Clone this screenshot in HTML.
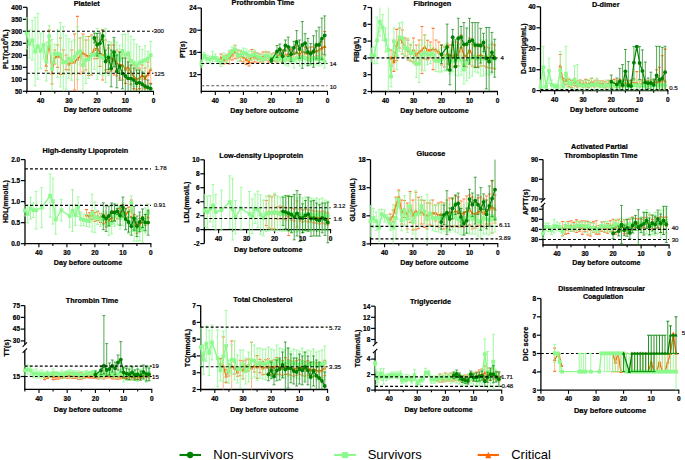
<!DOCTYPE html>
<html><head><meta charset="utf-8"><style>
html,body{margin:0;padding:0;background:#fff;width:685px;height:460px;overflow:hidden}
svg{display:block;font-family:"Liberation Sans", sans-serif}
text[font-weight="bold"]{stroke:#000;stroke-width:0.22px}
</style></head><body>
<svg width="685" height="460" viewBox="0 0 685 460">
<rect width="685" height="460" fill="#fff"/>
<g>
<line x1="27.0" y1="7.3" x2="27.0" y2="91.3" stroke="#000" stroke-width="1.3" />
<line x1="26.4" y1="91.3" x2="154.0" y2="91.3" stroke="#000" stroke-width="1.3" />
<line x1="23.0" y1="7.3" x2="27.0" y2="7.3" stroke="#000" stroke-width="1.2" />
<line x1="23.0" y1="19.3" x2="27.0" y2="19.3" stroke="#000" stroke-width="1.2" />
<line x1="23.0" y1="31.3" x2="27.0" y2="31.3" stroke="#000" stroke-width="1.2" />
<line x1="23.0" y1="43.3" x2="27.0" y2="43.3" stroke="#000" stroke-width="1.2" />
<line x1="23.0" y1="55.3" x2="27.0" y2="55.3" stroke="#000" stroke-width="1.2" />
<line x1="23.0" y1="67.3" x2="27.0" y2="67.3" stroke="#000" stroke-width="1.2" />
<line x1="23.0" y1="79.3" x2="27.0" y2="79.3" stroke="#000" stroke-width="1.2" />
<line x1="23.0" y1="91.3" x2="27.0" y2="91.3" stroke="#000" stroke-width="1.2" />
<line x1="153.5" y1="91.3" x2="153.5" y2="94.9" stroke="#000" stroke-width="1.1" />
<line x1="139.4" y1="91.3" x2="139.4" y2="93.5" stroke="#000" stroke-width="1.1" />
<line x1="125.3" y1="91.3" x2="125.3" y2="94.9" stroke="#000" stroke-width="1.1" />
<line x1="111.2" y1="91.3" x2="111.2" y2="93.5" stroke="#000" stroke-width="1.1" />
<line x1="97.1" y1="91.3" x2="97.1" y2="94.9" stroke="#000" stroke-width="1.1" />
<line x1="83.0" y1="91.3" x2="83.0" y2="93.5" stroke="#000" stroke-width="1.1" />
<line x1="68.9" y1="91.3" x2="68.9" y2="94.9" stroke="#000" stroke-width="1.1" />
<line x1="54.8" y1="91.3" x2="54.8" y2="93.5" stroke="#000" stroke-width="1.1" />
<line x1="40.7" y1="91.3" x2="40.7" y2="94.9" stroke="#000" stroke-width="1.1" />
<line x1="26.6" y1="91.3" x2="26.6" y2="93.5" stroke="#000" stroke-width="1.1" />
<path d="M46.3 60.0V70.6M49.2 30.0V50.0M52.0 62.0V84.0M54.8 50.0V64.0M57.6 45.0V67.4M60.4 38.0V74.4M63.3 50.0V74.0M66.1 55.0V69.6M68.9 58.0V70.0M71.7 50.0V74.0M74.5 34.0V90.0M77.4 16.4V91.3M80.2 38.0V74.0M83.0 34.0V72.0M85.8 40.0V70.0M88.6 36.5V75.5M91.5 35.0V75.0M94.3 40.0V58.8M97.1 37.0V58.6M99.9 40.0V66.4M102.7 30.0V80.0M105.6 40.0V70.0M108.4 48.0V72.0M111.2 45.0V71.0M114.0 45.0V75.0M116.8 50.0V76.0M119.7 52.0V78.0M122.5 50.0V80.0M125.3 55.0V83.4M128.1 55.0V78.8M130.9 60.0V84.4M133.8 65.0V88.6M136.6 68.0V90.0M139.4 68.0V88.6M142.2 65.0V85.6M145.0 68.0V88.6M147.9 62.0V87.0M150.7 55.0V83.4" stroke="#FFA36B" stroke-width="0.8" fill="none" opacity="1"/>
<path d="M44.8 60.0h3M44.8 70.6h3M47.7 30.0h3M47.7 50.0h3M50.5 62.0h3M50.5 84.0h3M53.3 50.0h3M53.3 64.0h3M56.1 45.0h3M56.1 67.4h3M58.9 38.0h3M58.9 74.4h3M61.8 50.0h3M61.8 74.0h3M64.6 55.0h3M64.6 69.6h3M67.4 58.0h3M67.4 70.0h3M70.2 50.0h3M70.2 74.0h3M73.0 34.0h3M73.0 90.0h3M75.9 16.4h3M78.7 38.0h3M78.7 74.0h3M81.5 34.0h3M81.5 72.0h3M84.3 40.0h3M84.3 70.0h3M87.1 36.5h3M87.1 75.5h3M90.0 35.0h3M90.0 75.0h3M92.8 40.0h3M92.8 58.8h3M95.6 37.0h3M95.6 58.6h3M98.4 40.0h3M98.4 66.4h3M101.2 30.0h3M101.2 80.0h3M104.1 40.0h3M104.1 70.0h3M106.9 48.0h3M106.9 72.0h3M109.7 45.0h3M109.7 71.0h3M112.5 45.0h3M112.5 75.0h3M115.3 50.0h3M115.3 76.0h3M118.2 52.0h3M118.2 78.0h3M121.0 50.0h3M121.0 80.0h3M123.8 55.0h3M123.8 83.4h3M126.6 55.0h3M126.6 78.8h3M129.4 60.0h3M129.4 84.4h3M132.3 65.0h3M132.3 88.6h3M135.1 68.0h3M135.1 90.0h3M137.9 68.0h3M137.9 88.6h3M140.7 65.0h3M140.7 85.6h3M143.5 68.0h3M143.5 88.6h3M146.4 62.0h3M146.4 87.0h3M149.2 55.0h3M149.2 83.4h3" stroke="#FF7A2A" stroke-width="1.1" fill="none" opacity="1"/>
<polyline points="46.3,65.3 49.2,40.0 52.0,73.0 54.8,57.0 57.6,56.2 60.4,56.2 63.3,62.0 66.1,62.3 68.9,64.0 71.7,62.0 74.5,62.0 77.4,59.0 80.2,56.0 83.0,53.0 85.8,55.0 88.6,56.0 91.5,55.0 94.3,49.4 97.1,47.8 99.9,53.2 102.7,55.0 105.6,55.0 108.4,60.0 111.2,58.0 114.0,60.0 116.8,63.0 119.7,65.0 122.5,65.0 125.3,69.2 128.1,66.9 130.9,72.2 133.8,76.8 136.6,79.0 139.4,78.3 142.2,75.3 145.0,78.3 147.9,74.5 150.7,69.2" stroke="#FF6600" stroke-width="1.3" fill="none" stroke-linejoin="round"/>
<path d="M46.3 63.2L48.1 66.8L44.5 66.8Z" fill="#FF6600"/>
<path d="M49.2 37.9L51.0 41.5L47.4 41.5Z" fill="#FF6600"/>
<path d="M52.0 70.9L53.8 74.5L50.2 74.5Z" fill="#FF6600"/>
<path d="M54.8 54.9L56.6 58.5L53.0 58.5Z" fill="#FF6600"/>
<path d="M57.6 54.1L59.4 57.7L55.8 57.7Z" fill="#FF6600"/>
<path d="M60.4 54.1L62.2 57.7L58.6 57.7Z" fill="#FF6600"/>
<path d="M63.3 59.9L65.1 63.5L61.5 63.5Z" fill="#FF6600"/>
<path d="M66.1 60.2L67.9 63.8L64.3 63.8Z" fill="#FF6600"/>
<path d="M68.9 61.9L70.7 65.5L67.1 65.5Z" fill="#FF6600"/>
<path d="M71.7 59.9L73.5 63.5L69.9 63.5Z" fill="#FF6600"/>
<path d="M74.5 59.9L76.3 63.5L72.7 63.5Z" fill="#FF6600"/>
<path d="M77.4 56.9L79.2 60.5L75.6 60.5Z" fill="#FF6600"/>
<path d="M80.2 53.9L82.0 57.5L78.4 57.5Z" fill="#FF6600"/>
<path d="M83.0 50.9L84.8 54.5L81.2 54.5Z" fill="#FF6600"/>
<path d="M85.8 52.9L87.6 56.5L84.0 56.5Z" fill="#FF6600"/>
<path d="M88.6 53.9L90.4 57.5L86.8 57.5Z" fill="#FF6600"/>
<path d="M91.5 52.9L93.3 56.5L89.7 56.5Z" fill="#FF6600"/>
<path d="M94.3 47.3L96.1 50.9L92.5 50.9Z" fill="#FF6600"/>
<path d="M97.1 45.7L98.9 49.3L95.3 49.3Z" fill="#FF6600"/>
<path d="M99.9 51.1L101.7 54.7L98.1 54.7Z" fill="#FF6600"/>
<path d="M102.7 52.9L104.5 56.5L100.9 56.5Z" fill="#FF6600"/>
<path d="M105.6 52.9L107.4 56.5L103.8 56.5Z" fill="#FF6600"/>
<path d="M108.4 57.9L110.2 61.5L106.6 61.5Z" fill="#FF6600"/>
<path d="M111.2 55.9L113.0 59.5L109.4 59.5Z" fill="#FF6600"/>
<path d="M114.0 57.9L115.8 61.5L112.2 61.5Z" fill="#FF6600"/>
<path d="M116.8 60.9L118.6 64.5L115.0 64.5Z" fill="#FF6600"/>
<path d="M119.7 62.9L121.5 66.5L117.9 66.5Z" fill="#FF6600"/>
<path d="M122.5 62.9L124.3 66.5L120.7 66.5Z" fill="#FF6600"/>
<path d="M125.3 67.1L127.1 70.7L123.5 70.7Z" fill="#FF6600"/>
<path d="M128.1 64.8L129.9 68.4L126.3 68.4Z" fill="#FF6600"/>
<path d="M130.9 70.1L132.7 73.7L129.1 73.7Z" fill="#FF6600"/>
<path d="M133.8 74.7L135.6 78.3L132.0 78.3Z" fill="#FF6600"/>
<path d="M136.6 76.9L138.4 80.5L134.8 80.5Z" fill="#FF6600"/>
<path d="M139.4 76.2L141.2 79.8L137.6 79.8Z" fill="#FF6600"/>
<path d="M142.2 73.2L144.0 76.8L140.4 76.8Z" fill="#FF6600"/>
<path d="M145.0 76.2L146.8 79.8L143.2 79.8Z" fill="#FF6600"/>
<path d="M147.9 72.4L149.7 76.0L146.1 76.0Z" fill="#FF6600"/>
<path d="M150.7 67.1L152.5 70.7L148.9 70.7Z" fill="#FF6600"/>
<path d="M26.6 17.8V49.0M29.4 30.0V58.0M32.2 20.3V60.1M35.1 17.3V85.9M37.9 13.4V79.2M40.7 33.1V68.7M43.5 31.4V58.8M46.3 42.0V81.0M49.2 25.6V47.2M52.0 39.5V91.3M54.8 44.3V63.5M57.6 29.8V77.4M60.4 22.6V86.8M63.3 26.5V91.3M66.1 35.4V89.2M68.9 38.7V78.3M71.7 41.3V80.3M74.5 40.0V74.0M77.4 26.7V79.7M80.2 38.2V64.2M83.0 36.0V91.3M85.8 36.5V83.5M88.6 40.0V78.4M91.5 36.0V74.0M94.3 40.0V69.4M97.1 28.4V79.4M99.9 38.0V74.4M102.7 40.0V75.4M105.6 28.4V82.6M108.4 41.5V75.5M111.2 42.0V67.4M114.0 40.0V66.4M116.8 42.0V69.0M119.7 45.2V74.8M122.5 34.5V67.3M125.3 34.0V75.4M128.1 30.7V75.7M130.9 36.4V85.2M133.8 39.4V86.6M136.6 44.4V86.2M139.4 46.4V79.6M142.2 49.6V73.4M145.0 45.7V74.9M147.9 51.3V66.3M150.7 41.3V69.1" stroke="#8CF98C" stroke-width="0.8" fill="none" opacity="1"/>
<path d="M25.1 17.8h3M25.1 49.0h3M27.9 30.0h3M27.9 58.0h3M30.7 20.3h3M30.7 60.1h3M33.6 17.3h3M33.6 85.9h3M36.4 13.4h3M36.4 79.2h3M39.2 33.1h3M39.2 68.7h3M42.0 31.4h3M42.0 58.8h3M44.8 42.0h3M44.8 81.0h3M47.7 25.6h3M47.7 47.2h3M50.5 39.5h3M53.3 44.3h3M53.3 63.5h3M56.1 29.8h3M56.1 77.4h3M58.9 22.6h3M58.9 86.8h3M61.8 26.5h3M64.6 35.4h3M64.6 89.2h3M67.4 38.7h3M67.4 78.3h3M70.2 41.3h3M70.2 80.3h3M73.0 40.0h3M73.0 74.0h3M75.9 26.7h3M75.9 79.7h3M78.7 38.2h3M78.7 64.2h3M81.5 36.0h3M84.3 36.5h3M84.3 83.5h3M87.1 40.0h3M87.1 78.4h3M90.0 36.0h3M90.0 74.0h3M92.8 40.0h3M92.8 69.4h3M95.6 28.4h3M95.6 79.4h3M98.4 38.0h3M98.4 74.4h3M101.2 40.0h3M101.2 75.4h3M104.1 28.4h3M104.1 82.6h3M106.9 41.5h3M106.9 75.5h3M109.7 42.0h3M109.7 67.4h3M112.5 40.0h3M112.5 66.4h3M115.3 42.0h3M115.3 69.0h3M118.2 45.2h3M118.2 74.8h3M121.0 34.5h3M121.0 67.3h3M123.8 34.0h3M123.8 75.4h3M126.6 30.7h3M126.6 75.7h3M129.4 36.4h3M129.4 85.2h3M132.3 39.4h3M132.3 86.6h3M135.1 44.4h3M135.1 86.2h3M137.9 46.4h3M137.9 79.6h3M140.7 49.6h3M140.7 73.4h3M143.5 45.7h3M143.5 74.9h3M146.4 51.3h3M146.4 66.3h3M149.2 41.3h3M149.2 69.1h3" stroke="#8CF98C" stroke-width="0.8" fill="none" opacity="1"/>
<polyline points="26.6,33.4 29.4,44.0 32.2,40.2 35.1,51.6 37.9,46.3 40.7,50.9 43.5,45.1 46.3,61.5 49.2,36.4 52.0,69.1 54.8,53.9 57.6,53.6 60.4,54.7 63.3,62.3 66.1,62.3 68.9,58.5 71.7,60.8 74.5,57.0 77.4,53.2 80.2,51.2 83.0,65.3 85.8,60.0 88.6,59.2 91.5,55.0 94.3,54.7 97.1,53.9 99.9,56.2 102.7,57.7 105.6,55.5 108.4,58.5 111.2,54.7 114.0,53.2 116.8,55.5 119.7,60.0 122.5,50.9 125.3,54.7 128.1,53.2 130.9,60.8 133.8,63.0 136.6,65.3 139.4,63.0 142.2,61.5 145.0,60.3 147.9,58.8 150.7,55.2" stroke="#8CF98C" stroke-width="1.4" fill="none" stroke-linejoin="round"/>
<rect x="24.8" y="31.5" width="3.7" height="3.7" fill="#8CF98C"/>
<rect x="27.6" y="42.1" width="3.7" height="3.7" fill="#8CF98C"/>
<rect x="30.4" y="38.4" width="3.7" height="3.7" fill="#8CF98C"/>
<rect x="33.2" y="49.8" width="3.7" height="3.7" fill="#8CF98C"/>
<rect x="36.0" y="44.4" width="3.7" height="3.7" fill="#8CF98C"/>
<rect x="38.9" y="49.0" width="3.7" height="3.7" fill="#8CF98C"/>
<rect x="41.7" y="43.2" width="3.7" height="3.7" fill="#8CF98C"/>
<rect x="44.5" y="59.6" width="3.7" height="3.7" fill="#8CF98C"/>
<rect x="47.3" y="34.5" width="3.7" height="3.7" fill="#8CF98C"/>
<rect x="50.1" y="67.2" width="3.7" height="3.7" fill="#8CF98C"/>
<rect x="53.0" y="52.0" width="3.7" height="3.7" fill="#8CF98C"/>
<rect x="55.8" y="51.8" width="3.7" height="3.7" fill="#8CF98C"/>
<rect x="58.6" y="52.9" width="3.7" height="3.7" fill="#8CF98C"/>
<rect x="61.4" y="60.4" width="3.7" height="3.7" fill="#8CF98C"/>
<rect x="64.2" y="60.4" width="3.7" height="3.7" fill="#8CF98C"/>
<rect x="67.1" y="56.6" width="3.7" height="3.7" fill="#8CF98C"/>
<rect x="69.9" y="58.9" width="3.7" height="3.7" fill="#8CF98C"/>
<rect x="72.7" y="55.1" width="3.7" height="3.7" fill="#8CF98C"/>
<rect x="75.5" y="51.4" width="3.7" height="3.7" fill="#8CF98C"/>
<rect x="78.3" y="49.4" width="3.7" height="3.7" fill="#8CF98C"/>
<rect x="81.2" y="63.4" width="3.7" height="3.7" fill="#8CF98C"/>
<rect x="84.0" y="58.1" width="3.7" height="3.7" fill="#8CF98C"/>
<rect x="86.8" y="57.4" width="3.7" height="3.7" fill="#8CF98C"/>
<rect x="89.6" y="53.1" width="3.7" height="3.7" fill="#8CF98C"/>
<rect x="92.4" y="52.9" width="3.7" height="3.7" fill="#8CF98C"/>
<rect x="95.2" y="52.0" width="3.7" height="3.7" fill="#8CF98C"/>
<rect x="98.1" y="54.4" width="3.7" height="3.7" fill="#8CF98C"/>
<rect x="100.9" y="55.9" width="3.7" height="3.7" fill="#8CF98C"/>
<rect x="103.7" y="53.6" width="3.7" height="3.7" fill="#8CF98C"/>
<rect x="106.5" y="56.6" width="3.7" height="3.7" fill="#8CF98C"/>
<rect x="109.4" y="52.9" width="3.7" height="3.7" fill="#8CF98C"/>
<rect x="112.2" y="51.4" width="3.7" height="3.7" fill="#8CF98C"/>
<rect x="115.0" y="53.6" width="3.7" height="3.7" fill="#8CF98C"/>
<rect x="117.8" y="58.1" width="3.7" height="3.7" fill="#8CF98C"/>
<rect x="120.6" y="49.0" width="3.7" height="3.7" fill="#8CF98C"/>
<rect x="123.5" y="52.9" width="3.7" height="3.7" fill="#8CF98C"/>
<rect x="126.3" y="51.4" width="3.7" height="3.7" fill="#8CF98C"/>
<rect x="129.1" y="58.9" width="3.7" height="3.7" fill="#8CF98C"/>
<rect x="131.9" y="61.1" width="3.7" height="3.7" fill="#8CF98C"/>
<rect x="134.7" y="63.4" width="3.7" height="3.7" fill="#8CF98C"/>
<rect x="137.6" y="61.1" width="3.7" height="3.7" fill="#8CF98C"/>
<rect x="140.4" y="59.6" width="3.7" height="3.7" fill="#8CF98C"/>
<rect x="143.2" y="58.4" width="3.7" height="3.7" fill="#8CF98C"/>
<rect x="146.0" y="56.9" width="3.7" height="3.7" fill="#8CF98C"/>
<rect x="148.8" y="53.4" width="3.7" height="3.7" fill="#8CF98C"/>
<path d="M94.3 33.0V42.8M97.1 33.5V56.1M99.9 33.0V53.6M102.7 30.0V42.0M105.6 50.0V73.0M108.4 45.0V69.6M111.2 50.0V86.8M114.0 37.4V66.8M116.8 55.0V87.8M119.7 52.0V80.2M122.5 58.0V88.8M125.3 58.0V91.3M128.1 62.0V91.3M130.9 65.0V91.3M133.8 68.0V91.3M136.6 70.0V91.3M139.4 70.0V91.3M142.2 72.0V91.3M145.0 76.0V91.3M147.9 80.0V91.3M150.7 84.0V91.3" stroke="#008000" stroke-width="0.9" fill="none" opacity="0.75"/>
<path d="M92.8 33.0h3M92.8 42.8h3M95.6 33.5h3M95.6 56.1h3M98.4 33.0h3M98.4 53.6h3M101.2 30.0h3M101.2 42.0h3M104.1 50.0h3M104.1 73.0h3M106.9 45.0h3M106.9 69.6h3M109.7 50.0h3M109.7 86.8h3M112.5 37.4h3M112.5 66.8h3M115.3 55.0h3M115.3 87.8h3M118.2 52.0h3M118.2 80.2h3M121.0 58.0h3M121.0 88.8h3M123.8 58.0h3M126.6 62.0h3M129.4 65.0h3M132.3 68.0h3M135.1 70.0h3M137.9 70.0h3M140.7 72.0h3M143.5 76.0h3M146.4 80.0h3M149.2 84.0h3" stroke="#008000" stroke-width="0.9" fill="none" opacity="0.75"/>
<polyline points="94.3,37.9 97.1,44.8 99.9,43.3 102.7,36.0 105.6,61.5 108.4,57.3 111.2,68.4 114.0,52.1 116.8,71.4 119.7,66.1 122.5,73.4 125.3,76.0 128.1,78.3 130.9,78.6 133.8,80.1 136.6,83.2 139.4,82.6 142.2,84.1 145.0,86.2 147.9,87.4 150.7,88.7" stroke="#008000" stroke-width="1.2" fill="none" stroke-linejoin="round"/>
<circle cx="94.3" cy="37.9" r="1.9" fill="#008000"/>
<circle cx="97.1" cy="44.8" r="1.9" fill="#008000"/>
<circle cx="99.9" cy="43.3" r="1.9" fill="#008000"/>
<circle cx="102.7" cy="36.0" r="1.9" fill="#008000"/>
<circle cx="105.6" cy="61.5" r="1.9" fill="#008000"/>
<circle cx="108.4" cy="57.3" r="1.9" fill="#008000"/>
<circle cx="111.2" cy="68.4" r="1.9" fill="#008000"/>
<circle cx="114.0" cy="52.1" r="1.9" fill="#008000"/>
<circle cx="116.8" cy="71.4" r="1.9" fill="#008000"/>
<circle cx="119.7" cy="66.1" r="1.9" fill="#008000"/>
<circle cx="122.5" cy="73.4" r="1.9" fill="#008000"/>
<circle cx="125.3" cy="76.0" r="1.9" fill="#008000"/>
<circle cx="128.1" cy="78.3" r="1.9" fill="#008000"/>
<circle cx="130.9" cy="78.6" r="1.9" fill="#008000"/>
<circle cx="133.8" cy="80.1" r="1.9" fill="#008000"/>
<circle cx="136.6" cy="83.2" r="1.9" fill="#008000"/>
<circle cx="139.4" cy="82.6" r="1.9" fill="#008000"/>
<circle cx="142.2" cy="84.1" r="1.9" fill="#008000"/>
<circle cx="145.0" cy="86.2" r="1.9" fill="#008000"/>
<circle cx="147.9" cy="87.4" r="1.9" fill="#008000"/>
<circle cx="150.7" cy="88.7" r="1.9" fill="#008000"/>
<line x1="27.0" y1="31.3" x2="153.5" y2="31.3" stroke="#000" stroke-width="1.1" stroke-dasharray="2.9 2.1"/>
<line x1="27.0" y1="73.3" x2="153.5" y2="73.3" stroke="#000" stroke-width="1.1" stroke-dasharray="2.9 2.1"/>
<text x="153.8" y="33.0" font-size="6.1" font-weight="normal" text-anchor="start" fill="#111" stroke="#111" stroke-width="0.2">300</text>
<text x="154.2" y="75.8" font-size="6.1" font-weight="normal" text-anchor="start" fill="#111" stroke="#111" stroke-width="0.2">125</text>
<text x="22.2" y="9.6" font-size="6.5" font-weight="bold" text-anchor="end" fill="#000" >400</text>
<text x="22.2" y="21.6" font-size="6.5" font-weight="bold" text-anchor="end" fill="#000" >350</text>
<text x="22.2" y="33.6" font-size="6.5" font-weight="bold" text-anchor="end" fill="#000" >300</text>
<text x="22.2" y="45.6" font-size="6.5" font-weight="bold" text-anchor="end" fill="#000" >250</text>
<text x="22.2" y="57.6" font-size="6.5" font-weight="bold" text-anchor="end" fill="#000" >200</text>
<text x="22.2" y="69.6" font-size="6.5" font-weight="bold" text-anchor="end" fill="#000" >150</text>
<text x="22.2" y="81.6" font-size="6.5" font-weight="bold" text-anchor="end" fill="#000" >100</text>
<text x="22.2" y="93.6" font-size="6.5" font-weight="bold" text-anchor="end" fill="#000" >50</text>
<text x="153.5" y="102.5" font-size="6.5" font-weight="bold" text-anchor="middle" fill="#000" >0</text>
<text x="125.3" y="102.5" font-size="6.5" font-weight="bold" text-anchor="middle" fill="#000" >10</text>
<text x="97.1" y="102.5" font-size="6.5" font-weight="bold" text-anchor="middle" fill="#000" >20</text>
<text x="68.9" y="102.5" font-size="6.5" font-weight="bold" text-anchor="middle" fill="#000" >30</text>
<text x="40.7" y="102.5" font-size="6.5" font-weight="bold" text-anchor="middle" fill="#000" >40</text>
<text x="97.9" y="111.8" font-size="7.5" font-weight="bold" text-anchor="middle" fill="#000" textLength="68.3" lengthAdjust="spacingAndGlyphs" >Day before outcome</text>
<text transform="translate(7.6,49.1) rotate(-90)" font-size="7.3" font-weight="bold" text-anchor="middle">PLT(x10<tspan font-size="5" dy="-3">9</tspan><tspan dy="3">/L)</tspan></text>
<text x="86.7" y="5.8" font-size="7.3" font-weight="bold" text-anchor="middle" fill="#000" >Platelet</text>
</g>
<g>
<line x1="201.3" y1="8.0" x2="201.3" y2="91.4" stroke="#000" stroke-width="1.3" />
<line x1="200.7" y1="91.4" x2="328.0" y2="91.4" stroke="#000" stroke-width="1.3" />
<line x1="197.3" y1="8.0" x2="201.3" y2="8.0" stroke="#000" stroke-width="1.2" />
<line x1="197.3" y1="30.2" x2="201.3" y2="30.2" stroke="#000" stroke-width="1.2" />
<line x1="197.3" y1="52.4" x2="201.3" y2="52.4" stroke="#000" stroke-width="1.2" />
<line x1="197.3" y1="74.6" x2="201.3" y2="74.6" stroke="#000" stroke-width="1.2" />
<line x1="327.5" y1="91.4" x2="327.5" y2="95.0" stroke="#000" stroke-width="1.1" />
<line x1="313.5" y1="91.4" x2="313.5" y2="93.6" stroke="#000" stroke-width="1.1" />
<line x1="299.5" y1="91.4" x2="299.5" y2="95.0" stroke="#000" stroke-width="1.1" />
<line x1="285.4" y1="91.4" x2="285.4" y2="93.6" stroke="#000" stroke-width="1.1" />
<line x1="271.4" y1="91.4" x2="271.4" y2="95.0" stroke="#000" stroke-width="1.1" />
<line x1="257.4" y1="91.4" x2="257.4" y2="93.6" stroke="#000" stroke-width="1.1" />
<line x1="243.4" y1="91.4" x2="243.4" y2="95.0" stroke="#000" stroke-width="1.1" />
<line x1="229.4" y1="91.4" x2="229.4" y2="93.6" stroke="#000" stroke-width="1.1" />
<line x1="215.3" y1="91.4" x2="215.3" y2="95.0" stroke="#000" stroke-width="1.1" />
<line x1="201.3" y1="91.4" x2="201.3" y2="93.6" stroke="#000" stroke-width="1.1" />
<path d="M220.9 54.0V62.0M223.8 56.0V64.0M226.6 55.0V63.0M229.4 52.0V64.0M232.2 50.0V60.0M235.0 45.2V58.8M237.8 50.0V58.0M240.6 51.0V61.0M243.4 52.0V62.0M246.2 54.0V64.4M249.0 58.0V66.0M251.8 49.5V62.5M254.6 52.0V62.0M257.4 53.0V63.0M260.2 54.0V62.0M263.0 52.0V62.0M265.8 52.0V60.0M268.6 52.0V62.0M271.4 54.0V62.0M274.2 53.0V61.0M277.0 52.0V62.0M279.8 50.0V60.0M282.6 50.0V62.0M285.4 50.0V60.0M288.2 48.0V60.0M291.0 49.0V61.0M293.9 47.0V59.0M296.7 46.0V58.0M299.5 50.0V60.0M302.3 45.0V57.0M305.1 47.0V59.0M307.9 48.0V58.0M310.7 47.0V57.0M313.5 47.0V57.0M316.3 46.0V56.0M319.1 44.0V56.0M321.9 42.0V54.0M324.7 31.5V61.5" stroke="#FFA36B" stroke-width="0.8" fill="none" opacity="1"/>
<path d="M219.4 54.0h3M219.4 62.0h3M222.3 56.0h3M222.3 64.0h3M225.1 55.0h3M225.1 63.0h3M227.9 52.0h3M227.9 64.0h3M230.7 50.0h3M230.7 60.0h3M233.5 45.2h3M233.5 58.8h3M236.3 50.0h3M236.3 58.0h3M239.1 51.0h3M239.1 61.0h3M241.9 52.0h3M241.9 62.0h3M244.7 54.0h3M244.7 64.4h3M247.5 58.0h3M247.5 66.0h3M250.3 49.5h3M250.3 62.5h3M253.1 52.0h3M253.1 62.0h3M255.9 53.0h3M255.9 63.0h3M258.7 54.0h3M258.7 62.0h3M261.5 52.0h3M261.5 62.0h3M264.3 52.0h3M264.3 60.0h3M267.1 52.0h3M267.1 62.0h3M269.9 54.0h3M269.9 62.0h3M272.7 53.0h3M272.7 61.0h3M275.5 52.0h3M275.5 62.0h3M278.3 50.0h3M278.3 60.0h3M281.1 50.0h3M281.1 62.0h3M283.9 50.0h3M283.9 60.0h3M286.7 48.0h3M286.7 60.0h3M289.5 49.0h3M289.5 61.0h3M292.4 47.0h3M292.4 59.0h3M295.2 46.0h3M295.2 58.0h3M298.0 50.0h3M298.0 60.0h3M300.8 45.0h3M300.8 57.0h3M303.6 47.0h3M303.6 59.0h3M306.4 48.0h3M306.4 58.0h3M309.2 47.0h3M309.2 57.0h3M312.0 47.0h3M312.0 57.0h3M314.8 46.0h3M314.8 56.0h3M317.6 44.0h3M317.6 56.0h3M320.4 42.0h3M320.4 54.0h3M323.2 31.5h3M323.2 61.5h3" stroke="#FF7A2A" stroke-width="1.1" fill="none" opacity="1"/>
<polyline points="220.9,58.0 223.8,60.0 226.6,59.0 229.4,58.0 232.2,55.0 235.0,52.0 237.8,54.0 240.6,56.0 243.4,57.0 246.2,59.2 249.0,62.0 251.8,56.0 254.6,57.0 257.4,58.0 260.2,58.0 263.0,57.0 265.8,56.0 268.6,57.0 271.4,58.0 274.2,57.0 277.0,57.0 279.8,55.0 282.6,56.0 285.4,55.0 288.2,54.0 291.0,55.0 293.9,53.0 296.7,52.0 299.5,55.0 302.3,51.0 305.1,53.0 307.9,53.0 310.7,52.0 313.5,52.0 316.3,51.0 319.1,50.0 321.9,48.0 324.7,46.5" stroke="#FF6600" stroke-width="1.3" fill="none" stroke-linejoin="round"/>
<path d="M220.9 55.9L222.7 59.5L219.1 59.5Z" fill="#FF6600"/>
<path d="M223.8 57.9L225.6 61.5L222.0 61.5Z" fill="#FF6600"/>
<path d="M226.6 56.9L228.4 60.5L224.8 60.5Z" fill="#FF6600"/>
<path d="M229.4 55.9L231.2 59.5L227.6 59.5Z" fill="#FF6600"/>
<path d="M232.2 52.9L234.0 56.5L230.4 56.5Z" fill="#FF6600"/>
<path d="M235.0 49.9L236.8 53.5L233.2 53.5Z" fill="#FF6600"/>
<path d="M237.8 51.9L239.6 55.5L236.0 55.5Z" fill="#FF6600"/>
<path d="M240.6 53.9L242.4 57.5L238.8 57.5Z" fill="#FF6600"/>
<path d="M243.4 54.9L245.2 58.5L241.6 58.5Z" fill="#FF6600"/>
<path d="M246.2 57.1L248.0 60.7L244.4 60.7Z" fill="#FF6600"/>
<path d="M249.0 59.9L250.8 63.5L247.2 63.5Z" fill="#FF6600"/>
<path d="M251.8 53.9L253.6 57.5L250.0 57.5Z" fill="#FF6600"/>
<path d="M254.6 54.9L256.4 58.5L252.8 58.5Z" fill="#FF6600"/>
<path d="M257.4 55.9L259.2 59.5L255.6 59.5Z" fill="#FF6600"/>
<path d="M260.2 55.9L262.0 59.5L258.4 59.5Z" fill="#FF6600"/>
<path d="M263.0 54.9L264.8 58.5L261.2 58.5Z" fill="#FF6600"/>
<path d="M265.8 53.9L267.6 57.5L264.0 57.5Z" fill="#FF6600"/>
<path d="M268.6 54.9L270.4 58.5L266.8 58.5Z" fill="#FF6600"/>
<path d="M271.4 55.9L273.2 59.5L269.6 59.5Z" fill="#FF6600"/>
<path d="M274.2 54.9L276.0 58.5L272.4 58.5Z" fill="#FF6600"/>
<path d="M277.0 54.9L278.8 58.5L275.2 58.5Z" fill="#FF6600"/>
<path d="M279.8 52.9L281.6 56.5L278.0 56.5Z" fill="#FF6600"/>
<path d="M282.6 53.9L284.4 57.5L280.8 57.5Z" fill="#FF6600"/>
<path d="M285.4 52.9L287.2 56.5L283.6 56.5Z" fill="#FF6600"/>
<path d="M288.2 51.9L290.0 55.5L286.4 55.5Z" fill="#FF6600"/>
<path d="M291.0 52.9L292.8 56.5L289.2 56.5Z" fill="#FF6600"/>
<path d="M293.9 50.9L295.7 54.5L292.1 54.5Z" fill="#FF6600"/>
<path d="M296.7 49.9L298.5 53.5L294.9 53.5Z" fill="#FF6600"/>
<path d="M299.5 52.9L301.3 56.5L297.7 56.5Z" fill="#FF6600"/>
<path d="M302.3 48.9L304.1 52.5L300.5 52.5Z" fill="#FF6600"/>
<path d="M305.1 50.9L306.9 54.5L303.3 54.5Z" fill="#FF6600"/>
<path d="M307.9 50.9L309.7 54.5L306.1 54.5Z" fill="#FF6600"/>
<path d="M310.7 49.9L312.5 53.5L308.9 53.5Z" fill="#FF6600"/>
<path d="M313.5 49.9L315.3 53.5L311.7 53.5Z" fill="#FF6600"/>
<path d="M316.3 48.9L318.1 52.5L314.5 52.5Z" fill="#FF6600"/>
<path d="M319.1 47.9L320.9 51.5L317.3 51.5Z" fill="#FF6600"/>
<path d="M321.9 45.9L323.7 49.5L320.1 49.5Z" fill="#FF6600"/>
<path d="M324.7 44.4L326.5 48.0L322.9 48.0Z" fill="#FF6600"/>
<path d="M201.3 60.0V67.6M204.1 52.6V58.6M206.9 55.0V62.4M209.7 56.0V62.4M212.5 51.4V64.0M215.3 54.0V61.4M218.1 57.0V63.4M220.9 59.0V66.6M223.8 53.0V61.4M226.6 54.0V62.4M229.4 50.0V59.2M232.2 47.0V56.2M235.0 45.4V53.6M237.8 50.0V61.2M240.6 50.0V60.2M243.4 48.0V57.2M246.2 49.0V58.2M249.0 51.0V60.2M251.8 51.0V60.2M254.6 50.0V59.2M257.4 53.0V60.4M260.2 54.0V61.4M263.0 55.0V63.4M265.8 51.0V60.2M268.6 53.0V60.4M271.4 54.0V62.0M274.2 53.0V61.0M277.0 55.0V63.0M279.8 54.0V62.0M282.6 55.0V63.0M285.4 55.0V65.0M288.2 50.0V66.0M291.0 55.0V63.0M293.9 52.0V68.0M296.7 53.0V63.0M299.5 52.0V66.0M302.3 50.0V64.0M305.1 52.0V64.0M307.9 52.0V66.0M310.7 55.0V65.0M313.5 52.0V64.0M316.3 53.0V65.0M319.1 50.0V66.0M321.9 53.0V65.0M324.7 56.0V68.0" stroke="#8CF98C" stroke-width="0.8" fill="none" opacity="1"/>
<path d="M199.8 60.0h3M199.8 67.6h3M202.6 52.6h3M202.6 58.6h3M205.4 55.0h3M205.4 62.4h3M208.2 56.0h3M208.2 62.4h3M211.0 51.4h3M211.0 64.0h3M213.8 54.0h3M213.8 61.4h3M216.6 57.0h3M216.6 63.4h3M219.4 59.0h3M219.4 66.6h3M222.3 53.0h3M222.3 61.4h3M225.1 54.0h3M225.1 62.4h3M227.9 50.0h3M227.9 59.2h3M230.7 47.0h3M230.7 56.2h3M233.5 45.4h3M233.5 53.6h3M236.3 50.0h3M236.3 61.2h3M239.1 50.0h3M239.1 60.2h3M241.9 48.0h3M241.9 57.2h3M244.7 49.0h3M244.7 58.2h3M247.5 51.0h3M247.5 60.2h3M250.3 51.0h3M250.3 60.2h3M253.1 50.0h3M253.1 59.2h3M255.9 53.0h3M255.9 60.4h3M258.7 54.0h3M258.7 61.4h3M261.5 55.0h3M261.5 63.4h3M264.3 51.0h3M264.3 60.2h3M267.1 53.0h3M267.1 60.4h3M269.9 54.0h3M269.9 62.0h3M272.7 53.0h3M272.7 61.0h3M275.5 55.0h3M275.5 63.0h3M278.3 54.0h3M278.3 62.0h3M281.1 55.0h3M281.1 63.0h3M283.9 55.0h3M283.9 65.0h3M286.7 50.0h3M286.7 66.0h3M289.5 55.0h3M289.5 63.0h3M292.4 52.0h3M292.4 68.0h3M295.2 53.0h3M295.2 63.0h3M298.0 52.0h3M298.0 66.0h3M300.8 50.0h3M300.8 64.0h3M303.6 52.0h3M303.6 64.0h3M306.4 52.0h3M306.4 66.0h3M309.2 55.0h3M309.2 65.0h3M312.0 52.0h3M312.0 64.0h3M314.8 53.0h3M314.8 65.0h3M317.6 50.0h3M317.6 66.0h3M320.4 53.0h3M320.4 65.0h3M323.2 56.0h3M323.2 68.0h3" stroke="#8CF98C" stroke-width="0.8" fill="none" opacity="1"/>
<polyline points="201.3,63.8 204.1,55.6 206.9,58.7 209.7,59.2 212.5,57.7 215.3,57.7 218.1,60.2 220.9,62.8 223.8,57.2 226.6,58.2 229.4,54.6 232.2,51.6 235.0,49.5 237.8,55.6 240.6,55.1 243.4,52.6 246.2,53.6 249.0,55.6 251.8,55.6 254.6,54.6 257.4,56.7 260.2,57.7 263.0,59.2 265.8,55.6 268.6,56.7 271.4,58.0 274.2,57.0 277.0,59.0 279.8,58.0 282.6,59.0 285.4,60.0 288.2,58.0 291.0,59.0 293.9,60.0 296.7,58.0 299.5,59.0 302.3,57.0 305.1,58.0 307.9,59.0 310.7,60.0 313.5,58.0 316.3,59.0 319.1,58.0 321.9,59.0 324.7,62.0" stroke="#8CF98C" stroke-width="1.4" fill="none" stroke-linejoin="round"/>
<rect x="199.5" y="61.9" width="3.7" height="3.7" fill="#8CF98C"/>
<rect x="202.3" y="53.8" width="3.7" height="3.7" fill="#8CF98C"/>
<rect x="205.1" y="56.9" width="3.7" height="3.7" fill="#8CF98C"/>
<rect x="207.9" y="57.4" width="3.7" height="3.7" fill="#8CF98C"/>
<rect x="210.7" y="55.9" width="3.7" height="3.7" fill="#8CF98C"/>
<rect x="213.5" y="55.9" width="3.7" height="3.7" fill="#8CF98C"/>
<rect x="216.3" y="58.4" width="3.7" height="3.7" fill="#8CF98C"/>
<rect x="219.1" y="60.9" width="3.7" height="3.7" fill="#8CF98C"/>
<rect x="221.9" y="55.4" width="3.7" height="3.7" fill="#8CF98C"/>
<rect x="224.7" y="56.4" width="3.7" height="3.7" fill="#8CF98C"/>
<rect x="227.5" y="52.8" width="3.7" height="3.7" fill="#8CF98C"/>
<rect x="230.3" y="49.8" width="3.7" height="3.7" fill="#8CF98C"/>
<rect x="233.1" y="47.6" width="3.7" height="3.7" fill="#8CF98C"/>
<rect x="235.9" y="53.8" width="3.7" height="3.7" fill="#8CF98C"/>
<rect x="238.7" y="53.2" width="3.7" height="3.7" fill="#8CF98C"/>
<rect x="241.5" y="50.8" width="3.7" height="3.7" fill="#8CF98C"/>
<rect x="244.3" y="51.8" width="3.7" height="3.7" fill="#8CF98C"/>
<rect x="247.1" y="53.8" width="3.7" height="3.7" fill="#8CF98C"/>
<rect x="249.9" y="53.8" width="3.7" height="3.7" fill="#8CF98C"/>
<rect x="252.7" y="52.8" width="3.7" height="3.7" fill="#8CF98C"/>
<rect x="255.5" y="54.9" width="3.7" height="3.7" fill="#8CF98C"/>
<rect x="258.4" y="55.9" width="3.7" height="3.7" fill="#8CF98C"/>
<rect x="261.2" y="57.4" width="3.7" height="3.7" fill="#8CF98C"/>
<rect x="264.0" y="53.8" width="3.7" height="3.7" fill="#8CF98C"/>
<rect x="266.8" y="54.9" width="3.7" height="3.7" fill="#8CF98C"/>
<rect x="269.6" y="56.1" width="3.7" height="3.7" fill="#8CF98C"/>
<rect x="272.4" y="55.1" width="3.7" height="3.7" fill="#8CF98C"/>
<rect x="275.2" y="57.1" width="3.7" height="3.7" fill="#8CF98C"/>
<rect x="278.0" y="56.1" width="3.7" height="3.7" fill="#8CF98C"/>
<rect x="280.8" y="57.1" width="3.7" height="3.7" fill="#8CF98C"/>
<rect x="283.6" y="58.1" width="3.7" height="3.7" fill="#8CF98C"/>
<rect x="286.4" y="56.1" width="3.7" height="3.7" fill="#8CF98C"/>
<rect x="289.2" y="57.1" width="3.7" height="3.7" fill="#8CF98C"/>
<rect x="292.0" y="58.1" width="3.7" height="3.7" fill="#8CF98C"/>
<rect x="294.8" y="56.1" width="3.7" height="3.7" fill="#8CF98C"/>
<rect x="297.6" y="57.1" width="3.7" height="3.7" fill="#8CF98C"/>
<rect x="300.4" y="55.1" width="3.7" height="3.7" fill="#8CF98C"/>
<rect x="303.2" y="56.1" width="3.7" height="3.7" fill="#8CF98C"/>
<rect x="306.0" y="57.1" width="3.7" height="3.7" fill="#8CF98C"/>
<rect x="308.8" y="58.1" width="3.7" height="3.7" fill="#8CF98C"/>
<rect x="311.6" y="56.1" width="3.7" height="3.7" fill="#8CF98C"/>
<rect x="314.4" y="57.1" width="3.7" height="3.7" fill="#8CF98C"/>
<rect x="317.2" y="56.1" width="3.7" height="3.7" fill="#8CF98C"/>
<rect x="320.0" y="57.1" width="3.7" height="3.7" fill="#8CF98C"/>
<rect x="322.8" y="60.1" width="3.7" height="3.7" fill="#8CF98C"/>
<path d="M271.4 58.0V62.4M277.0 45.5V57.5M279.8 44.0V54.2M282.6 50.0V62.6M285.4 40.0V51.0M288.2 37.1V56.5M291.0 47.0V61.6M293.9 41.3V54.3M296.7 30.6V53.2M299.5 40.0V58.2M302.3 21.5V68.3M305.1 33.7V52.7M307.9 38.4V65.6M310.7 43.6V63.8M313.5 35.8V67.2M316.3 30.9V58.9M319.1 27.2V62.6M321.9 18.1V59.3M324.7 15.9V54.9" stroke="#008000" stroke-width="0.9" fill="none" opacity="0.75"/>
<path d="M269.9 58.0h3M269.9 62.4h3M275.5 45.5h3M275.5 57.5h3M278.3 44.0h3M278.3 54.2h3M281.1 50.0h3M281.1 62.6h3M283.9 40.0h3M283.9 51.0h3M286.7 37.1h3M286.7 56.5h3M289.5 47.0h3M289.5 61.6h3M292.4 41.3h3M292.4 54.3h3M295.2 30.6h3M295.2 53.2h3M298.0 40.0h3M298.0 58.2h3M300.8 21.5h3M300.8 68.3h3M303.6 33.7h3M303.6 52.7h3M306.4 38.4h3M306.4 65.6h3M309.2 43.6h3M309.2 63.8h3M312.0 35.8h3M312.0 67.2h3M314.8 30.9h3M314.8 58.9h3M317.6 27.2h3M317.6 62.6h3M320.4 18.1h3M320.4 59.3h3M323.2 15.9h3M323.2 54.9h3" stroke="#008000" stroke-width="0.9" fill="none" opacity="0.75"/>
<polyline points="271.4,60.2 277.0,51.5 279.8,49.1 282.6,56.3 285.4,45.5 288.2,46.8 291.0,54.3 293.9,47.8 296.7,41.9 299.5,49.1 302.3,44.9 305.1,43.2 307.9,52.0 310.7,53.7 313.5,51.5 316.3,44.9 319.1,44.9 321.9,38.7 324.7,35.4" stroke="#008000" stroke-width="1.2" fill="none" stroke-linejoin="round"/>
<circle cx="271.4" cy="60.2" r="1.9" fill="#008000"/>
<circle cx="277.0" cy="51.5" r="1.9" fill="#008000"/>
<circle cx="279.8" cy="49.1" r="1.9" fill="#008000"/>
<circle cx="282.6" cy="56.3" r="1.9" fill="#008000"/>
<circle cx="285.4" cy="45.5" r="1.9" fill="#008000"/>
<circle cx="288.2" cy="46.8" r="1.9" fill="#008000"/>
<circle cx="291.0" cy="54.3" r="1.9" fill="#008000"/>
<circle cx="293.9" cy="47.8" r="1.9" fill="#008000"/>
<circle cx="296.7" cy="41.9" r="1.9" fill="#008000"/>
<circle cx="299.5" cy="49.1" r="1.9" fill="#008000"/>
<circle cx="302.3" cy="44.9" r="1.9" fill="#008000"/>
<circle cx="305.1" cy="43.2" r="1.9" fill="#008000"/>
<circle cx="307.9" cy="52.0" r="1.9" fill="#008000"/>
<circle cx="310.7" cy="53.7" r="1.9" fill="#008000"/>
<circle cx="313.5" cy="51.5" r="1.9" fill="#008000"/>
<circle cx="316.3" cy="44.9" r="1.9" fill="#008000"/>
<circle cx="319.1" cy="44.9" r="1.9" fill="#008000"/>
<circle cx="321.9" cy="38.7" r="1.9" fill="#008000"/>
<circle cx="324.7" cy="35.4" r="1.9" fill="#008000"/>
<line x1="201.3" y1="63.5" x2="327.5" y2="63.5" stroke="#000" stroke-width="1.1" stroke-dasharray="2.9 2.1"/>
<line x1="201.3" y1="85.7" x2="327.5" y2="85.7" stroke="#555" stroke-width="1.1" stroke-dasharray="2.9 2.1"/>
<text x="329.7" y="65.6" font-size="6.1" font-weight="normal" text-anchor="start" fill="#111" stroke="#111" stroke-width="0.2">14</text>
<text x="329.7" y="89.3" font-size="6.1" font-weight="normal" text-anchor="start" fill="#111" stroke="#111" stroke-width="0.2">10</text>
<text x="196.5" y="10.3" font-size="6.5" font-weight="bold" text-anchor="end" fill="#000" >24</text>
<text x="196.5" y="32.5" font-size="6.5" font-weight="bold" text-anchor="end" fill="#000" >20</text>
<text x="196.5" y="54.7" font-size="6.5" font-weight="bold" text-anchor="end" fill="#000" >16</text>
<text x="196.5" y="76.9" font-size="6.5" font-weight="bold" text-anchor="end" fill="#000" >12</text>
<text x="327.5" y="102.6" font-size="6.5" font-weight="bold" text-anchor="middle" fill="#000" >0</text>
<text x="299.5" y="102.6" font-size="6.5" font-weight="bold" text-anchor="middle" fill="#000" >10</text>
<text x="271.4" y="102.6" font-size="6.5" font-weight="bold" text-anchor="middle" fill="#000" >20</text>
<text x="243.4" y="102.6" font-size="6.5" font-weight="bold" text-anchor="middle" fill="#000" >30</text>
<text x="215.3" y="102.6" font-size="6.5" font-weight="bold" text-anchor="middle" fill="#000" >40</text>
<text x="264.5" y="112.8" font-size="7.5" font-weight="bold" text-anchor="middle" fill="#000" textLength="68.3" lengthAdjust="spacingAndGlyphs" >Day before outcome</text>
<text transform="translate(185.4,49.6) rotate(-90)" font-size="7.3" font-weight="bold" text-anchor="middle" textLength="16.9" lengthAdjust="spacingAndGlyphs">PT(s)</text>
<text x="262.9" y="5.3" font-size="7.3" font-weight="bold" text-anchor="middle" fill="#000" >Prothrombin Time</text>
</g>
<g>
<line x1="371.5" y1="7.5" x2="371.5" y2="91.5" stroke="#000" stroke-width="1.3" />
<line x1="370.9" y1="91.5" x2="498.0" y2="91.5" stroke="#000" stroke-width="1.3" />
<line x1="367.5" y1="7.5" x2="371.5" y2="7.5" stroke="#000" stroke-width="1.2" />
<line x1="367.5" y1="24.3" x2="371.5" y2="24.3" stroke="#000" stroke-width="1.2" />
<line x1="367.5" y1="41.1" x2="371.5" y2="41.1" stroke="#000" stroke-width="1.2" />
<line x1="367.5" y1="57.9" x2="371.5" y2="57.9" stroke="#000" stroke-width="1.2" />
<line x1="367.5" y1="74.7" x2="371.5" y2="74.7" stroke="#000" stroke-width="1.2" />
<line x1="367.5" y1="91.5" x2="371.5" y2="91.5" stroke="#000" stroke-width="1.2" />
<line x1="497.5" y1="91.5" x2="497.5" y2="95.1" stroke="#000" stroke-width="1.1" />
<line x1="483.5" y1="91.5" x2="483.5" y2="93.7" stroke="#000" stroke-width="1.1" />
<line x1="469.5" y1="91.5" x2="469.5" y2="95.1" stroke="#000" stroke-width="1.1" />
<line x1="455.5" y1="91.5" x2="455.5" y2="93.7" stroke="#000" stroke-width="1.1" />
<line x1="441.5" y1="91.5" x2="441.5" y2="95.1" stroke="#000" stroke-width="1.1" />
<line x1="427.5" y1="91.5" x2="427.5" y2="93.7" stroke="#000" stroke-width="1.1" />
<line x1="413.5" y1="91.5" x2="413.5" y2="95.1" stroke="#000" stroke-width="1.1" />
<line x1="399.5" y1="91.5" x2="399.5" y2="93.7" stroke="#000" stroke-width="1.1" />
<line x1="385.5" y1="91.5" x2="385.5" y2="95.1" stroke="#000" stroke-width="1.1" />
<line x1="371.5" y1="91.5" x2="371.5" y2="93.7" stroke="#000" stroke-width="1.1" />
<path d="M391.1 50.0V66.0M393.9 52.0V71.4M396.7 29.4V60.6M399.5 28.0V48.0M402.3 30.0V54.0M405.1 38.0V56.0M407.9 40.0V60.0M410.7 45.0V61.0M413.5 38.0V62.0M416.3 45.0V65.0M419.1 40.0V64.0M421.9 26.5V73.5M424.7 35.0V59.0M427.5 40.2V59.8M430.3 42.0V58.0M433.1 28.4V69.6M435.9 40.0V60.0M438.7 42.0V62.0M441.5 45.0V65.0M444.3 47.0V67.0M447.1 44.0V64.0M449.9 45.0V65.0M452.7 45.0V67.0M455.5 42.0V66.0M458.3 44.0V66.0M461.1 35.0V59.0M463.9 45.0V65.0M466.7 45.0V67.0M469.5 38.0V62.0M472.3 44.0V66.0M475.1 47.0V67.0M477.9 45.0V67.0M480.7 44.0V66.0M483.5 46.0V66.0M486.3 47.0V67.0M489.1 48.0V68.0M491.9 44.0V68.0M494.7 45.0V69.0" stroke="#FFA36B" stroke-width="0.8" fill="none" opacity="1"/>
<path d="M389.6 50.0h3M389.6 66.0h3M392.4 52.0h3M392.4 71.4h3M395.2 29.4h3M395.2 60.6h3M398.0 28.0h3M398.0 48.0h3M400.8 30.0h3M400.8 54.0h3M403.6 38.0h3M403.6 56.0h3M406.4 40.0h3M406.4 60.0h3M409.2 45.0h3M409.2 61.0h3M412.0 38.0h3M412.0 62.0h3M414.8 45.0h3M414.8 65.0h3M417.6 40.0h3M417.6 64.0h3M420.4 26.5h3M420.4 73.5h3M423.2 35.0h3M423.2 59.0h3M426.0 40.2h3M426.0 59.8h3M428.8 42.0h3M428.8 58.0h3M431.6 28.4h3M431.6 69.6h3M434.4 40.0h3M434.4 60.0h3M437.2 42.0h3M437.2 62.0h3M440.0 45.0h3M440.0 65.0h3M442.8 47.0h3M442.8 67.0h3M445.6 44.0h3M445.6 64.0h3M448.4 45.0h3M448.4 65.0h3M451.2 45.0h3M451.2 67.0h3M454.0 42.0h3M454.0 66.0h3M456.8 44.0h3M456.8 66.0h3M459.6 35.0h3M459.6 59.0h3M462.4 45.0h3M462.4 65.0h3M465.2 45.0h3M465.2 67.0h3M468.0 38.0h3M468.0 62.0h3M470.8 44.0h3M470.8 66.0h3M473.6 47.0h3M473.6 67.0h3M476.4 45.0h3M476.4 67.0h3M479.2 44.0h3M479.2 66.0h3M482.0 46.0h3M482.0 66.0h3M484.8 47.0h3M484.8 67.0h3M487.6 48.0h3M487.6 68.0h3M490.4 44.0h3M490.4 68.0h3M493.2 45.0h3M493.2 69.0h3" stroke="#FF7A2A" stroke-width="1.1" fill="none" opacity="1"/>
<polyline points="391.1,58.0 393.9,61.7 396.7,45.0 399.5,38.0 402.3,42.0 405.1,47.0 407.9,50.0 410.7,53.0 413.5,50.0 416.3,55.0 419.1,52.0 421.9,50.0 424.7,47.0 427.5,50.0 430.3,50.0 433.1,49.0 435.9,50.0 438.7,52.0 441.5,55.0 444.3,57.0 447.1,54.0 449.9,55.0 452.7,56.0 455.5,54.0 458.3,55.0 461.1,47.0 463.9,55.0 466.7,56.0 469.5,50.0 472.3,55.0 475.1,57.0 477.9,56.0 480.7,55.0 483.5,56.0 486.3,57.0 489.1,58.0 491.9,56.0 494.7,57.0" stroke="#FF6600" stroke-width="1.3" fill="none" stroke-linejoin="round"/>
<path d="M391.1 55.9L392.9 59.5L389.3 59.5Z" fill="#FF6600"/>
<path d="M393.9 59.6L395.7 63.2L392.1 63.2Z" fill="#FF6600"/>
<path d="M396.7 42.9L398.5 46.5L394.9 46.5Z" fill="#FF6600"/>
<path d="M399.5 35.9L401.3 39.5L397.7 39.5Z" fill="#FF6600"/>
<path d="M402.3 39.9L404.1 43.5L400.5 43.5Z" fill="#FF6600"/>
<path d="M405.1 44.9L406.9 48.5L403.3 48.5Z" fill="#FF6600"/>
<path d="M407.9 47.9L409.7 51.5L406.1 51.5Z" fill="#FF6600"/>
<path d="M410.7 50.9L412.5 54.5L408.9 54.5Z" fill="#FF6600"/>
<path d="M413.5 47.9L415.3 51.5L411.7 51.5Z" fill="#FF6600"/>
<path d="M416.3 52.9L418.1 56.5L414.5 56.5Z" fill="#FF6600"/>
<path d="M419.1 49.9L420.9 53.5L417.3 53.5Z" fill="#FF6600"/>
<path d="M421.9 47.9L423.7 51.5L420.1 51.5Z" fill="#FF6600"/>
<path d="M424.7 44.9L426.5 48.5L422.9 48.5Z" fill="#FF6600"/>
<path d="M427.5 47.9L429.3 51.5L425.7 51.5Z" fill="#FF6600"/>
<path d="M430.3 47.9L432.1 51.5L428.5 51.5Z" fill="#FF6600"/>
<path d="M433.1 46.9L434.9 50.5L431.3 50.5Z" fill="#FF6600"/>
<path d="M435.9 47.9L437.7 51.5L434.1 51.5Z" fill="#FF6600"/>
<path d="M438.7 49.9L440.5 53.5L436.9 53.5Z" fill="#FF6600"/>
<path d="M441.5 52.9L443.3 56.5L439.7 56.5Z" fill="#FF6600"/>
<path d="M444.3 54.9L446.1 58.5L442.5 58.5Z" fill="#FF6600"/>
<path d="M447.1 51.9L448.9 55.5L445.3 55.5Z" fill="#FF6600"/>
<path d="M449.9 52.9L451.7 56.5L448.1 56.5Z" fill="#FF6600"/>
<path d="M452.7 53.9L454.5 57.5L450.9 57.5Z" fill="#FF6600"/>
<path d="M455.5 51.9L457.3 55.5L453.7 55.5Z" fill="#FF6600"/>
<path d="M458.3 52.9L460.1 56.5L456.5 56.5Z" fill="#FF6600"/>
<path d="M461.1 44.9L462.9 48.5L459.3 48.5Z" fill="#FF6600"/>
<path d="M463.9 52.9L465.7 56.5L462.1 56.5Z" fill="#FF6600"/>
<path d="M466.7 53.9L468.5 57.5L464.9 57.5Z" fill="#FF6600"/>
<path d="M469.5 47.9L471.3 51.5L467.7 51.5Z" fill="#FF6600"/>
<path d="M472.3 52.9L474.1 56.5L470.5 56.5Z" fill="#FF6600"/>
<path d="M475.1 54.9L476.9 58.5L473.3 58.5Z" fill="#FF6600"/>
<path d="M477.9 53.9L479.7 57.5L476.1 57.5Z" fill="#FF6600"/>
<path d="M480.7 52.9L482.5 56.5L478.9 56.5Z" fill="#FF6600"/>
<path d="M483.5 53.9L485.3 57.5L481.7 57.5Z" fill="#FF6600"/>
<path d="M486.3 54.9L488.1 58.5L484.5 58.5Z" fill="#FF6600"/>
<path d="M489.1 55.9L490.9 59.5L487.3 59.5Z" fill="#FF6600"/>
<path d="M491.9 53.9L493.7 57.5L490.1 57.5Z" fill="#FF6600"/>
<path d="M494.7 54.9L496.5 58.5L492.9 58.5Z" fill="#FF6600"/>
<path d="M371.5 48.0V61.8M374.3 47.0V63.8M377.1 17.1V63.7M379.9 7.5V36.2M382.7 14.7V40.3M385.5 28.0V52.0M388.3 7.5V91.5M391.1 66.0V86.8M393.9 28.0V54.4M396.7 42.0V69.6M399.5 23.0V51.4M402.3 22.0V54.4M405.1 40.0V56.0M407.9 38.0V60.0M410.7 44.0V61.8M413.5 42.0V63.8M416.3 50.0V77.4M419.1 45.0V82.4M421.9 40.0V69.8M424.7 35.0V70.8M427.5 45.0V64.8M430.3 45.0V63.6M433.1 48.0V60.6M435.9 50.0V71.4M438.7 50.0V72.0M441.5 48.0V72.0M444.3 45.0V71.0M447.1 43.0V71.0M449.9 50.0V74.0M452.7 50.0V72.0M455.5 45.0V75.0M458.3 40.0V76.0M461.1 45.0V75.0M463.9 55.0V84.0M466.7 45.0V81.0M469.5 42.0V78.0M472.3 40.0V76.0M475.1 42.0V72.0M477.9 45.0V73.0M480.7 40.0V76.0M483.5 42.0V76.0M486.3 40.0V74.0M489.1 45.0V75.0M491.9 42.0V74.0M494.7 50.0V68.0" stroke="#8CF98C" stroke-width="0.8" fill="none" opacity="1"/>
<path d="M370.0 48.0h3M370.0 61.8h3M372.8 47.0h3M372.8 63.8h3M375.6 17.1h3M375.6 63.7h3M378.4 36.2h3M381.2 14.7h3M381.2 40.3h3M384.0 28.0h3M384.0 52.0h3M389.6 66.0h3M389.6 86.8h3M392.4 28.0h3M392.4 54.4h3M395.2 42.0h3M395.2 69.6h3M398.0 23.0h3M398.0 51.4h3M400.8 22.0h3M400.8 54.4h3M403.6 40.0h3M403.6 56.0h3M406.4 38.0h3M406.4 60.0h3M409.2 44.0h3M409.2 61.8h3M412.0 42.0h3M412.0 63.8h3M414.8 50.0h3M414.8 77.4h3M417.6 45.0h3M417.6 82.4h3M420.4 40.0h3M420.4 69.8h3M423.2 35.0h3M423.2 70.8h3M426.0 45.0h3M426.0 64.8h3M428.8 45.0h3M428.8 63.6h3M431.6 48.0h3M431.6 60.6h3M434.4 50.0h3M434.4 71.4h3M437.2 50.0h3M437.2 72.0h3M440.0 48.0h3M440.0 72.0h3M442.8 45.0h3M442.8 71.0h3M445.6 43.0h3M445.6 71.0h3M448.4 50.0h3M448.4 74.0h3M451.2 50.0h3M451.2 72.0h3M454.0 45.0h3M454.0 75.0h3M456.8 40.0h3M456.8 76.0h3M459.6 45.0h3M459.6 75.0h3M462.4 55.0h3M462.4 84.0h3M465.2 45.0h3M465.2 81.0h3M468.0 42.0h3M468.0 78.0h3M470.8 40.0h3M470.8 76.0h3M473.6 42.0h3M473.6 72.0h3M476.4 45.0h3M476.4 73.0h3M479.2 40.0h3M479.2 76.0h3M482.0 42.0h3M482.0 76.0h3M484.8 40.0h3M484.8 74.0h3M487.6 45.0h3M487.6 75.0h3M490.4 42.0h3M490.4 74.0h3M493.2 50.0h3M493.2 68.0h3" stroke="#8CF98C" stroke-width="0.8" fill="none" opacity="1"/>
<polyline points="371.5,54.9 374.3,55.4 377.1,40.4 379.9,21.6 382.7,27.5 385.5,40.0 388.3,50.0 391.1,76.4 393.9,41.2 396.7,55.8 399.5,37.2 402.3,38.2 405.1,48.0 407.9,49.0 410.7,52.9 413.5,52.9 416.3,63.7 419.1,63.7 421.9,54.9 424.7,52.9 427.5,54.9 430.3,54.3 433.1,54.3 435.9,60.7 438.7,61.0 441.5,60.0 444.3,58.0 447.1,57.0 449.9,62.0 452.7,61.0 455.5,60.0 458.3,58.0 461.1,60.0 463.9,69.5 466.7,63.0 469.5,60.0 472.3,58.0 475.1,57.0 477.9,59.0 480.7,58.0 483.5,59.0 486.3,57.0 489.1,60.0 491.9,58.0 494.7,59.0" stroke="#8CF98C" stroke-width="1.4" fill="none" stroke-linejoin="round"/>
<rect x="369.6" y="53.0" width="3.7" height="3.7" fill="#8CF98C"/>
<rect x="372.4" y="53.5" width="3.7" height="3.7" fill="#8CF98C"/>
<rect x="375.2" y="38.5" width="3.7" height="3.7" fill="#8CF98C"/>
<rect x="378.0" y="19.8" width="3.7" height="3.7" fill="#8CF98C"/>
<rect x="380.8" y="25.6" width="3.7" height="3.7" fill="#8CF98C"/>
<rect x="383.6" y="38.1" width="3.7" height="3.7" fill="#8CF98C"/>
<rect x="386.4" y="48.1" width="3.7" height="3.7" fill="#8CF98C"/>
<rect x="389.2" y="74.6" width="3.7" height="3.7" fill="#8CF98C"/>
<rect x="392.0" y="39.4" width="3.7" height="3.7" fill="#8CF98C"/>
<rect x="394.8" y="53.9" width="3.7" height="3.7" fill="#8CF98C"/>
<rect x="397.6" y="35.4" width="3.7" height="3.7" fill="#8CF98C"/>
<rect x="400.4" y="36.4" width="3.7" height="3.7" fill="#8CF98C"/>
<rect x="403.2" y="46.1" width="3.7" height="3.7" fill="#8CF98C"/>
<rect x="406.0" y="47.1" width="3.7" height="3.7" fill="#8CF98C"/>
<rect x="408.8" y="51.0" width="3.7" height="3.7" fill="#8CF98C"/>
<rect x="411.6" y="51.0" width="3.7" height="3.7" fill="#8CF98C"/>
<rect x="414.4" y="61.9" width="3.7" height="3.7" fill="#8CF98C"/>
<rect x="417.2" y="61.9" width="3.7" height="3.7" fill="#8CF98C"/>
<rect x="420.0" y="53.0" width="3.7" height="3.7" fill="#8CF98C"/>
<rect x="422.8" y="51.0" width="3.7" height="3.7" fill="#8CF98C"/>
<rect x="425.6" y="53.0" width="3.7" height="3.7" fill="#8CF98C"/>
<rect x="428.4" y="52.4" width="3.7" height="3.7" fill="#8CF98C"/>
<rect x="431.2" y="52.4" width="3.7" height="3.7" fill="#8CF98C"/>
<rect x="434.0" y="58.9" width="3.7" height="3.7" fill="#8CF98C"/>
<rect x="436.8" y="59.1" width="3.7" height="3.7" fill="#8CF98C"/>
<rect x="439.6" y="58.1" width="3.7" height="3.7" fill="#8CF98C"/>
<rect x="442.4" y="56.1" width="3.7" height="3.7" fill="#8CF98C"/>
<rect x="445.2" y="55.1" width="3.7" height="3.7" fill="#8CF98C"/>
<rect x="448.0" y="60.1" width="3.7" height="3.7" fill="#8CF98C"/>
<rect x="450.8" y="59.1" width="3.7" height="3.7" fill="#8CF98C"/>
<rect x="453.6" y="58.1" width="3.7" height="3.7" fill="#8CF98C"/>
<rect x="456.4" y="56.1" width="3.7" height="3.7" fill="#8CF98C"/>
<rect x="459.2" y="58.1" width="3.7" height="3.7" fill="#8CF98C"/>
<rect x="462.0" y="67.7" width="3.7" height="3.7" fill="#8CF98C"/>
<rect x="464.8" y="61.1" width="3.7" height="3.7" fill="#8CF98C"/>
<rect x="467.6" y="58.1" width="3.7" height="3.7" fill="#8CF98C"/>
<rect x="470.4" y="56.1" width="3.7" height="3.7" fill="#8CF98C"/>
<rect x="473.2" y="55.1" width="3.7" height="3.7" fill="#8CF98C"/>
<rect x="476.0" y="57.1" width="3.7" height="3.7" fill="#8CF98C"/>
<rect x="478.8" y="56.1" width="3.7" height="3.7" fill="#8CF98C"/>
<rect x="481.6" y="57.1" width="3.7" height="3.7" fill="#8CF98C"/>
<rect x="484.4" y="55.1" width="3.7" height="3.7" fill="#8CF98C"/>
<rect x="487.2" y="58.1" width="3.7" height="3.7" fill="#8CF98C"/>
<rect x="490.0" y="56.1" width="3.7" height="3.7" fill="#8CF98C"/>
<rect x="492.8" y="57.1" width="3.7" height="3.7" fill="#8CF98C"/>
<path d="M441.5 45.0V63.6M447.1 24.1V69.9M449.9 55.0V84.8M452.7 29.4V45.0M455.5 39.8V91.5M458.3 18.3V58.1M461.1 26.5V47.9M463.9 22.6V66.4M466.7 28.0V60.2M469.5 18.3V64.1M472.3 22.6V57.8M475.1 22.6V67.6M477.9 22.6V67.6M480.7 28.4V63.0M483.5 33.3V51.7M486.3 27.5V88.9M489.1 27.5V91.5M491.9 32.4V72.2M494.7 39.2V77.2" stroke="#008000" stroke-width="0.9" fill="none" opacity="0.75"/>
<path d="M440.0 45.0h3M440.0 63.6h3M445.6 24.1h3M445.6 69.9h3M448.4 55.0h3M448.4 84.8h3M451.2 29.4h3M451.2 45.0h3M454.0 39.8h3M456.8 18.3h3M456.8 58.1h3M459.6 26.5h3M459.6 47.9h3M462.4 22.6h3M462.4 66.4h3M465.2 28.0h3M465.2 60.2h3M468.0 18.3h3M468.0 64.1h3M470.8 22.6h3M470.8 57.8h3M473.6 22.6h3M473.6 67.6h3M476.4 22.6h3M476.4 67.6h3M479.2 28.4h3M479.2 63.0h3M482.0 33.3h3M482.0 51.7h3M484.8 27.5h3M484.8 88.9h3M487.6 27.5h3M490.4 32.4h3M490.4 72.2h3M493.2 39.2h3M493.2 77.2h3" stroke="#008000" stroke-width="0.9" fill="none" opacity="0.75"/>
<polyline points="441.5,54.3 447.1,47.0 449.9,69.9 452.7,37.2 455.5,66.6 458.3,38.2 461.1,37.2 463.9,44.5 466.7,44.1 469.5,41.2 472.3,40.2 475.1,45.1 477.9,45.1 480.7,45.7 483.5,42.5 486.3,58.2 489.1,61.7 491.9,52.3 494.7,58.2" stroke="#008000" stroke-width="1.2" fill="none" stroke-linejoin="round"/>
<circle cx="441.5" cy="54.3" r="1.9" fill="#008000"/>
<circle cx="447.1" cy="47.0" r="1.9" fill="#008000"/>
<circle cx="449.9" cy="69.9" r="1.9" fill="#008000"/>
<circle cx="452.7" cy="37.2" r="1.9" fill="#008000"/>
<circle cx="455.5" cy="66.6" r="1.9" fill="#008000"/>
<circle cx="458.3" cy="38.2" r="1.9" fill="#008000"/>
<circle cx="461.1" cy="37.2" r="1.9" fill="#008000"/>
<circle cx="463.9" cy="44.5" r="1.9" fill="#008000"/>
<circle cx="466.7" cy="44.1" r="1.9" fill="#008000"/>
<circle cx="469.5" cy="41.2" r="1.9" fill="#008000"/>
<circle cx="472.3" cy="40.2" r="1.9" fill="#008000"/>
<circle cx="475.1" cy="45.1" r="1.9" fill="#008000"/>
<circle cx="477.9" cy="45.1" r="1.9" fill="#008000"/>
<circle cx="480.7" cy="45.7" r="1.9" fill="#008000"/>
<circle cx="483.5" cy="42.5" r="1.9" fill="#008000"/>
<circle cx="486.3" cy="58.2" r="1.9" fill="#008000"/>
<circle cx="489.1" cy="61.7" r="1.9" fill="#008000"/>
<circle cx="491.9" cy="52.3" r="1.9" fill="#008000"/>
<circle cx="494.7" cy="58.2" r="1.9" fill="#008000"/>
<line x1="371.5" y1="57.9" x2="497.5" y2="57.9" stroke="#000" stroke-width="1.1" stroke-dasharray="2.9 2.1"/>
<text x="500.6" y="59.9" font-size="6.1" font-weight="normal" text-anchor="start" fill="#111" stroke="#111" stroke-width="0.2">4</text>
<text x="366.7" y="9.8" font-size="6.5" font-weight="bold" text-anchor="end" fill="#000" >7</text>
<text x="366.7" y="26.6" font-size="6.5" font-weight="bold" text-anchor="end" fill="#000" >6</text>
<text x="366.7" y="43.4" font-size="6.5" font-weight="bold" text-anchor="end" fill="#000" >5</text>
<text x="366.7" y="60.2" font-size="6.5" font-weight="bold" text-anchor="end" fill="#000" >4</text>
<text x="366.7" y="77.0" font-size="6.5" font-weight="bold" text-anchor="end" fill="#000" >3</text>
<text x="366.7" y="93.8" font-size="6.5" font-weight="bold" text-anchor="end" fill="#000" >2</text>
<text x="497.5" y="102.7" font-size="6.5" font-weight="bold" text-anchor="middle" fill="#000" >0</text>
<text x="469.5" y="102.7" font-size="6.5" font-weight="bold" text-anchor="middle" fill="#000" >10</text>
<text x="441.5" y="102.7" font-size="6.5" font-weight="bold" text-anchor="middle" fill="#000" >20</text>
<text x="413.5" y="102.7" font-size="6.5" font-weight="bold" text-anchor="middle" fill="#000" >30</text>
<text x="385.5" y="102.7" font-size="6.5" font-weight="bold" text-anchor="middle" fill="#000" >40</text>
<text x="434.5" y="112.8" font-size="7.5" font-weight="bold" text-anchor="middle" fill="#000" textLength="68.3" lengthAdjust="spacingAndGlyphs" >Day before outcome</text>
<text transform="translate(358.8,49.4) rotate(-90)" font-size="7.3" font-weight="bold" text-anchor="middle" textLength="25.4" lengthAdjust="spacingAndGlyphs">FIB(g/L)</text>
<text x="432.4" y="5.5" font-size="7.3" font-weight="bold" text-anchor="middle" fill="#000" >Fibrinogen</text>
</g>
<g>
<line x1="540.5" y1="6.8" x2="540.5" y2="90.6" stroke="#000" stroke-width="1.3" />
<line x1="539.9" y1="90.6" x2="668.4" y2="90.6" stroke="#000" stroke-width="1.3" />
<line x1="536.5" y1="6.8" x2="540.5" y2="6.8" stroke="#000" stroke-width="1.2" />
<line x1="536.5" y1="27.8" x2="540.5" y2="27.8" stroke="#000" stroke-width="1.2" />
<line x1="536.5" y1="48.7" x2="540.5" y2="48.7" stroke="#000" stroke-width="1.2" />
<line x1="536.5" y1="69.7" x2="540.5" y2="69.7" stroke="#000" stroke-width="1.2" />
<line x1="536.5" y1="90.6" x2="540.5" y2="90.6" stroke="#000" stroke-width="1.2" />
<line x1="667.9" y1="90.6" x2="667.9" y2="94.2" stroke="#000" stroke-width="1.1" />
<line x1="653.7" y1="90.6" x2="653.7" y2="92.8" stroke="#000" stroke-width="1.1" />
<line x1="639.6" y1="90.6" x2="639.6" y2="94.2" stroke="#000" stroke-width="1.1" />
<line x1="625.4" y1="90.6" x2="625.4" y2="92.8" stroke="#000" stroke-width="1.1" />
<line x1="611.3" y1="90.6" x2="611.3" y2="94.2" stroke="#000" stroke-width="1.1" />
<line x1="597.1" y1="90.6" x2="597.1" y2="92.8" stroke="#000" stroke-width="1.1" />
<line x1="583.0" y1="90.6" x2="583.0" y2="94.2" stroke="#000" stroke-width="1.1" />
<line x1="568.8" y1="90.6" x2="568.8" y2="92.8" stroke="#000" stroke-width="1.1" />
<line x1="554.7" y1="90.6" x2="554.7" y2="94.2" stroke="#000" stroke-width="1.1" />
<line x1="540.5" y1="90.6" x2="540.5" y2="92.8" stroke="#000" stroke-width="1.1" />
<path d="M560.3 54.5V77.3M563.2 78.4V85.6M566.0 75.2V84.8M568.8 79.4V86.6M571.6 80.4V87.6M574.5 78.4V85.6M577.3 81.0V87.0M580.1 80.0V86.0M583.0 81.0V87.0M585.8 79.4V86.6M588.6 80.4V87.6M591.5 78.4V85.6M594.3 81.0V87.0M597.1 80.0V86.0M600.0 81.0V87.0M602.8 81.0V87.0M605.6 82.0V88.0M608.4 80.2V86.8M611.3 81.0V87.0M614.1 79.4V86.6M616.9 81.0V87.0M619.8 79.4V86.6M622.6 81.0V87.0M625.4 80.0V86.0M628.3 81.0V87.0M631.1 80.3V85.7M633.9 80.0V86.0M636.8 71.6V90.6M639.6 81.0V87.0M642.4 80.0V86.0M645.3 80.0V86.0M648.1 80.8V86.2M650.9 80.0V86.0M653.7 80.0V86.0M656.6 69.7V90.6M659.4 67.2V90.6M662.2 55.8V90.6M665.1 49.1V90.6" stroke="#FFA36B" stroke-width="0.8" fill="none" opacity="1"/>
<path d="M558.8 54.5h3M558.8 77.3h3M561.7 78.4h3M561.7 85.6h3M564.5 75.2h3M564.5 84.8h3M567.3 79.4h3M567.3 86.6h3M570.1 80.4h3M570.1 87.6h3M573.0 78.4h3M573.0 85.6h3M575.8 81.0h3M575.8 87.0h3M578.6 80.0h3M578.6 86.0h3M581.5 81.0h3M581.5 87.0h3M584.3 79.4h3M584.3 86.6h3M587.1 80.4h3M587.1 87.6h3M590.0 78.4h3M590.0 85.6h3M592.8 81.0h3M592.8 87.0h3M595.6 80.0h3M595.6 86.0h3M598.5 81.0h3M598.5 87.0h3M601.3 81.0h3M601.3 87.0h3M604.1 82.0h3M604.1 88.0h3M606.9 80.2h3M606.9 86.8h3M609.8 81.0h3M609.8 87.0h3M612.6 79.4h3M612.6 86.6h3M615.4 81.0h3M615.4 87.0h3M618.3 79.4h3M618.3 86.6h3M621.1 81.0h3M621.1 87.0h3M623.9 80.0h3M623.9 86.0h3M626.8 81.0h3M626.8 87.0h3M629.6 80.3h3M629.6 85.7h3M632.4 80.0h3M632.4 86.0h3M635.3 71.6h3M638.1 81.0h3M638.1 87.0h3M640.9 80.0h3M640.9 86.0h3M643.8 80.0h3M643.8 86.0h3M646.6 80.8h3M646.6 86.2h3M649.4 80.0h3M649.4 86.0h3M652.2 80.0h3M652.2 86.0h3M655.1 69.7h3M657.9 67.2h3M660.7 55.8h3M663.6 49.1h3" stroke="#FF7A2A" stroke-width="1.1" fill="none" opacity="1"/>
<polyline points="560.3,65.9 563.2,82.0 566.0,80.0 568.8,83.0 571.6,84.0 574.5,82.0 577.3,84.0 580.1,83.0 583.0,84.0 585.8,83.0 588.6,84.0 591.5,82.0 594.3,84.0 597.1,83.0 600.0,84.0 602.8,84.0 605.6,85.0 608.4,83.5 611.3,84.0 614.1,83.0 616.9,84.0 619.8,83.0 622.6,84.0 625.4,83.0 628.3,84.0 631.1,83.0 633.9,83.0 636.8,83.0 639.6,84.0 642.4,83.0 645.3,83.0 648.1,83.5 650.9,83.0 653.7,83.0 656.6,82.0 659.4,82.0 662.2,80.0 665.1,81.0" stroke="#FF6600" stroke-width="1.3" fill="none" stroke-linejoin="round"/>
<path d="M560.3 63.8L562.1 67.4L558.5 67.4Z" fill="#FF6600"/>
<path d="M563.2 79.9L565.0 83.5L561.4 83.5Z" fill="#FF6600"/>
<path d="M566.0 77.9L567.8 81.5L564.2 81.5Z" fill="#FF6600"/>
<path d="M568.8 80.9L570.6 84.5L567.0 84.5Z" fill="#FF6600"/>
<path d="M571.6 81.9L573.4 85.5L569.8 85.5Z" fill="#FF6600"/>
<path d="M574.5 79.9L576.3 83.5L572.7 83.5Z" fill="#FF6600"/>
<path d="M577.3 81.9L579.1 85.5L575.5 85.5Z" fill="#FF6600"/>
<path d="M580.1 80.9L581.9 84.5L578.3 84.5Z" fill="#FF6600"/>
<path d="M583.0 81.9L584.8 85.5L581.2 85.5Z" fill="#FF6600"/>
<path d="M585.8 80.9L587.6 84.5L584.0 84.5Z" fill="#FF6600"/>
<path d="M588.6 81.9L590.4 85.5L586.8 85.5Z" fill="#FF6600"/>
<path d="M591.5 79.9L593.3 83.5L589.7 83.5Z" fill="#FF6600"/>
<path d="M594.3 81.9L596.1 85.5L592.5 85.5Z" fill="#FF6600"/>
<path d="M597.1 80.9L598.9 84.5L595.3 84.5Z" fill="#FF6600"/>
<path d="M600.0 81.9L601.8 85.5L598.2 85.5Z" fill="#FF6600"/>
<path d="M602.8 81.9L604.6 85.5L601.0 85.5Z" fill="#FF6600"/>
<path d="M605.6 82.9L607.4 86.5L603.8 86.5Z" fill="#FF6600"/>
<path d="M608.4 81.4L610.2 85.0L606.6 85.0Z" fill="#FF6600"/>
<path d="M611.3 81.9L613.1 85.5L609.5 85.5Z" fill="#FF6600"/>
<path d="M614.1 80.9L615.9 84.5L612.3 84.5Z" fill="#FF6600"/>
<path d="M616.9 81.9L618.7 85.5L615.1 85.5Z" fill="#FF6600"/>
<path d="M619.8 80.9L621.6 84.5L618.0 84.5Z" fill="#FF6600"/>
<path d="M622.6 81.9L624.4 85.5L620.8 85.5Z" fill="#FF6600"/>
<path d="M625.4 80.9L627.2 84.5L623.6 84.5Z" fill="#FF6600"/>
<path d="M628.3 81.9L630.1 85.5L626.5 85.5Z" fill="#FF6600"/>
<path d="M631.1 80.9L632.9 84.5L629.3 84.5Z" fill="#FF6600"/>
<path d="M633.9 80.9L635.7 84.5L632.1 84.5Z" fill="#FF6600"/>
<path d="M636.8 80.9L638.6 84.5L635.0 84.5Z" fill="#FF6600"/>
<path d="M639.6 81.9L641.4 85.5L637.8 85.5Z" fill="#FF6600"/>
<path d="M642.4 80.9L644.2 84.5L640.6 84.5Z" fill="#FF6600"/>
<path d="M645.3 80.9L647.1 84.5L643.5 84.5Z" fill="#FF6600"/>
<path d="M648.1 81.4L649.9 85.0L646.3 85.0Z" fill="#FF6600"/>
<path d="M650.9 80.9L652.7 84.5L649.1 84.5Z" fill="#FF6600"/>
<path d="M653.7 80.9L655.5 84.5L651.9 84.5Z" fill="#FF6600"/>
<path d="M656.6 79.9L658.4 83.5L654.8 83.5Z" fill="#FF6600"/>
<path d="M659.4 79.9L661.2 83.5L657.6 83.5Z" fill="#FF6600"/>
<path d="M662.2 77.9L664.0 81.5L660.4 81.5Z" fill="#FF6600"/>
<path d="M665.1 78.9L666.9 82.5L663.3 82.5Z" fill="#FF6600"/>
<path d="M540.5 80.0V90.6M543.3 46.5V87.9M546.2 84.0V89.4M549.0 58.3V83.5M551.8 80.0V89.6M554.7 84.0V88.2M557.5 84.0V89.0M560.3 51.4V89.2M563.2 84.0V88.2M566.0 46.3V90.6M568.8 78.0V87.8M571.6 80.0V88.4M574.5 65.9V90.6M577.3 64.6V90.6M580.1 80.0V90.0M583.0 81.0V90.0M585.8 80.0V90.0M588.6 80.0V90.6M591.5 78.0V90.6M594.3 80.0V90.0M597.1 78.0V90.0M600.0 81.0V90.0M602.8 82.0V90.0M605.6 80.0V90.0M608.4 81.0V90.0M611.3 80.0V90.0M614.1 81.0V90.0M616.9 82.0V90.0M619.8 81.0V90.0M622.6 80.0V90.0M625.4 81.0V90.0M628.3 82.0V90.0M631.1 81.0V90.0M633.9 80.0V90.0M636.8 80.0V90.6M639.6 80.0V90.0M642.4 81.0V90.0M645.3 82.0V90.0M648.1 81.0V90.0M650.9 80.0V90.0M653.7 81.0V90.0M656.6 80.0V90.0M659.4 81.0V90.0M662.2 80.0V90.0M665.1 81.0V90.0" stroke="#8CF98C" stroke-width="0.8" fill="none" opacity="1"/>
<path d="M539.0 80.0h3M541.8 46.5h3M541.8 87.9h3M544.7 84.0h3M544.7 89.4h3M547.5 58.3h3M547.5 83.5h3M550.3 80.0h3M550.3 89.6h3M553.2 84.0h3M553.2 88.2h3M556.0 84.0h3M556.0 89.0h3M558.8 51.4h3M558.8 89.2h3M561.7 84.0h3M561.7 88.2h3M564.5 46.3h3M567.3 78.0h3M567.3 87.8h3M570.1 80.0h3M570.1 88.4h3M573.0 65.9h3M575.8 64.6h3M578.6 80.0h3M578.6 90.0h3M581.5 81.0h3M581.5 90.0h3M584.3 80.0h3M584.3 90.0h3M587.1 80.0h3M590.0 78.0h3M592.8 80.0h3M592.8 90.0h3M595.6 78.0h3M595.6 90.0h3M598.5 81.0h3M598.5 90.0h3M601.3 82.0h3M601.3 90.0h3M604.1 80.0h3M604.1 90.0h3M606.9 81.0h3M606.9 90.0h3M609.8 80.0h3M609.8 90.0h3M612.6 81.0h3M612.6 90.0h3M615.4 82.0h3M615.4 90.0h3M618.3 81.0h3M618.3 90.0h3M621.1 80.0h3M621.1 90.0h3M623.9 81.0h3M623.9 90.0h3M626.8 82.0h3M626.8 90.0h3M629.6 81.0h3M629.6 90.0h3M632.4 80.0h3M632.4 90.0h3M635.3 80.0h3M638.1 80.0h3M638.1 90.0h3M640.9 81.0h3M640.9 90.0h3M643.8 82.0h3M643.8 90.0h3M646.6 81.0h3M646.6 90.0h3M649.4 80.0h3M649.4 90.0h3M652.2 81.0h3M652.2 90.0h3M655.1 80.0h3M655.1 90.0h3M657.9 81.0h3M657.9 90.0h3M660.7 80.0h3M660.7 90.0h3M663.6 81.0h3M663.6 90.0h3" stroke="#8CF98C" stroke-width="0.8" fill="none" opacity="1"/>
<polyline points="540.5,86.7 543.3,67.2 546.2,86.7 549.0,70.9 551.8,84.8 554.7,86.1 557.5,86.5 560.3,70.3 563.2,86.1 566.0,73.5 568.8,82.9 571.6,84.2 574.5,79.8 577.3,83.5 580.1,85.0 583.0,85.5 585.8,85.0 588.6,85.5 591.5,84.5 594.3,85.0 597.1,84.0 600.0,85.5 602.8,86.0 605.6,85.0 608.4,85.5 611.3,85.0 614.1,85.5 616.9,86.0 619.8,85.5 622.6,85.0 625.4,85.5 628.3,86.0 631.1,85.5 633.9,85.0 636.8,85.5 639.6,85.0 642.4,85.5 645.3,86.0 648.1,85.5 650.9,85.0 653.7,85.5 656.6,85.0 659.4,85.5 662.2,85.0 665.1,85.5" stroke="#8CF98C" stroke-width="1.4" fill="none" stroke-linejoin="round"/>
<rect x="538.7" y="84.9" width="3.7" height="3.7" fill="#8CF98C"/>
<rect x="541.5" y="65.4" width="3.7" height="3.7" fill="#8CF98C"/>
<rect x="544.3" y="84.9" width="3.7" height="3.7" fill="#8CF98C"/>
<rect x="547.1" y="69.1" width="3.7" height="3.7" fill="#8CF98C"/>
<rect x="550.0" y="83.0" width="3.7" height="3.7" fill="#8CF98C"/>
<rect x="552.8" y="84.2" width="3.7" height="3.7" fill="#8CF98C"/>
<rect x="555.6" y="84.7" width="3.7" height="3.7" fill="#8CF98C"/>
<rect x="558.5" y="68.5" width="3.7" height="3.7" fill="#8CF98C"/>
<rect x="561.3" y="84.2" width="3.7" height="3.7" fill="#8CF98C"/>
<rect x="564.1" y="71.7" width="3.7" height="3.7" fill="#8CF98C"/>
<rect x="567.0" y="81.1" width="3.7" height="3.7" fill="#8CF98C"/>
<rect x="569.8" y="82.4" width="3.7" height="3.7" fill="#8CF98C"/>
<rect x="572.6" y="78.0" width="3.7" height="3.7" fill="#8CF98C"/>
<rect x="575.5" y="81.7" width="3.7" height="3.7" fill="#8CF98C"/>
<rect x="578.3" y="83.2" width="3.7" height="3.7" fill="#8CF98C"/>
<rect x="581.1" y="83.7" width="3.7" height="3.7" fill="#8CF98C"/>
<rect x="584.0" y="83.2" width="3.7" height="3.7" fill="#8CF98C"/>
<rect x="586.8" y="83.7" width="3.7" height="3.7" fill="#8CF98C"/>
<rect x="589.6" y="82.7" width="3.7" height="3.7" fill="#8CF98C"/>
<rect x="592.4" y="83.2" width="3.7" height="3.7" fill="#8CF98C"/>
<rect x="595.3" y="82.2" width="3.7" height="3.7" fill="#8CF98C"/>
<rect x="598.1" y="83.7" width="3.7" height="3.7" fill="#8CF98C"/>
<rect x="600.9" y="84.2" width="3.7" height="3.7" fill="#8CF98C"/>
<rect x="603.8" y="83.2" width="3.7" height="3.7" fill="#8CF98C"/>
<rect x="606.6" y="83.7" width="3.7" height="3.7" fill="#8CF98C"/>
<rect x="609.4" y="83.2" width="3.7" height="3.7" fill="#8CF98C"/>
<rect x="612.3" y="83.7" width="3.7" height="3.7" fill="#8CF98C"/>
<rect x="615.1" y="84.2" width="3.7" height="3.7" fill="#8CF98C"/>
<rect x="617.9" y="83.7" width="3.7" height="3.7" fill="#8CF98C"/>
<rect x="620.8" y="83.2" width="3.7" height="3.7" fill="#8CF98C"/>
<rect x="623.6" y="83.7" width="3.7" height="3.7" fill="#8CF98C"/>
<rect x="626.4" y="84.2" width="3.7" height="3.7" fill="#8CF98C"/>
<rect x="629.2" y="83.7" width="3.7" height="3.7" fill="#8CF98C"/>
<rect x="632.1" y="83.2" width="3.7" height="3.7" fill="#8CF98C"/>
<rect x="634.9" y="83.7" width="3.7" height="3.7" fill="#8CF98C"/>
<rect x="637.7" y="83.2" width="3.7" height="3.7" fill="#8CF98C"/>
<rect x="640.6" y="83.7" width="3.7" height="3.7" fill="#8CF98C"/>
<rect x="643.4" y="84.2" width="3.7" height="3.7" fill="#8CF98C"/>
<rect x="646.2" y="83.7" width="3.7" height="3.7" fill="#8CF98C"/>
<rect x="649.1" y="83.2" width="3.7" height="3.7" fill="#8CF98C"/>
<rect x="651.9" y="83.7" width="3.7" height="3.7" fill="#8CF98C"/>
<rect x="654.7" y="83.2" width="3.7" height="3.7" fill="#8CF98C"/>
<rect x="657.6" y="83.7" width="3.7" height="3.7" fill="#8CF98C"/>
<rect x="660.4" y="83.2" width="3.7" height="3.7" fill="#8CF98C"/>
<rect x="663.2" y="83.7" width="3.7" height="3.7" fill="#8CF98C"/>
<path d="M611.3 75.0V88.4M616.9 78.0V90.6M619.8 68.4V90.6M622.6 64.6V90.6M625.4 49.5V90.6M628.3 61.5V90.6M631.1 80.0V90.6M633.9 46.6V78.8M636.8 46.1V47.1M639.6 46.6V79.4M642.4 49.9V90.6M645.3 62.1V90.6M648.1 78.0V88.4M650.9 72.2V90.6M653.7 79.0V90.6M656.6 46.3V90.6M659.4 46.3V90.6M662.2 47.4V90.6M665.1 46.3V90.6" stroke="#008000" stroke-width="0.9" fill="none" opacity="0.75"/>
<path d="M609.8 75.0h3M609.8 88.4h3M615.4 78.0h3M618.3 68.4h3M621.1 64.6h3M623.9 49.5h3M626.8 61.5h3M629.6 80.0h3M632.4 46.6h3M632.4 78.8h3M635.3 46.1h3M635.3 47.1h3M638.1 46.6h3M638.1 79.4h3M640.9 49.9h3M643.8 62.1h3M646.6 78.0h3M646.6 88.4h3M649.4 72.2h3M652.2 79.0h3M652.2 90.6h3M655.1 46.3h3M657.9 46.3h3M660.7 47.4h3M663.6 46.3h3" stroke="#008000" stroke-width="0.9" fill="none" opacity="0.75"/>
<polyline points="611.3,81.7 616.9,84.4 619.8,81.4 622.6,85.2 625.4,71.3 628.3,85.4 631.1,86.1 633.9,62.7 636.8,46.6 639.6,63.0 642.4,70.9 645.3,82.3 648.1,83.2 650.9,82.9 653.7,84.8 656.6,75.4 659.4,79.8 662.2,78.5 665.1,72.2" stroke="#008000" stroke-width="1.2" fill="none" stroke-linejoin="round"/>
<circle cx="611.3" cy="81.7" r="1.9" fill="#008000"/>
<circle cx="616.9" cy="84.4" r="1.9" fill="#008000"/>
<circle cx="619.8" cy="81.4" r="1.9" fill="#008000"/>
<circle cx="622.6" cy="85.2" r="1.9" fill="#008000"/>
<circle cx="625.4" cy="71.3" r="1.9" fill="#008000"/>
<circle cx="628.3" cy="85.4" r="1.9" fill="#008000"/>
<circle cx="631.1" cy="86.1" r="1.9" fill="#008000"/>
<circle cx="633.9" cy="62.7" r="1.9" fill="#008000"/>
<circle cx="636.8" cy="46.6" r="1.9" fill="#008000"/>
<circle cx="639.6" cy="63.0" r="1.9" fill="#008000"/>
<circle cx="642.4" cy="70.9" r="1.9" fill="#008000"/>
<circle cx="645.3" cy="82.3" r="1.9" fill="#008000"/>
<circle cx="648.1" cy="83.2" r="1.9" fill="#008000"/>
<circle cx="650.9" cy="82.9" r="1.9" fill="#008000"/>
<circle cx="653.7" cy="84.8" r="1.9" fill="#008000"/>
<circle cx="656.6" cy="75.4" r="1.9" fill="#008000"/>
<circle cx="659.4" cy="79.8" r="1.9" fill="#008000"/>
<circle cx="662.2" cy="78.5" r="1.9" fill="#008000"/>
<circle cx="665.1" cy="72.2" r="1.9" fill="#008000"/>
<line x1="540.5" y1="89.6" x2="667.9" y2="89.6" stroke="#000" stroke-width="1.1" stroke-dasharray="2.9 2.1"/>
<text x="669.2" y="89.6" font-size="6.1" font-weight="normal" text-anchor="start" fill="#111" stroke="#111" stroke-width="0.2">0.5</text>
<text x="535.7" y="9.1" font-size="6.5" font-weight="bold" text-anchor="end" fill="#000" >40</text>
<text x="535.7" y="30.1" font-size="6.5" font-weight="bold" text-anchor="end" fill="#000" >30</text>
<text x="535.7" y="51.0" font-size="6.5" font-weight="bold" text-anchor="end" fill="#000" >20</text>
<text x="535.7" y="72.0" font-size="6.5" font-weight="bold" text-anchor="end" fill="#000" >10</text>
<text x="535.7" y="92.9" font-size="6.5" font-weight="bold" text-anchor="end" fill="#000" >0</text>
<text x="667.9" y="101.8" font-size="6.5" font-weight="bold" text-anchor="middle" fill="#000" >0</text>
<text x="639.6" y="101.8" font-size="6.5" font-weight="bold" text-anchor="middle" fill="#000" >10</text>
<text x="611.3" y="101.8" font-size="6.5" font-weight="bold" text-anchor="middle" fill="#000" >20</text>
<text x="583.0" y="101.8" font-size="6.5" font-weight="bold" text-anchor="middle" fill="#000" >30</text>
<text x="554.7" y="101.8" font-size="6.5" font-weight="bold" text-anchor="middle" fill="#000" >40</text>
<text x="604.2" y="112.3" font-size="7.5" font-weight="bold" text-anchor="middle" fill="#000" textLength="68.3" lengthAdjust="spacingAndGlyphs" >Day before outcome</text>
<text transform="translate(525.7,48.8) rotate(-90)" font-size="7.3" font-weight="bold" text-anchor="middle" textLength="50.5" lengthAdjust="spacingAndGlyphs">D-dimer(μg/mL)</text>
<text x="605.7" y="6.6" font-size="7.3" font-weight="bold" text-anchor="middle" fill="#000" >D-dimer</text>
</g>
<g>
<line x1="25.0" y1="159.6" x2="25.0" y2="243.7" stroke="#000" stroke-width="1.3" />
<line x1="24.4" y1="243.7" x2="151.4" y2="243.7" stroke="#000" stroke-width="1.3" />
<line x1="21.0" y1="159.6" x2="25.0" y2="159.6" stroke="#000" stroke-width="1.2" />
<line x1="21.0" y1="180.6" x2="25.0" y2="180.6" stroke="#000" stroke-width="1.2" />
<line x1="21.0" y1="201.6" x2="25.0" y2="201.6" stroke="#000" stroke-width="1.2" />
<line x1="21.0" y1="222.7" x2="25.0" y2="222.7" stroke="#000" stroke-width="1.2" />
<line x1="21.0" y1="243.7" x2="25.0" y2="243.7" stroke="#000" stroke-width="1.2" />
<line x1="150.9" y1="243.7" x2="150.9" y2="247.3" stroke="#000" stroke-width="1.1" />
<line x1="136.9" y1="243.7" x2="136.9" y2="245.9" stroke="#000" stroke-width="1.1" />
<line x1="122.9" y1="243.7" x2="122.9" y2="247.3" stroke="#000" stroke-width="1.1" />
<line x1="108.9" y1="243.7" x2="108.9" y2="245.9" stroke="#000" stroke-width="1.1" />
<line x1="94.9" y1="243.7" x2="94.9" y2="247.3" stroke="#000" stroke-width="1.1" />
<line x1="80.9" y1="243.7" x2="80.9" y2="245.9" stroke="#000" stroke-width="1.1" />
<line x1="66.9" y1="243.7" x2="66.9" y2="247.3" stroke="#000" stroke-width="1.1" />
<line x1="52.9" y1="243.7" x2="52.9" y2="245.9" stroke="#000" stroke-width="1.1" />
<line x1="38.9" y1="243.7" x2="38.9" y2="247.3" stroke="#000" stroke-width="1.1" />
<line x1="24.9" y1="243.7" x2="24.9" y2="245.9" stroke="#000" stroke-width="1.1" />
<path d="M86.5 209.6V220.4M89.3 212.7V219.3M92.1 210.6V219.4M94.9 212.6V221.4M97.7 211.6V220.4M100.5 213.6V222.4M103.3 214.1V223.9M106.1 216.4V227.0M108.9 215.1V224.9M111.7 213.1V222.9M114.5 211.1V220.9M117.3 209.1V218.9M120.1 208.1V217.9M122.9 204.5V215.5M125.7 209.1V218.9M128.5 207.1V216.9M131.3 200.0V216.6M134.1 214.5V225.5M136.9 222.4V233.2M139.7 218.5V229.5M142.5 216.5V227.5M145.3 214.5V225.5M148.1 211.4V222.2" stroke="#FFA36B" stroke-width="0.8" fill="none" opacity="1"/>
<path d="M85.0 209.6h3M85.0 220.4h3M87.8 212.7h3M87.8 219.3h3M90.6 210.6h3M90.6 219.4h3M93.4 212.6h3M93.4 221.4h3M96.2 211.6h3M96.2 220.4h3M99.0 213.6h3M99.0 222.4h3M101.8 214.1h3M101.8 223.9h3M104.6 216.4h3M104.6 227.0h3M107.4 215.1h3M107.4 224.9h3M110.2 213.1h3M110.2 222.9h3M113.0 211.1h3M113.0 220.9h3M115.8 209.1h3M115.8 218.9h3M118.6 208.1h3M118.6 217.9h3M121.4 204.5h3M121.4 215.5h3M124.2 209.1h3M124.2 218.9h3M127.0 207.1h3M127.0 216.9h3M129.8 200.0h3M129.8 216.6h3M132.6 214.5h3M132.6 225.5h3M135.4 222.4h3M135.4 233.2h3M138.2 218.5h3M138.2 229.5h3M141.0 216.5h3M141.0 227.5h3M143.8 214.5h3M143.8 225.5h3M146.6 211.4h3M146.6 222.2h3" stroke="#FF7A2A" stroke-width="1.1" fill="none" opacity="1"/>
<polyline points="86.5,215.0 89.3,216.0 92.1,215.0 94.9,217.0 97.7,216.0 100.5,218.0 103.3,219.0 106.1,221.7 108.9,220.0 111.7,218.0 114.5,216.0 117.3,214.0 120.1,213.0 122.9,210.0 125.7,214.0 128.5,212.0 131.3,208.3 134.1,220.0 136.9,227.8 139.7,224.0 142.5,222.0 145.3,220.0 148.1,216.8" stroke="#FF6600" stroke-width="1.3" fill="none" stroke-linejoin="round"/>
<path d="M86.5 212.9L88.3 216.5L84.7 216.5Z" fill="#FF6600"/>
<path d="M89.3 213.9L91.1 217.5L87.5 217.5Z" fill="#FF6600"/>
<path d="M92.1 212.9L93.9 216.5L90.3 216.5Z" fill="#FF6600"/>
<path d="M94.9 214.9L96.7 218.5L93.1 218.5Z" fill="#FF6600"/>
<path d="M97.7 213.9L99.5 217.5L95.9 217.5Z" fill="#FF6600"/>
<path d="M100.5 215.9L102.3 219.5L98.7 219.5Z" fill="#FF6600"/>
<path d="M103.3 216.9L105.1 220.5L101.5 220.5Z" fill="#FF6600"/>
<path d="M106.1 219.6L107.9 223.2L104.3 223.2Z" fill="#FF6600"/>
<path d="M108.9 217.9L110.7 221.5L107.1 221.5Z" fill="#FF6600"/>
<path d="M111.7 215.9L113.5 219.5L109.9 219.5Z" fill="#FF6600"/>
<path d="M114.5 213.9L116.3 217.5L112.7 217.5Z" fill="#FF6600"/>
<path d="M117.3 211.9L119.1 215.5L115.5 215.5Z" fill="#FF6600"/>
<path d="M120.1 210.9L121.9 214.5L118.3 214.5Z" fill="#FF6600"/>
<path d="M122.9 207.9L124.7 211.5L121.1 211.5Z" fill="#FF6600"/>
<path d="M125.7 211.9L127.5 215.5L123.9 215.5Z" fill="#FF6600"/>
<path d="M128.5 209.9L130.3 213.5L126.7 213.5Z" fill="#FF6600"/>
<path d="M131.3 206.2L133.1 209.8L129.5 209.8Z" fill="#FF6600"/>
<path d="M134.1 217.9L135.9 221.5L132.3 221.5Z" fill="#FF6600"/>
<path d="M136.9 225.7L138.7 229.3L135.1 229.3Z" fill="#FF6600"/>
<path d="M139.7 221.9L141.5 225.5L137.9 225.5Z" fill="#FF6600"/>
<path d="M142.5 219.9L144.3 223.5L140.7 223.5Z" fill="#FF6600"/>
<path d="M145.3 217.9L147.1 221.5L143.5 221.5Z" fill="#FF6600"/>
<path d="M148.1 214.7L149.9 218.3L146.3 218.3Z" fill="#FF6600"/>
<path d="M24.9 205.0V216.0M27.7 205.0V222.8M30.5 197.4V219.2M33.3 203.0V217.4M36.1 191.4V229.0M41.7 187.7V227.7M50.1 174.0V217.2M52.9 178.3V224.1M55.7 205.0V234.0M61.3 199.3V221.1M69.7 205.0V227.2M72.5 189.6V231.4M75.3 205.0V225.4M78.1 197.0V216.6M80.9 212.0V226.0M83.7 214.0V225.6M86.5 214.5V226.5M89.3 215.0V227.0M92.1 194.3V231.9M94.9 202.2V232.6M97.7 210.3V224.5M100.5 213.0V226.6M103.3 211.0V225.0M106.1 212.0V226.4M108.9 214.0V235.4M111.7 212.0V233.8M114.5 206.0V226.4M117.3 204.0V224.8M120.1 207.0V229.0M122.9 203.0V225.8M125.7 209.0V229.4M128.5 211.0V233.6M131.3 196.0V209.6M134.1 219.4V241.0M136.9 219.0V241.4M139.7 215.0V240.6M142.5 217.0V242.2M145.3 208.0V233.0M148.1 204.0V222.2" stroke="#8CF98C" stroke-width="0.8" fill="none" opacity="1"/>
<path d="M23.4 205.0h3M23.4 216.0h3M26.2 205.0h3M26.2 222.8h3M29.0 197.4h3M29.0 219.2h3M31.8 203.0h3M31.8 217.4h3M34.6 191.4h3M34.6 229.0h3M40.2 187.7h3M40.2 227.7h3M48.6 174.0h3M48.6 217.2h3M51.4 178.3h3M51.4 224.1h3M54.2 205.0h3M54.2 234.0h3M59.8 199.3h3M59.8 221.1h3M68.2 205.0h3M68.2 227.2h3M71.0 189.6h3M71.0 231.4h3M73.8 205.0h3M73.8 225.4h3M76.6 197.0h3M76.6 216.6h3M79.4 212.0h3M79.4 226.0h3M82.2 214.0h3M82.2 225.6h3M85.0 214.5h3M85.0 226.5h3M87.8 215.0h3M87.8 227.0h3M90.6 194.3h3M90.6 231.9h3M93.4 202.2h3M93.4 232.6h3M96.2 210.3h3M96.2 224.5h3M99.0 213.0h3M99.0 226.6h3M101.8 211.0h3M101.8 225.0h3M104.6 212.0h3M104.6 226.4h3M107.4 214.0h3M107.4 235.4h3M110.2 212.0h3M110.2 233.8h3M113.0 206.0h3M113.0 226.4h3M115.8 204.0h3M115.8 224.8h3M118.6 207.0h3M118.6 229.0h3M121.4 203.0h3M121.4 225.8h3M124.2 209.0h3M124.2 229.4h3M127.0 211.0h3M127.0 233.6h3M129.8 196.0h3M129.8 209.6h3M132.6 219.4h3M132.6 241.0h3M135.4 219.0h3M135.4 241.4h3M138.2 215.0h3M138.2 240.6h3M141.0 217.0h3M141.0 242.2h3M143.8 208.0h3M143.8 233.0h3M146.6 204.0h3M146.6 222.2h3" stroke="#8CF98C" stroke-width="0.8" fill="none" opacity="1"/>
<polyline points="24.9,210.5 27.7,213.9 30.5,208.3 33.3,210.2 36.1,210.2 41.7,207.7 50.1,195.6 52.9,201.2 55.7,219.5 61.3,210.2 69.7,216.1 72.5,210.5 75.3,215.2 78.1,206.8 80.9,219.0 83.7,219.8 86.5,220.5 89.3,221.0 92.1,213.1 94.9,217.4 97.7,217.4 100.5,219.8 103.3,218.0 106.1,219.2 108.9,224.7 111.7,222.9 114.5,216.2 117.3,214.4 120.1,218.0 122.9,214.4 125.7,219.2 128.5,222.3 131.3,202.8 134.1,230.2 136.9,230.2 139.7,227.8 142.5,229.6 145.3,220.5 148.1,213.1" stroke="#8CF98C" stroke-width="1.4" fill="none" stroke-linejoin="round"/>
<rect x="23.1" y="208.7" width="3.7" height="3.7" fill="#8CF98C"/>
<rect x="25.9" y="212.1" width="3.7" height="3.7" fill="#8CF98C"/>
<rect x="28.7" y="206.5" width="3.7" height="3.7" fill="#8CF98C"/>
<rect x="31.5" y="208.3" width="3.7" height="3.7" fill="#8CF98C"/>
<rect x="34.3" y="208.3" width="3.7" height="3.7" fill="#8CF98C"/>
<rect x="39.9" y="205.8" width="3.7" height="3.7" fill="#8CF98C"/>
<rect x="48.3" y="193.8" width="3.7" height="3.7" fill="#8CF98C"/>
<rect x="51.1" y="199.3" width="3.7" height="3.7" fill="#8CF98C"/>
<rect x="53.9" y="217.7" width="3.7" height="3.7" fill="#8CF98C"/>
<rect x="59.5" y="208.3" width="3.7" height="3.7" fill="#8CF98C"/>
<rect x="67.9" y="214.2" width="3.7" height="3.7" fill="#8CF98C"/>
<rect x="70.7" y="208.7" width="3.7" height="3.7" fill="#8CF98C"/>
<rect x="73.5" y="213.3" width="3.7" height="3.7" fill="#8CF98C"/>
<rect x="76.3" y="205.0" width="3.7" height="3.7" fill="#8CF98C"/>
<rect x="79.1" y="217.2" width="3.7" height="3.7" fill="#8CF98C"/>
<rect x="81.9" y="218.0" width="3.7" height="3.7" fill="#8CF98C"/>
<rect x="84.7" y="218.7" width="3.7" height="3.7" fill="#8CF98C"/>
<rect x="87.5" y="219.2" width="3.7" height="3.7" fill="#8CF98C"/>
<rect x="90.3" y="211.2" width="3.7" height="3.7" fill="#8CF98C"/>
<rect x="93.1" y="215.6" width="3.7" height="3.7" fill="#8CF98C"/>
<rect x="95.9" y="215.6" width="3.7" height="3.7" fill="#8CF98C"/>
<rect x="98.7" y="218.0" width="3.7" height="3.7" fill="#8CF98C"/>
<rect x="101.5" y="216.2" width="3.7" height="3.7" fill="#8CF98C"/>
<rect x="104.3" y="217.3" width="3.7" height="3.7" fill="#8CF98C"/>
<rect x="107.1" y="222.8" width="3.7" height="3.7" fill="#8CF98C"/>
<rect x="109.9" y="221.1" width="3.7" height="3.7" fill="#8CF98C"/>
<rect x="112.7" y="214.3" width="3.7" height="3.7" fill="#8CF98C"/>
<rect x="115.5" y="212.6" width="3.7" height="3.7" fill="#8CF98C"/>
<rect x="118.3" y="216.2" width="3.7" height="3.7" fill="#8CF98C"/>
<rect x="121.1" y="212.6" width="3.7" height="3.7" fill="#8CF98C"/>
<rect x="123.9" y="217.3" width="3.7" height="3.7" fill="#8CF98C"/>
<rect x="126.7" y="220.5" width="3.7" height="3.7" fill="#8CF98C"/>
<rect x="129.5" y="201.0" width="3.7" height="3.7" fill="#8CF98C"/>
<rect x="132.3" y="228.3" width="3.7" height="3.7" fill="#8CF98C"/>
<rect x="135.1" y="228.3" width="3.7" height="3.7" fill="#8CF98C"/>
<rect x="137.9" y="226.0" width="3.7" height="3.7" fill="#8CF98C"/>
<rect x="140.7" y="227.8" width="3.7" height="3.7" fill="#8CF98C"/>
<rect x="143.5" y="218.7" width="3.7" height="3.7" fill="#8CF98C"/>
<rect x="146.2" y="211.2" width="3.7" height="3.7" fill="#8CF98C"/>
<path d="M103.3 202.8V229.6M106.1 205.8V231.4M108.9 206.0V226.0M111.7 203.0V221.4M114.5 204.0V221.0M117.3 208.3V214.3M120.1 206.0V225.2M122.9 197.1V217.1M125.7 208.3V229.7M128.5 211.7V232.1M131.3 217.4V235.2M134.1 206.4V230.2M136.9 216.0V236.6M139.7 212.0V231.8M142.5 209.0V227.6M145.3 214.4V230.8M148.1 210.0V235.2" stroke="#008000" stroke-width="0.9" fill="none" opacity="0.75"/>
<path d="M101.8 202.8h3M101.8 229.6h3M104.6 205.8h3M104.6 231.4h3M107.4 206.0h3M107.4 226.0h3M110.2 203.0h3M110.2 221.4h3M113.0 204.0h3M113.0 221.0h3M115.8 208.3h3M115.8 214.3h3M118.6 206.0h3M118.6 225.2h3M121.4 197.1h3M121.4 217.1h3M124.2 208.3h3M124.2 229.7h3M127.0 211.7h3M127.0 232.1h3M129.8 217.4h3M129.8 235.2h3M132.6 206.4h3M132.6 230.2h3M135.4 216.0h3M135.4 236.6h3M138.2 212.0h3M138.2 231.8h3M141.0 209.0h3M141.0 227.6h3M143.8 214.4h3M143.8 230.8h3M146.6 210.0h3M146.6 235.2h3" stroke="#008000" stroke-width="0.9" fill="none" opacity="0.75"/>
<polyline points="103.3,216.2 106.1,218.6 108.9,216.0 111.7,212.2 114.5,212.5 117.3,211.3 120.1,215.6 122.9,207.1 125.7,219.0 128.5,221.9 131.3,226.3 134.1,218.3 136.9,226.3 139.7,221.9 142.5,218.3 145.3,222.6 148.1,222.6" stroke="#008000" stroke-width="1.2" fill="none" stroke-linejoin="round"/>
<circle cx="103.3" cy="216.2" r="1.9" fill="#008000"/>
<circle cx="106.1" cy="218.6" r="1.9" fill="#008000"/>
<circle cx="108.9" cy="216.0" r="1.9" fill="#008000"/>
<circle cx="111.7" cy="212.2" r="1.9" fill="#008000"/>
<circle cx="114.5" cy="212.5" r="1.9" fill="#008000"/>
<circle cx="117.3" cy="211.3" r="1.9" fill="#008000"/>
<circle cx="120.1" cy="215.6" r="1.9" fill="#008000"/>
<circle cx="122.9" cy="207.1" r="1.9" fill="#008000"/>
<circle cx="125.7" cy="219.0" r="1.9" fill="#008000"/>
<circle cx="128.5" cy="221.9" r="1.9" fill="#008000"/>
<circle cx="131.3" cy="226.3" r="1.9" fill="#008000"/>
<circle cx="134.1" cy="218.3" r="1.9" fill="#008000"/>
<circle cx="136.9" cy="226.3" r="1.9" fill="#008000"/>
<circle cx="139.7" cy="221.9" r="1.9" fill="#008000"/>
<circle cx="142.5" cy="218.3" r="1.9" fill="#008000"/>
<circle cx="145.3" cy="222.6" r="1.9" fill="#008000"/>
<circle cx="148.1" cy="222.6" r="1.9" fill="#008000"/>
<line x1="25.0" y1="168.9" x2="150.9" y2="168.9" stroke="#000" stroke-width="1.1" stroke-dasharray="2.9 2.1"/>
<line x1="25.0" y1="205.4" x2="150.9" y2="205.4" stroke="#000" stroke-width="1.1" stroke-dasharray="2.9 2.1"/>
<text x="154.7" y="170.0" font-size="6.1" font-weight="normal" text-anchor="start" fill="#111" stroke="#111" stroke-width="0.2">1.78</text>
<text x="153.7" y="206.9" font-size="6.1" font-weight="normal" text-anchor="start" fill="#111" stroke="#111" stroke-width="0.2">0.91</text>
<text x="20.2" y="161.9" font-size="6.5" font-weight="bold" text-anchor="end" fill="#000" >2.0</text>
<text x="20.2" y="182.9" font-size="6.5" font-weight="bold" text-anchor="end" fill="#000" >1.5</text>
<text x="20.2" y="203.9" font-size="6.5" font-weight="bold" text-anchor="end" fill="#000" >1.0</text>
<text x="20.2" y="225.0" font-size="6.5" font-weight="bold" text-anchor="end" fill="#000" >0.5</text>
<text x="20.2" y="246.0" font-size="6.5" font-weight="bold" text-anchor="end" fill="#000" >0.0</text>
<text x="150.9" y="254.9" font-size="6.5" font-weight="bold" text-anchor="middle" fill="#000" >0</text>
<text x="122.9" y="254.9" font-size="6.5" font-weight="bold" text-anchor="middle" fill="#000" >10</text>
<text x="94.9" y="254.9" font-size="6.5" font-weight="bold" text-anchor="middle" fill="#000" >20</text>
<text x="66.9" y="254.9" font-size="6.5" font-weight="bold" text-anchor="middle" fill="#000" >30</text>
<text x="38.9" y="254.9" font-size="6.5" font-weight="bold" text-anchor="middle" fill="#000" >40</text>
<text x="88.0" y="265.2" font-size="7.5" font-weight="bold" text-anchor="middle" fill="#000" textLength="68.3" lengthAdjust="spacingAndGlyphs" >Day before outcome</text>
<text transform="translate(7.8,201.6) rotate(-90)" font-size="7.3" font-weight="bold" text-anchor="middle" textLength="42.6" lengthAdjust="spacingAndGlyphs">HDL(mmol/L)</text>
<text x="85.3" y="152.7" font-size="7.3" font-weight="bold" text-anchor="middle" fill="#000" textLength="85.6" lengthAdjust="spacingAndGlyphs" >High-density Lipoprotein</text>
</g>
<g>
<line x1="204.3" y1="159.8" x2="204.3" y2="243.6" stroke="#000" stroke-width="1.3" />
<line x1="203.7" y1="229.6" x2="331.1" y2="229.6" stroke="#000" stroke-width="1.3" />
<line x1="200.3" y1="159.8" x2="204.3" y2="159.8" stroke="#000" stroke-width="1.2" />
<line x1="200.3" y1="173.8" x2="204.3" y2="173.8" stroke="#000" stroke-width="1.2" />
<line x1="200.3" y1="187.7" x2="204.3" y2="187.7" stroke="#000" stroke-width="1.2" />
<line x1="200.3" y1="201.7" x2="204.3" y2="201.7" stroke="#000" stroke-width="1.2" />
<line x1="200.3" y1="215.7" x2="204.3" y2="215.7" stroke="#000" stroke-width="1.2" />
<line x1="200.3" y1="229.6" x2="204.3" y2="229.6" stroke="#000" stroke-width="1.2" />
<line x1="200.3" y1="243.6" x2="204.3" y2="243.6" stroke="#000" stroke-width="1.2" />
<line x1="330.6" y1="229.6" x2="330.6" y2="233.2" stroke="#000" stroke-width="1.1" />
<line x1="316.6" y1="229.6" x2="316.6" y2="231.8" stroke="#000" stroke-width="1.1" />
<line x1="302.6" y1="229.6" x2="302.6" y2="233.2" stroke="#000" stroke-width="1.1" />
<line x1="288.6" y1="229.6" x2="288.6" y2="231.8" stroke="#000" stroke-width="1.1" />
<line x1="274.6" y1="229.6" x2="274.6" y2="233.2" stroke="#000" stroke-width="1.1" />
<line x1="260.6" y1="229.6" x2="260.6" y2="231.8" stroke="#000" stroke-width="1.1" />
<line x1="246.6" y1="229.6" x2="246.6" y2="233.2" stroke="#000" stroke-width="1.1" />
<line x1="232.6" y1="229.6" x2="232.6" y2="231.8" stroke="#000" stroke-width="1.1" />
<line x1="218.6" y1="229.6" x2="218.6" y2="233.2" stroke="#000" stroke-width="1.1" />
<line x1="204.6" y1="229.6" x2="204.6" y2="231.8" stroke="#000" stroke-width="1.1" />
<path d="M266.2 200.5V225.5M269.0 196.0V228.0M271.8 197.0V229.0M274.6 195.0V229.0M277.4 207.0V219.0M280.2 206.0V219.0M283.0 207.0V219.0M285.8 208.0V220.0M288.6 196.5V235.5M291.4 208.0V220.0M294.2 209.0V221.0M297.0 201.0V227.0M299.8 209.0V221.0M302.6 210.0V222.0M305.4 209.0V221.0M308.2 210.0V222.0M311.0 210.0V222.0M313.8 211.0V223.0M316.6 211.0V223.0M319.4 212.0V224.0M322.2 211.0V223.0M325.0 212.0V224.0M327.8 213.0V225.0" stroke="#FFA36B" stroke-width="0.8" fill="none" opacity="1"/>
<path d="M264.7 200.5h3M264.7 225.5h3M267.5 196.0h3M267.5 228.0h3M270.3 197.0h3M270.3 229.0h3M273.1 195.0h3M273.1 229.0h3M275.9 207.0h3M275.9 219.0h3M278.7 206.0h3M278.7 219.0h3M281.5 207.0h3M281.5 219.0h3M284.3 208.0h3M284.3 220.0h3M287.1 196.5h3M287.1 235.5h3M289.9 208.0h3M289.9 220.0h3M292.7 209.0h3M292.7 221.0h3M295.5 201.0h3M295.5 227.0h3M298.3 209.0h3M298.3 221.0h3M301.1 210.0h3M301.1 222.0h3M303.9 209.0h3M303.9 221.0h3M306.7 210.0h3M306.7 222.0h3M309.5 210.0h3M309.5 222.0h3M312.3 211.0h3M312.3 223.0h3M315.1 211.0h3M315.1 223.0h3M317.9 212.0h3M317.9 224.0h3M320.7 211.0h3M320.7 223.0h3M323.5 212.0h3M323.5 224.0h3M326.3 213.0h3M326.3 225.0h3" stroke="#FF7A2A" stroke-width="1.1" fill="none" opacity="1"/>
<polyline points="266.2,213.0 269.0,212.0 271.8,213.0 274.6,212.0 277.4,213.0 280.2,212.5 283.0,213.0 285.8,214.0 288.6,216.0 291.4,214.0 294.2,215.0 297.0,214.0 299.8,215.0 302.6,216.0 305.4,215.0 308.2,216.0 311.0,216.0 313.8,217.0 316.6,217.0 319.4,218.0 322.2,217.0 325.0,218.0 327.8,219.0" stroke="#FF6600" stroke-width="1.3" fill="none" stroke-linejoin="round"/>
<path d="M266.2 210.9L268.0 214.5L264.4 214.5Z" fill="#FF6600"/>
<path d="M269.0 209.9L270.8 213.5L267.2 213.5Z" fill="#FF6600"/>
<path d="M271.8 210.9L273.6 214.5L270.0 214.5Z" fill="#FF6600"/>
<path d="M274.6 209.9L276.4 213.5L272.8 213.5Z" fill="#FF6600"/>
<path d="M277.4 210.9L279.2 214.5L275.6 214.5Z" fill="#FF6600"/>
<path d="M280.2 210.4L282.0 214.0L278.4 214.0Z" fill="#FF6600"/>
<path d="M283.0 210.9L284.8 214.5L281.2 214.5Z" fill="#FF6600"/>
<path d="M285.8 211.9L287.6 215.5L284.0 215.5Z" fill="#FF6600"/>
<path d="M288.6 213.9L290.4 217.5L286.8 217.5Z" fill="#FF6600"/>
<path d="M291.4 211.9L293.2 215.5L289.6 215.5Z" fill="#FF6600"/>
<path d="M294.2 212.9L296.0 216.5L292.4 216.5Z" fill="#FF6600"/>
<path d="M297.0 211.9L298.8 215.5L295.2 215.5Z" fill="#FF6600"/>
<path d="M299.8 212.9L301.6 216.5L298.0 216.5Z" fill="#FF6600"/>
<path d="M302.6 213.9L304.4 217.5L300.8 217.5Z" fill="#FF6600"/>
<path d="M305.4 212.9L307.2 216.5L303.6 216.5Z" fill="#FF6600"/>
<path d="M308.2 213.9L310.0 217.5L306.4 217.5Z" fill="#FF6600"/>
<path d="M311.0 213.9L312.8 217.5L309.2 217.5Z" fill="#FF6600"/>
<path d="M313.8 214.9L315.6 218.5L312.0 218.5Z" fill="#FF6600"/>
<path d="M316.6 214.9L318.4 218.5L314.8 218.5Z" fill="#FF6600"/>
<path d="M319.4 215.9L321.2 219.5L317.6 219.5Z" fill="#FF6600"/>
<path d="M322.2 214.9L324.0 218.5L320.4 218.5Z" fill="#FF6600"/>
<path d="M325.0 215.9L326.8 219.5L323.2 219.5Z" fill="#FF6600"/>
<path d="M327.8 216.9L329.6 220.5L326.0 220.5Z" fill="#FF6600"/>
<path d="M204.6 194.4V226.4M207.4 196.1V228.1M210.2 195.6V222.0M213.0 184.5V226.5M215.8 194.4V229.8M221.4 190.1V229.9M229.8 175.8V228.6M232.6 178.6V240.0M235.4 200.5V233.7M241.0 187.3V229.3M249.4 191.5V236.1M252.2 198.9V233.5M255.0 194.0V223.6M257.8 191.1V227.5M260.6 194.8V234.4M263.4 200.0V235.8M266.2 196.0V231.6M269.0 195.0V230.8M271.8 196.0V230.0M274.6 193.0V231.0M277.4 196.0V230.0M280.2 197.0V231.0M283.0 196.0V231.0M285.8 197.0V231.0M288.6 195.0V231.0M291.4 197.0V232.0M294.2 196.0V232.0M297.0 198.0V232.0M299.8 197.0V231.0M302.6 198.0V232.0M305.4 197.0V232.0M308.2 199.0V231.0M311.0 198.0V230.0M313.8 199.0V231.0M316.6 198.0V231.0M319.4 199.0V231.0M322.2 198.0V230.0M325.0 200.0V230.0M327.8 201.0V231.0" stroke="#8CF98C" stroke-width="0.8" fill="none" opacity="1"/>
<path d="M203.1 194.4h3M203.1 226.4h3M205.9 196.1h3M205.9 228.1h3M208.7 195.6h3M208.7 222.0h3M211.5 184.5h3M211.5 226.5h3M214.3 194.4h3M214.3 229.8h3M219.9 190.1h3M219.9 229.9h3M228.3 175.8h3M228.3 228.6h3M231.1 178.6h3M231.1 240.0h3M233.9 200.5h3M233.9 233.7h3M239.5 187.3h3M239.5 229.3h3M247.9 191.5h3M247.9 236.1h3M250.7 198.9h3M250.7 233.5h3M253.5 194.0h3M253.5 223.6h3M256.3 191.1h3M256.3 227.5h3M259.1 194.8h3M259.1 234.4h3M261.9 200.0h3M261.9 235.8h3M264.7 196.0h3M264.7 231.6h3M267.5 195.0h3M267.5 230.8h3M270.3 196.0h3M270.3 230.0h3M273.1 193.0h3M273.1 231.0h3M275.9 196.0h3M275.9 230.0h3M278.7 197.0h3M278.7 231.0h3M281.5 196.0h3M281.5 231.0h3M284.3 197.0h3M284.3 231.0h3M287.1 195.0h3M287.1 231.0h3M289.9 197.0h3M289.9 232.0h3M292.7 196.0h3M292.7 232.0h3M295.5 198.0h3M295.5 232.0h3M298.3 197.0h3M298.3 231.0h3M301.1 198.0h3M301.1 232.0h3M303.9 197.0h3M303.9 232.0h3M306.7 199.0h3M306.7 231.0h3M309.5 198.0h3M309.5 230.0h3M312.3 199.0h3M312.3 231.0h3M315.1 198.0h3M315.1 231.0h3M317.9 199.0h3M317.9 231.0h3M320.7 198.0h3M320.7 230.0h3M323.5 200.0h3M323.5 230.0h3M326.3 201.0h3M326.3 231.0h3" stroke="#8CF98C" stroke-width="0.8" fill="none" opacity="1"/>
<polyline points="204.6,210.4 207.4,212.1 210.2,208.8 213.0,205.5 215.8,212.1 221.4,210.0 229.8,202.2 232.6,209.3 235.4,217.1 241.0,208.3 249.4,213.8 252.2,216.2 255.0,208.8 257.8,209.3 260.6,214.6 263.4,217.9 266.2,213.8 269.0,212.9 271.8,213.0 274.6,212.0 277.4,213.0 280.2,214.0 283.0,213.5 285.8,214.0 288.6,213.0 291.4,214.5 294.2,214.0 297.0,215.0 299.8,214.0 302.6,215.0 305.4,214.5 308.2,215.0 311.0,214.0 313.8,215.0 316.6,214.5 319.4,215.0 322.2,214.0 325.0,215.0 327.8,216.0" stroke="#8CF98C" stroke-width="1.4" fill="none" stroke-linejoin="round"/>
<rect x="202.8" y="208.6" width="3.7" height="3.7" fill="#8CF98C"/>
<rect x="205.6" y="210.2" width="3.7" height="3.7" fill="#8CF98C"/>
<rect x="208.4" y="207.0" width="3.7" height="3.7" fill="#8CF98C"/>
<rect x="211.2" y="203.7" width="3.7" height="3.7" fill="#8CF98C"/>
<rect x="214.0" y="210.2" width="3.7" height="3.7" fill="#8CF98C"/>
<rect x="219.6" y="208.2" width="3.7" height="3.7" fill="#8CF98C"/>
<rect x="228.0" y="200.3" width="3.7" height="3.7" fill="#8CF98C"/>
<rect x="230.8" y="207.5" width="3.7" height="3.7" fill="#8CF98C"/>
<rect x="233.6" y="215.2" width="3.7" height="3.7" fill="#8CF98C"/>
<rect x="239.2" y="206.5" width="3.7" height="3.7" fill="#8CF98C"/>
<rect x="247.6" y="212.0" width="3.7" height="3.7" fill="#8CF98C"/>
<rect x="250.4" y="214.3" width="3.7" height="3.7" fill="#8CF98C"/>
<rect x="253.2" y="207.0" width="3.7" height="3.7" fill="#8CF98C"/>
<rect x="256.0" y="207.5" width="3.7" height="3.7" fill="#8CF98C"/>
<rect x="258.8" y="212.8" width="3.7" height="3.7" fill="#8CF98C"/>
<rect x="261.6" y="216.1" width="3.7" height="3.7" fill="#8CF98C"/>
<rect x="264.4" y="212.0" width="3.7" height="3.7" fill="#8CF98C"/>
<rect x="267.1" y="211.1" width="3.7" height="3.7" fill="#8CF98C"/>
<rect x="269.9" y="211.2" width="3.7" height="3.7" fill="#8CF98C"/>
<rect x="272.8" y="210.2" width="3.7" height="3.7" fill="#8CF98C"/>
<rect x="275.6" y="211.2" width="3.7" height="3.7" fill="#8CF98C"/>
<rect x="278.4" y="212.2" width="3.7" height="3.7" fill="#8CF98C"/>
<rect x="281.1" y="211.7" width="3.7" height="3.7" fill="#8CF98C"/>
<rect x="283.9" y="212.2" width="3.7" height="3.7" fill="#8CF98C"/>
<rect x="286.8" y="211.2" width="3.7" height="3.7" fill="#8CF98C"/>
<rect x="289.6" y="212.7" width="3.7" height="3.7" fill="#8CF98C"/>
<rect x="292.4" y="212.2" width="3.7" height="3.7" fill="#8CF98C"/>
<rect x="295.1" y="213.2" width="3.7" height="3.7" fill="#8CF98C"/>
<rect x="297.9" y="212.2" width="3.7" height="3.7" fill="#8CF98C"/>
<rect x="300.8" y="213.2" width="3.7" height="3.7" fill="#8CF98C"/>
<rect x="303.6" y="212.7" width="3.7" height="3.7" fill="#8CF98C"/>
<rect x="306.4" y="213.2" width="3.7" height="3.7" fill="#8CF98C"/>
<rect x="309.1" y="212.2" width="3.7" height="3.7" fill="#8CF98C"/>
<rect x="311.9" y="213.2" width="3.7" height="3.7" fill="#8CF98C"/>
<rect x="314.8" y="212.7" width="3.7" height="3.7" fill="#8CF98C"/>
<rect x="317.6" y="213.2" width="3.7" height="3.7" fill="#8CF98C"/>
<rect x="320.4" y="212.2" width="3.7" height="3.7" fill="#8CF98C"/>
<rect x="323.1" y="213.2" width="3.7" height="3.7" fill="#8CF98C"/>
<rect x="325.9" y="214.2" width="3.7" height="3.7" fill="#8CF98C"/>
<path d="M283.0 197.2V225.4M285.8 195.6V228.6M288.6 196.0V230.6M291.4 196.4V232.8M294.2 194.4V239.8M297.0 190.6V236.0M299.8 194.4V241.4M302.6 203.8V232.6M305.4 200.5V230.3M308.2 197.2V231.2M311.0 201.0V236.4M313.8 200.5V235.9M316.6 203.0V236.0M319.4 204.7V236.1M322.2 203.0V232.8M325.0 203.0V235.4M327.8 202.2V242.8" stroke="#008000" stroke-width="0.9" fill="none" opacity="0.75"/>
<path d="M281.5 197.2h3M281.5 225.4h3M284.3 195.6h3M284.3 228.6h3M287.1 196.0h3M287.1 230.6h3M289.9 196.4h3M289.9 232.8h3M292.7 194.4h3M292.7 239.8h3M295.5 190.6h3M295.5 236.0h3M298.3 194.4h3M298.3 241.4h3M301.1 203.8h3M301.1 232.6h3M303.9 200.5h3M303.9 230.3h3M306.7 197.2h3M306.7 231.2h3M309.5 201.0h3M309.5 236.4h3M312.3 200.5h3M312.3 235.9h3M315.1 203.0h3M315.1 236.0h3M317.9 204.7h3M317.9 236.1h3M320.7 203.0h3M320.7 232.8h3M323.5 203.0h3M323.5 235.4h3M326.3 202.2h3M326.3 242.8h3" stroke="#008000" stroke-width="0.9" fill="none" opacity="0.75"/>
<polyline points="283.0,211.3 285.8,212.1 288.6,213.3 291.4,214.6 294.2,217.1 297.0,213.3 299.8,217.9 302.6,218.2 305.4,215.4 308.2,214.2 311.0,218.7 313.8,218.2 316.6,219.5 319.4,220.4 322.2,217.9 325.0,219.2 327.8,222.5" stroke="#008000" stroke-width="1.2" fill="none" stroke-linejoin="round"/>
<circle cx="283.0" cy="211.3" r="1.9" fill="#008000"/>
<circle cx="285.8" cy="212.1" r="1.9" fill="#008000"/>
<circle cx="288.6" cy="213.3" r="1.9" fill="#008000"/>
<circle cx="291.4" cy="214.6" r="1.9" fill="#008000"/>
<circle cx="294.2" cy="217.1" r="1.9" fill="#008000"/>
<circle cx="297.0" cy="213.3" r="1.9" fill="#008000"/>
<circle cx="299.8" cy="217.9" r="1.9" fill="#008000"/>
<circle cx="302.6" cy="218.2" r="1.9" fill="#008000"/>
<circle cx="305.4" cy="215.4" r="1.9" fill="#008000"/>
<circle cx="308.2" cy="214.2" r="1.9" fill="#008000"/>
<circle cx="311.0" cy="218.7" r="1.9" fill="#008000"/>
<circle cx="313.8" cy="218.2" r="1.9" fill="#008000"/>
<circle cx="316.6" cy="219.5" r="1.9" fill="#008000"/>
<circle cx="319.4" cy="220.4" r="1.9" fill="#008000"/>
<circle cx="322.2" cy="217.9" r="1.9" fill="#008000"/>
<circle cx="325.0" cy="219.2" r="1.9" fill="#008000"/>
<circle cx="327.8" cy="222.5" r="1.9" fill="#008000"/>
<line x1="204.3" y1="207.8" x2="330.6" y2="207.8" stroke="#000" stroke-width="1.1" stroke-dasharray="2.9 2.1"/>
<line x1="204.3" y1="218.5" x2="330.6" y2="218.5" stroke="#000" stroke-width="1.1" stroke-dasharray="2.9 2.1"/>
<text x="333.5" y="207.5" font-size="6.1" font-weight="normal" text-anchor="start" fill="#111" stroke="#111" stroke-width="0.2">3.12</text>
<text x="333.5" y="221.3" font-size="6.1" font-weight="normal" text-anchor="start" fill="#111" stroke="#111" stroke-width="0.2">1.6</text>
<text x="199.5" y="162.1" font-size="6.5" font-weight="bold" text-anchor="end" fill="#000" >10</text>
<text x="199.5" y="176.1" font-size="6.5" font-weight="bold" text-anchor="end" fill="#000" >8</text>
<text x="199.5" y="190.0" font-size="6.5" font-weight="bold" text-anchor="end" fill="#000" >6</text>
<text x="199.5" y="204.0" font-size="6.5" font-weight="bold" text-anchor="end" fill="#000" >4</text>
<text x="199.5" y="218.0" font-size="6.5" font-weight="bold" text-anchor="end" fill="#000" >2</text>
<text x="199.5" y="231.9" font-size="6.5" font-weight="bold" text-anchor="end" fill="#000" >0</text>
<text x="199.5" y="245.9" font-size="6.5" font-weight="bold" text-anchor="end" fill="#000" >-2</text>
<text x="330.6" y="240.8" font-size="6.5" font-weight="bold" text-anchor="middle" fill="#000" >0</text>
<text x="302.6" y="240.8" font-size="6.5" font-weight="bold" text-anchor="middle" fill="#000" >10</text>
<text x="274.6" y="240.8" font-size="6.5" font-weight="bold" text-anchor="middle" fill="#000" >20</text>
<text x="246.6" y="240.8" font-size="6.5" font-weight="bold" text-anchor="middle" fill="#000" >30</text>
<text x="218.6" y="240.8" font-size="6.5" font-weight="bold" text-anchor="middle" fill="#000" >40</text>
<text x="268.2" y="251.8" font-size="7.5" font-weight="bold" text-anchor="middle" fill="#000" textLength="68.3" lengthAdjust="spacingAndGlyphs" >Day before outcome</text>
<text transform="translate(188.7,202.2) rotate(-90)" font-size="7.3" font-weight="bold" text-anchor="middle" textLength="40.9" lengthAdjust="spacingAndGlyphs">LDL(mmol/L)</text>
<text x="261.2" y="157.5" font-size="7.3" font-weight="bold" text-anchor="middle" fill="#000" textLength="83.9" lengthAdjust="spacingAndGlyphs" >Low-density Lipoprotein</text>
</g>
<g>
<line x1="370.5" y1="159.6" x2="370.5" y2="243.6" stroke="#000" stroke-width="1.3" />
<line x1="369.9" y1="243.6" x2="498.3" y2="243.6" stroke="#000" stroke-width="1.3" />
<line x1="366.5" y1="159.6" x2="370.5" y2="159.6" stroke="#000" stroke-width="1.2" />
<line x1="366.5" y1="187.7" x2="370.5" y2="187.7" stroke="#000" stroke-width="1.2" />
<line x1="366.5" y1="215.8" x2="370.5" y2="215.8" stroke="#000" stroke-width="1.2" />
<line x1="366.5" y1="243.9" x2="370.5" y2="243.9" stroke="#000" stroke-width="1.2" />
<line x1="497.8" y1="243.6" x2="497.8" y2="247.2" stroke="#000" stroke-width="1.1" />
<line x1="483.7" y1="243.6" x2="483.7" y2="245.8" stroke="#000" stroke-width="1.1" />
<line x1="469.5" y1="243.6" x2="469.5" y2="247.2" stroke="#000" stroke-width="1.1" />
<line x1="455.4" y1="243.6" x2="455.4" y2="245.8" stroke="#000" stroke-width="1.1" />
<line x1="441.2" y1="243.6" x2="441.2" y2="247.2" stroke="#000" stroke-width="1.1" />
<line x1="427.1" y1="243.6" x2="427.1" y2="245.8" stroke="#000" stroke-width="1.1" />
<line x1="412.9" y1="243.6" x2="412.9" y2="247.2" stroke="#000" stroke-width="1.1" />
<line x1="398.8" y1="243.6" x2="398.8" y2="245.8" stroke="#000" stroke-width="1.1" />
<line x1="384.6" y1="243.6" x2="384.6" y2="247.2" stroke="#000" stroke-width="1.1" />
<line x1="370.5" y1="243.6" x2="370.5" y2="245.8" stroke="#000" stroke-width="1.1" />
<path d="M390.3 214.0V224.0M393.1 210.0V222.0M396.0 197.0V213.0M398.8 190.0V204.0M401.6 200.0V224.0M404.4 200.5V217.5M407.3 203.0V229.0M410.1 191.5V222.5M412.9 200.0V230.0M415.8 192.3V229.7M418.6 197.2V228.8M421.4 200.0V224.0M424.2 200.5V227.5M427.1 203.0V229.0M429.9 203.0V225.0M432.7 200.0V226.0M435.6 205.0V221.0M438.4 203.0V227.0M441.2 202.0V226.0M444.0 203.0V229.0M446.9 200.0V228.0M449.7 198.0V226.0M452.5 199.0V227.0M455.4 196.0V226.0M458.2 197.0V227.0M461.0 201.0V227.0M463.9 199.0V227.0M466.7 196.0V226.0M469.5 195.0V225.0M472.3 197.0V229.0M475.2 200.0V228.0M478.0 198.0V226.0M480.8 197.0V225.0M483.7 199.0V227.0M486.5 196.0V224.0M489.3 194.0V224.0M492.1 181.0V233.0M495.0 195.0V223.0" stroke="#FFA36B" stroke-width="0.8" fill="none" opacity="1"/>
<path d="M388.8 214.0h3M388.8 224.0h3M391.6 210.0h3M391.6 222.0h3M394.5 197.0h3M394.5 213.0h3M397.3 190.0h3M397.3 204.0h3M400.1 200.0h3M400.1 224.0h3M402.9 200.5h3M402.9 217.5h3M405.8 203.0h3M405.8 229.0h3M408.6 191.5h3M408.6 222.5h3M411.4 200.0h3M411.4 230.0h3M414.3 192.3h3M414.3 229.7h3M417.1 197.2h3M417.1 228.8h3M419.9 200.0h3M419.9 224.0h3M422.7 200.5h3M422.7 227.5h3M425.6 203.0h3M425.6 229.0h3M428.4 203.0h3M428.4 225.0h3M431.2 200.0h3M431.2 226.0h3M434.1 205.0h3M434.1 221.0h3M436.9 203.0h3M436.9 227.0h3M439.7 202.0h3M439.7 226.0h3M442.5 203.0h3M442.5 229.0h3M445.4 200.0h3M445.4 228.0h3M448.2 198.0h3M448.2 226.0h3M451.0 199.0h3M451.0 227.0h3M453.9 196.0h3M453.9 226.0h3M456.7 197.0h3M456.7 227.0h3M459.5 201.0h3M459.5 227.0h3M462.4 199.0h3M462.4 227.0h3M465.2 196.0h3M465.2 226.0h3M468.0 195.0h3M468.0 225.0h3M470.8 197.0h3M470.8 229.0h3M473.7 200.0h3M473.7 228.0h3M476.5 198.0h3M476.5 226.0h3M479.3 197.0h3M479.3 225.0h3M482.2 199.0h3M482.2 227.0h3M485.0 196.0h3M485.0 224.0h3M487.8 194.0h3M487.8 224.0h3M490.6 181.0h3M490.6 233.0h3M493.5 195.0h3M493.5 223.0h3" stroke="#FF7A2A" stroke-width="1.1" fill="none" opacity="1"/>
<polyline points="390.3,219.0 393.1,216.0 396.0,205.0 398.8,197.0 401.6,212.0 404.4,209.0 407.3,216.0 410.1,207.0 412.9,215.0 415.8,211.0 418.6,213.0 421.4,212.0 424.2,214.0 427.1,216.0 429.9,214.0 432.7,213.0 435.6,213.0 438.4,215.0 441.2,214.0 444.0,216.0 446.9,214.0 449.7,212.0 452.5,213.0 455.4,211.0 458.2,212.0 461.0,214.0 463.9,213.0 466.7,211.0 469.5,210.0 472.3,213.0 475.2,214.0 478.0,212.0 480.8,211.0 483.7,213.0 486.5,210.0 489.3,209.0 492.1,207.0 495.0,209.0" stroke="#FF6600" stroke-width="1.3" fill="none" stroke-linejoin="round"/>
<path d="M390.3 216.9L392.1 220.5L388.5 220.5Z" fill="#FF6600"/>
<path d="M393.1 213.9L394.9 217.5L391.3 217.5Z" fill="#FF6600"/>
<path d="M396.0 202.9L397.8 206.5L394.2 206.5Z" fill="#FF6600"/>
<path d="M398.8 194.9L400.6 198.5L397.0 198.5Z" fill="#FF6600"/>
<path d="M401.6 209.9L403.4 213.5L399.8 213.5Z" fill="#FF6600"/>
<path d="M404.4 206.9L406.2 210.5L402.6 210.5Z" fill="#FF6600"/>
<path d="M407.3 213.9L409.1 217.5L405.5 217.5Z" fill="#FF6600"/>
<path d="M410.1 204.9L411.9 208.5L408.3 208.5Z" fill="#FF6600"/>
<path d="M412.9 212.9L414.7 216.5L411.1 216.5Z" fill="#FF6600"/>
<path d="M415.8 208.9L417.6 212.5L414.0 212.5Z" fill="#FF6600"/>
<path d="M418.6 210.9L420.4 214.5L416.8 214.5Z" fill="#FF6600"/>
<path d="M421.4 209.9L423.2 213.5L419.6 213.5Z" fill="#FF6600"/>
<path d="M424.2 211.9L426.0 215.5L422.4 215.5Z" fill="#FF6600"/>
<path d="M427.1 213.9L428.9 217.5L425.3 217.5Z" fill="#FF6600"/>
<path d="M429.9 211.9L431.7 215.5L428.1 215.5Z" fill="#FF6600"/>
<path d="M432.7 210.9L434.5 214.5L430.9 214.5Z" fill="#FF6600"/>
<path d="M435.6 210.9L437.4 214.5L433.8 214.5Z" fill="#FF6600"/>
<path d="M438.4 212.9L440.2 216.5L436.6 216.5Z" fill="#FF6600"/>
<path d="M441.2 211.9L443.0 215.5L439.4 215.5Z" fill="#FF6600"/>
<path d="M444.0 213.9L445.8 217.5L442.2 217.5Z" fill="#FF6600"/>
<path d="M446.9 211.9L448.7 215.5L445.1 215.5Z" fill="#FF6600"/>
<path d="M449.7 209.9L451.5 213.5L447.9 213.5Z" fill="#FF6600"/>
<path d="M452.5 210.9L454.3 214.5L450.7 214.5Z" fill="#FF6600"/>
<path d="M455.4 208.9L457.2 212.5L453.6 212.5Z" fill="#FF6600"/>
<path d="M458.2 209.9L460.0 213.5L456.4 213.5Z" fill="#FF6600"/>
<path d="M461.0 211.9L462.8 215.5L459.2 215.5Z" fill="#FF6600"/>
<path d="M463.9 210.9L465.7 214.5L462.1 214.5Z" fill="#FF6600"/>
<path d="M466.7 208.9L468.5 212.5L464.9 212.5Z" fill="#FF6600"/>
<path d="M469.5 207.9L471.3 211.5L467.7 211.5Z" fill="#FF6600"/>
<path d="M472.3 210.9L474.1 214.5L470.5 214.5Z" fill="#FF6600"/>
<path d="M475.2 211.9L477.0 215.5L473.4 215.5Z" fill="#FF6600"/>
<path d="M478.0 209.9L479.8 213.5L476.2 213.5Z" fill="#FF6600"/>
<path d="M480.8 208.9L482.6 212.5L479.0 212.5Z" fill="#FF6600"/>
<path d="M483.7 210.9L485.5 214.5L481.9 214.5Z" fill="#FF6600"/>
<path d="M486.5 207.9L488.3 211.5L484.7 211.5Z" fill="#FF6600"/>
<path d="M489.3 206.9L491.1 210.5L487.5 210.5Z" fill="#FF6600"/>
<path d="M492.1 204.9L493.9 208.5L490.3 208.5Z" fill="#FF6600"/>
<path d="M495.0 206.9L496.8 210.5L493.2 210.5Z" fill="#FF6600"/>
<path d="M370.5 205.5V236.9M373.3 208.3V227.5M376.2 212.0V230.4M379.0 209.6V243.6M381.8 209.3V219.1M384.6 210.0V222.0M387.5 214.6V222.8M390.3 217.0V230.4M393.1 204.7V243.6M396.0 198.1V238.3M398.8 191.5V207.9M401.6 210.0V230.8M404.4 195.6V225.2M407.3 205.0V232.4M410.1 193.1V219.5M412.9 210.0V234.0M415.8 190.6V238.6M418.6 200.0V226.6M421.4 196.4V215.6M424.2 200.0V223.2M427.1 194.4V243.6M429.9 200.0V226.6M432.7 205.0V230.8M435.6 205.0V231.4M438.4 204.0V232.0M441.2 205.0V233.0M444.0 203.0V231.0M446.9 200.0V232.0M449.7 204.0V232.0M452.5 198.0V230.0M455.4 202.0V232.0M458.2 205.0V233.0M461.0 207.0V235.0M463.9 205.0V235.0M466.7 203.0V233.0M469.5 198.0V234.0M472.3 204.0V234.0M475.2 200.0V234.0M478.0 206.0V236.0M480.8 206.0V238.0M483.7 202.0V234.0M486.5 204.0V234.0M489.3 205.0V235.0M492.1 199.0V233.0M495.0 206.0V232.0" stroke="#8CF98C" stroke-width="0.8" fill="none" opacity="1"/>
<path d="M369.0 205.5h3M369.0 236.9h3M371.8 208.3h3M371.8 227.5h3M374.7 212.0h3M374.7 230.4h3M377.5 209.6h3M380.3 209.3h3M380.3 219.1h3M383.1 210.0h3M383.1 222.0h3M386.0 214.6h3M386.0 222.8h3M388.8 217.0h3M388.8 230.4h3M391.6 204.7h3M394.5 198.1h3M394.5 238.3h3M397.3 191.5h3M397.3 207.9h3M400.1 210.0h3M400.1 230.8h3M402.9 195.6h3M402.9 225.2h3M405.8 205.0h3M405.8 232.4h3M408.6 193.1h3M408.6 219.5h3M411.4 210.0h3M411.4 234.0h3M414.3 190.6h3M414.3 238.6h3M417.1 200.0h3M417.1 226.6h3M419.9 196.4h3M419.9 215.6h3M422.7 200.0h3M422.7 223.2h3M425.6 194.4h3M428.4 200.0h3M428.4 226.6h3M431.2 205.0h3M431.2 230.8h3M434.1 205.0h3M434.1 231.4h3M436.9 204.0h3M436.9 232.0h3M439.7 205.0h3M439.7 233.0h3M442.5 203.0h3M442.5 231.0h3M445.4 200.0h3M445.4 232.0h3M448.2 204.0h3M448.2 232.0h3M451.0 198.0h3M451.0 230.0h3M453.9 202.0h3M453.9 232.0h3M456.7 205.0h3M456.7 233.0h3M459.5 207.0h3M459.5 235.0h3M462.4 205.0h3M462.4 235.0h3M465.2 203.0h3M465.2 233.0h3M468.0 198.0h3M468.0 234.0h3M470.8 204.0h3M470.8 234.0h3M473.7 200.0h3M473.7 234.0h3M476.5 206.0h3M476.5 236.0h3M479.3 206.0h3M479.3 238.0h3M482.2 202.0h3M482.2 234.0h3M485.0 204.0h3M485.0 234.0h3M487.8 205.0h3M487.8 235.0h3M490.6 199.0h3M490.6 233.0h3M493.5 206.0h3M493.5 232.0h3" stroke="#8CF98C" stroke-width="0.8" fill="none" opacity="1"/>
<polyline points="370.5,221.2 373.3,217.9 376.2,221.2 379.0,227.8 381.8,214.2 384.6,216.0 387.5,218.7 390.3,223.7 393.1,227.8 396.0,218.2 398.8,199.7 401.6,220.4 404.4,210.4 407.3,218.7 410.1,206.3 412.9,222.0 415.8,214.6 418.6,213.3 421.4,206.0 424.2,211.6 427.1,219.2 429.9,213.3 432.7,217.9 435.6,218.2 438.4,218.0 441.2,219.0 444.0,217.0 446.9,216.0 449.7,218.0 452.5,214.0 455.4,217.0 458.2,219.0 461.0,221.0 463.9,220.0 466.7,218.0 469.5,216.0 472.3,219.0 475.2,217.0 478.0,221.0 480.8,222.0 483.7,218.0 486.5,219.0 489.3,220.0 492.1,216.0 495.0,219.0" stroke="#8CF98C" stroke-width="1.4" fill="none" stroke-linejoin="round"/>
<rect x="368.6" y="219.3" width="3.7" height="3.7" fill="#8CF98C"/>
<rect x="371.5" y="216.1" width="3.7" height="3.7" fill="#8CF98C"/>
<rect x="374.3" y="219.3" width="3.7" height="3.7" fill="#8CF98C"/>
<rect x="377.1" y="226.0" width="3.7" height="3.7" fill="#8CF98C"/>
<rect x="380.0" y="212.3" width="3.7" height="3.7" fill="#8CF98C"/>
<rect x="382.8" y="214.2" width="3.7" height="3.7" fill="#8CF98C"/>
<rect x="385.6" y="216.8" width="3.7" height="3.7" fill="#8CF98C"/>
<rect x="388.4" y="221.8" width="3.7" height="3.7" fill="#8CF98C"/>
<rect x="391.3" y="226.0" width="3.7" height="3.7" fill="#8CF98C"/>
<rect x="394.1" y="216.3" width="3.7" height="3.7" fill="#8CF98C"/>
<rect x="396.9" y="197.8" width="3.7" height="3.7" fill="#8CF98C"/>
<rect x="399.8" y="218.6" width="3.7" height="3.7" fill="#8CF98C"/>
<rect x="402.6" y="208.6" width="3.7" height="3.7" fill="#8CF98C"/>
<rect x="405.4" y="216.8" width="3.7" height="3.7" fill="#8CF98C"/>
<rect x="408.3" y="204.5" width="3.7" height="3.7" fill="#8CF98C"/>
<rect x="411.1" y="220.2" width="3.7" height="3.7" fill="#8CF98C"/>
<rect x="413.9" y="212.8" width="3.7" height="3.7" fill="#8CF98C"/>
<rect x="416.7" y="211.5" width="3.7" height="3.7" fill="#8CF98C"/>
<rect x="419.6" y="204.2" width="3.7" height="3.7" fill="#8CF98C"/>
<rect x="422.4" y="209.8" width="3.7" height="3.7" fill="#8CF98C"/>
<rect x="425.2" y="217.3" width="3.7" height="3.7" fill="#8CF98C"/>
<rect x="428.1" y="211.5" width="3.7" height="3.7" fill="#8CF98C"/>
<rect x="430.9" y="216.1" width="3.7" height="3.7" fill="#8CF98C"/>
<rect x="433.7" y="216.3" width="3.7" height="3.7" fill="#8CF98C"/>
<rect x="436.5" y="216.2" width="3.7" height="3.7" fill="#8CF98C"/>
<rect x="439.4" y="217.2" width="3.7" height="3.7" fill="#8CF98C"/>
<rect x="442.2" y="215.2" width="3.7" height="3.7" fill="#8CF98C"/>
<rect x="445.0" y="214.2" width="3.7" height="3.7" fill="#8CF98C"/>
<rect x="447.9" y="216.2" width="3.7" height="3.7" fill="#8CF98C"/>
<rect x="450.7" y="212.2" width="3.7" height="3.7" fill="#8CF98C"/>
<rect x="453.5" y="215.2" width="3.7" height="3.7" fill="#8CF98C"/>
<rect x="456.3" y="217.2" width="3.7" height="3.7" fill="#8CF98C"/>
<rect x="459.2" y="219.2" width="3.7" height="3.7" fill="#8CF98C"/>
<rect x="462.0" y="218.2" width="3.7" height="3.7" fill="#8CF98C"/>
<rect x="464.8" y="216.2" width="3.7" height="3.7" fill="#8CF98C"/>
<rect x="467.7" y="214.2" width="3.7" height="3.7" fill="#8CF98C"/>
<rect x="470.5" y="217.2" width="3.7" height="3.7" fill="#8CF98C"/>
<rect x="473.3" y="215.2" width="3.7" height="3.7" fill="#8CF98C"/>
<rect x="476.1" y="219.2" width="3.7" height="3.7" fill="#8CF98C"/>
<rect x="479.0" y="220.2" width="3.7" height="3.7" fill="#8CF98C"/>
<rect x="481.8" y="216.2" width="3.7" height="3.7" fill="#8CF98C"/>
<rect x="484.6" y="217.2" width="3.7" height="3.7" fill="#8CF98C"/>
<rect x="487.5" y="218.2" width="3.7" height="3.7" fill="#8CF98C"/>
<rect x="490.3" y="214.2" width="3.7" height="3.7" fill="#8CF98C"/>
<rect x="493.1" y="217.2" width="3.7" height="3.7" fill="#8CF98C"/>
<path d="M441.2 215.0V229.2M444.0 205.0V224.6M446.9 190.7V234.7M449.7 208.0V230.0M452.5 198.0V219.0M455.4 194.9V214.5M458.2 193.0V213.6M461.0 208.5V225.3M463.9 212.0V235.0M466.7 208.0V233.2M469.5 189.3V208.9M472.3 193.0V216.4M475.2 177.2V224.0M478.0 194.9V214.5M480.8 187.6V230.2M483.7 193.9V209.7M486.5 200.0V228.8M489.3 185.9V226.1M492.1 180.3V216.7M495.0 159.6V220.0" stroke="#008000" stroke-width="0.9" fill="none" opacity="0.75"/>
<path d="M439.7 215.0h3M439.7 229.2h3M442.5 205.0h3M442.5 224.6h3M445.4 190.7h3M445.4 234.7h3M448.2 208.0h3M448.2 230.0h3M451.0 198.0h3M451.0 219.0h3M453.9 194.9h3M453.9 214.5h3M456.7 193.0h3M456.7 213.6h3M459.5 208.5h3M459.5 225.3h3M462.4 212.0h3M462.4 235.0h3M465.2 208.0h3M465.2 233.2h3M468.0 189.3h3M468.0 208.9h3M470.8 193.0h3M470.8 216.4h3M473.7 177.2h3M473.7 224.0h3M476.5 194.9h3M476.5 214.5h3M479.3 187.6h3M479.3 230.2h3M482.2 193.9h3M482.2 209.7h3M485.0 200.0h3M485.0 228.8h3M487.8 185.9h3M487.8 226.1h3M490.6 180.3h3M490.6 216.7h3M493.5 220.0h3" stroke="#008000" stroke-width="0.9" fill="none" opacity="0.75"/>
<polyline points="441.2,222.1 444.0,214.8 446.9,212.7 449.7,219.0 452.5,208.5 455.4,204.7 458.2,203.3 461.0,216.9 463.9,223.5 466.7,220.6 469.5,199.1 472.3,204.7 475.2,200.6 478.0,204.7 480.8,208.9 483.7,201.8 486.5,214.4 489.3,206.0 492.1,198.5 495.0,189.7" stroke="#008000" stroke-width="1.2" fill="none" stroke-linejoin="round"/>
<circle cx="441.2" cy="222.1" r="1.9" fill="#008000"/>
<circle cx="444.0" cy="214.8" r="1.9" fill="#008000"/>
<circle cx="446.9" cy="212.7" r="1.9" fill="#008000"/>
<circle cx="449.7" cy="219.0" r="1.9" fill="#008000"/>
<circle cx="452.5" cy="208.5" r="1.9" fill="#008000"/>
<circle cx="455.4" cy="204.7" r="1.9" fill="#008000"/>
<circle cx="458.2" cy="203.3" r="1.9" fill="#008000"/>
<circle cx="461.0" cy="216.9" r="1.9" fill="#008000"/>
<circle cx="463.9" cy="223.5" r="1.9" fill="#008000"/>
<circle cx="466.7" cy="220.6" r="1.9" fill="#008000"/>
<circle cx="469.5" cy="199.1" r="1.9" fill="#008000"/>
<circle cx="472.3" cy="204.7" r="1.9" fill="#008000"/>
<circle cx="475.2" cy="200.6" r="1.9" fill="#008000"/>
<circle cx="478.0" cy="204.7" r="1.9" fill="#008000"/>
<circle cx="480.8" cy="208.9" r="1.9" fill="#008000"/>
<circle cx="483.7" cy="201.8" r="1.9" fill="#008000"/>
<circle cx="486.5" cy="214.4" r="1.9" fill="#008000"/>
<circle cx="489.3" cy="206.0" r="1.9" fill="#008000"/>
<circle cx="492.1" cy="198.5" r="1.9" fill="#008000"/>
<circle cx="495.0" cy="189.7" r="1.9" fill="#008000"/>
<line x1="370.5" y1="226.4" x2="497.8" y2="226.4" stroke="#000" stroke-width="1.1" stroke-dasharray="2.9 2.1"/>
<line x1="370.5" y1="238.9" x2="497.8" y2="238.9" stroke="#000" stroke-width="1.1" stroke-dasharray="2.9 2.1"/>
<text x="498.9" y="226.8" font-size="6.1" font-weight="normal" text-anchor="start" fill="#111" stroke="#111" stroke-width="0.2">6.11</text>
<text x="498.7" y="240.2" font-size="6.1" font-weight="normal" text-anchor="start" fill="#111" stroke="#111" stroke-width="0.2">3.89</text>
<text x="365.7" y="161.9" font-size="6.5" font-weight="bold" text-anchor="end" fill="#000" >18</text>
<text x="365.7" y="190.0" font-size="6.5" font-weight="bold" text-anchor="end" fill="#000" >13</text>
<text x="365.7" y="218.1" font-size="6.5" font-weight="bold" text-anchor="end" fill="#000" >8</text>
<text x="365.7" y="246.2" font-size="6.5" font-weight="bold" text-anchor="end" fill="#000" >3</text>
<text x="497.8" y="254.8" font-size="6.5" font-weight="bold" text-anchor="middle" fill="#000" >0</text>
<text x="469.5" y="254.8" font-size="6.5" font-weight="bold" text-anchor="middle" fill="#000" >10</text>
<text x="441.2" y="254.8" font-size="6.5" font-weight="bold" text-anchor="middle" fill="#000" >20</text>
<text x="412.9" y="254.8" font-size="6.5" font-weight="bold" text-anchor="middle" fill="#000" >30</text>
<text x="384.6" y="254.8" font-size="6.5" font-weight="bold" text-anchor="middle" fill="#000" >40</text>
<text x="434.4" y="265.2" font-size="7.5" font-weight="bold" text-anchor="middle" fill="#000" textLength="68.3" lengthAdjust="spacingAndGlyphs" >Day before outcome</text>
<text transform="translate(354.7,199.9) rotate(-90)" font-size="7.3" font-weight="bold" text-anchor="middle" textLength="43.3" lengthAdjust="spacingAndGlyphs">GLU(mmol/L)</text>
<text x="430.9" y="155.9" font-size="7.3" font-weight="bold" text-anchor="middle" fill="#000" >Glucose</text>
</g>
<g>
<line x1="543.0" y1="159.6" x2="543.0" y2="200.3" stroke="#000" stroke-width="1.3" />
<line x1="543.0" y1="205.0" x2="543.0" y2="245.0" stroke="#000" stroke-width="1.3" />
<line x1="540.8" y1="202.5" x2="545.2" y2="198.1" stroke="#000" stroke-width="1.1" />
<line x1="540.8" y1="207.2" x2="545.2" y2="202.8" stroke="#000" stroke-width="1.1" />
<line x1="542.4" y1="245.0" x2="669.6" y2="245.0" stroke="#000" stroke-width="1.3" />
<line x1="539.0" y1="159.6" x2="543.0" y2="159.6" stroke="#000" stroke-width="1.2" />
<line x1="539.0" y1="179.3" x2="543.0" y2="179.3" stroke="#000" stroke-width="1.2" />
<line x1="539.0" y1="199.0" x2="543.0" y2="199.0" stroke="#000" stroke-width="1.2" />
<line x1="539.0" y1="209.2" x2="543.0" y2="209.2" stroke="#000" stroke-width="1.2" />
<line x1="539.0" y1="219.3" x2="543.0" y2="219.3" stroke="#000" stroke-width="1.2" />
<line x1="539.0" y1="229.4" x2="543.0" y2="229.4" stroke="#000" stroke-width="1.2" />
<line x1="539.0" y1="239.5" x2="543.0" y2="239.5" stroke="#000" stroke-width="1.2" />
<line x1="669.1" y1="245.0" x2="669.1" y2="248.6" stroke="#000" stroke-width="1.1" />
<line x1="655.1" y1="245.0" x2="655.1" y2="247.2" stroke="#000" stroke-width="1.1" />
<line x1="641.1" y1="245.0" x2="641.1" y2="248.6" stroke="#000" stroke-width="1.1" />
<line x1="627.1" y1="245.0" x2="627.1" y2="247.2" stroke="#000" stroke-width="1.1" />
<line x1="613.1" y1="245.0" x2="613.1" y2="248.6" stroke="#000" stroke-width="1.1" />
<line x1="599.1" y1="245.0" x2="599.1" y2="247.2" stroke="#000" stroke-width="1.1" />
<line x1="585.0" y1="245.0" x2="585.0" y2="248.6" stroke="#000" stroke-width="1.1" />
<line x1="571.0" y1="245.0" x2="571.0" y2="247.2" stroke="#000" stroke-width="1.1" />
<line x1="557.0" y1="245.0" x2="557.0" y2="248.6" stroke="#000" stroke-width="1.1" />
<line x1="543.0" y1="245.0" x2="543.0" y2="247.2" stroke="#000" stroke-width="1.1" />
<path d="M562.6 221.5V235.7M565.4 224.5V234.1M568.2 221.5V233.5M571.0 220.7V231.5M573.8 222.4V231.0M576.6 219.9V232.5M579.4 221.9V231.1M582.2 220.8V234.4M585.0 221.0V231.6M587.8 221.4V235.0M590.6 222.6V236.0M593.4 221.9V232.3M596.2 220.7V234.1M599.1 225.5V234.1M601.9 222.1V231.3M604.7 221.5V232.3M607.5 223.6V233.2M610.3 220.8V231.2M613.1 219.3V231.7M615.9 220.8V234.2M618.7 219.3V232.3M621.5 221.8V230.6M624.3 219.8V233.8M627.1 219.5V233.7M629.9 219.1V230.3M632.7 217.0V230.0M635.5 218.8V227.6M638.3 218.8V228.4M641.1 219.5V228.3M643.9 217.8V227.4M646.7 217.3V228.3M649.5 215.0V229.6M652.3 219.6V229.0M655.1 217.4V228.4M657.9 218.5V227.7M660.7 216.9V232.5M663.5 217.2V229.2M666.3 217.1V226.3" stroke="#FFA36B" stroke-width="0.8" fill="none" opacity="1"/>
<path d="M561.1 221.5h3M561.1 235.7h3M563.9 224.5h3M563.9 234.1h3M566.7 221.5h3M566.7 233.5h3M569.5 220.7h3M569.5 231.5h3M572.3 222.4h3M572.3 231.0h3M575.1 219.9h3M575.1 232.5h3M577.9 221.9h3M577.9 231.1h3M580.7 220.8h3M580.7 234.4h3M583.5 221.0h3M583.5 231.6h3M586.3 221.4h3M586.3 235.0h3M589.1 222.6h3M589.1 236.0h3M591.9 221.9h3M591.9 232.3h3M594.7 220.7h3M594.7 234.1h3M597.6 225.5h3M597.6 234.1h3M600.4 222.1h3M600.4 231.3h3M603.2 221.5h3M603.2 232.3h3M606.0 223.6h3M606.0 233.2h3M608.8 220.8h3M608.8 231.2h3M611.6 219.3h3M611.6 231.7h3M614.4 220.8h3M614.4 234.2h3M617.2 219.3h3M617.2 232.3h3M620.0 221.8h3M620.0 230.6h3M622.8 219.8h3M622.8 233.8h3M625.6 219.5h3M625.6 233.7h3M628.4 219.1h3M628.4 230.3h3M631.2 217.0h3M631.2 230.0h3M634.0 218.8h3M634.0 227.6h3M636.8 218.8h3M636.8 228.4h3M639.6 219.5h3M639.6 228.3h3M642.4 217.8h3M642.4 227.4h3M645.2 217.3h3M645.2 228.3h3M648.0 215.0h3M648.0 229.6h3M650.8 219.6h3M650.8 229.0h3M653.6 217.4h3M653.6 228.4h3M656.4 218.5h3M656.4 227.7h3M659.2 216.9h3M659.2 232.5h3M662.0 217.2h3M662.0 229.2h3M664.8 217.1h3M664.8 226.3h3" stroke="#FF7A2A" stroke-width="1.1" fill="none" opacity="1"/>
<polyline points="562.6,228.6 565.4,229.3 568.2,227.5 571.0,226.1 573.8,226.7 576.6,226.2 579.4,226.5 582.2,227.6 585.0,226.3 587.8,228.2 590.6,229.3 593.4,227.1 596.2,227.4 599.1,229.8 601.9,226.7 604.7,226.9 607.5,228.4 610.3,226.0 613.1,225.5 615.9,227.5 618.7,225.8 621.5,226.2 624.3,226.8 627.1,226.6 629.9,224.7 632.7,223.5 635.5,223.2 638.3,223.6 641.1,223.9 643.9,222.6 646.7,222.8 649.5,222.3 652.3,224.3 655.1,222.9 657.9,223.1 660.7,224.7 663.5,223.2 666.3,221.7" stroke="#FF6600" stroke-width="1.3" fill="none" stroke-linejoin="round"/>
<path d="M562.6 226.5L564.4 230.1L560.8 230.1Z" fill="#FF6600"/>
<path d="M565.4 227.2L567.2 230.8L563.6 230.8Z" fill="#FF6600"/>
<path d="M568.2 225.4L570.0 229.0L566.4 229.0Z" fill="#FF6600"/>
<path d="M571.0 224.0L572.8 227.6L569.2 227.6Z" fill="#FF6600"/>
<path d="M573.8 224.6L575.6 228.2L572.0 228.2Z" fill="#FF6600"/>
<path d="M576.6 224.1L578.4 227.7L574.8 227.7Z" fill="#FF6600"/>
<path d="M579.4 224.4L581.2 228.0L577.6 228.0Z" fill="#FF6600"/>
<path d="M582.2 225.5L584.0 229.1L580.4 229.1Z" fill="#FF6600"/>
<path d="M585.0 224.2L586.8 227.8L583.2 227.8Z" fill="#FF6600"/>
<path d="M587.8 226.1L589.6 229.7L586.0 229.7Z" fill="#FF6600"/>
<path d="M590.6 227.2L592.4 230.8L588.8 230.8Z" fill="#FF6600"/>
<path d="M593.4 225.0L595.2 228.6L591.6 228.6Z" fill="#FF6600"/>
<path d="M596.2 225.3L598.0 228.9L594.4 228.9Z" fill="#FF6600"/>
<path d="M599.1 227.7L600.9 231.3L597.3 231.3Z" fill="#FF6600"/>
<path d="M601.9 224.6L603.7 228.2L600.1 228.2Z" fill="#FF6600"/>
<path d="M604.7 224.8L606.5 228.4L602.9 228.4Z" fill="#FF6600"/>
<path d="M607.5 226.3L609.3 229.9L605.7 229.9Z" fill="#FF6600"/>
<path d="M610.3 223.9L612.1 227.5L608.5 227.5Z" fill="#FF6600"/>
<path d="M613.1 223.4L614.9 227.0L611.3 227.0Z" fill="#FF6600"/>
<path d="M615.9 225.4L617.7 229.0L614.1 229.0Z" fill="#FF6600"/>
<path d="M618.7 223.7L620.5 227.3L616.9 227.3Z" fill="#FF6600"/>
<path d="M621.5 224.1L623.3 227.7L619.7 227.7Z" fill="#FF6600"/>
<path d="M624.3 224.7L626.1 228.3L622.5 228.3Z" fill="#FF6600"/>
<path d="M627.1 224.5L628.9 228.1L625.3 228.1Z" fill="#FF6600"/>
<path d="M629.9 222.6L631.7 226.2L628.1 226.2Z" fill="#FF6600"/>
<path d="M632.7 221.4L634.5 225.0L630.9 225.0Z" fill="#FF6600"/>
<path d="M635.5 221.1L637.3 224.7L633.7 224.7Z" fill="#FF6600"/>
<path d="M638.3 221.5L640.1 225.1L636.5 225.1Z" fill="#FF6600"/>
<path d="M641.1 221.8L642.9 225.4L639.3 225.4Z" fill="#FF6600"/>
<path d="M643.9 220.5L645.7 224.1L642.1 224.1Z" fill="#FF6600"/>
<path d="M646.7 220.7L648.5 224.3L644.9 224.3Z" fill="#FF6600"/>
<path d="M649.5 220.2L651.3 223.8L647.7 223.8Z" fill="#FF6600"/>
<path d="M652.3 222.2L654.1 225.8L650.5 225.8Z" fill="#FF6600"/>
<path d="M655.1 220.8L656.9 224.4L653.3 224.4Z" fill="#FF6600"/>
<path d="M657.9 221.0L659.7 224.6L656.1 224.6Z" fill="#FF6600"/>
<path d="M660.7 222.6L662.5 226.2L658.9 226.2Z" fill="#FF6600"/>
<path d="M663.5 221.1L665.3 224.7L661.7 224.7Z" fill="#FF6600"/>
<path d="M666.3 219.6L668.1 223.2L664.5 223.2Z" fill="#FF6600"/>
<path d="M543.0 229.0V238.0M545.8 223.0V230.8M548.6 223.0V231.4M551.4 226.0V234.6M554.2 219.3V232.9M557.0 222.0V230.8M559.8 223.0V231.4M562.6 228.0V236.0M565.4 222.0V230.2M568.2 223.2V230.4M571.0 224.8V231.4M573.8 223.5V231.7M576.6 221.2V230.2M579.4 221.3V229.9M582.2 222.4V229.2M585.0 221.8V232.6M587.8 222.2V229.8M590.6 222.3V233.7M593.4 223.6V232.0M596.2 226.1V232.7M599.1 225.0V232.8M601.9 222.6V229.6M604.7 221.4V232.0M607.5 221.5V230.9M610.3 223.9V232.3M613.1 221.7V230.7M615.9 219.3V229.1M618.7 220.5V231.9M621.5 218.4V231.0M624.3 219.8V230.2M627.1 219.3V232.9M629.9 217.6V230.2M632.7 217.3V232.1M635.5 220.0V230.4M638.3 221.3V230.5M641.1 216.8V230.6M643.9 211.6V233.4M646.7 209.8V234.0M649.5 212.9V235.9M652.3 214.8V234.4M655.1 212.1V235.3M657.9 212.4V233.8M660.7 209.9V237.7M663.5 210.2V234.4M666.3 208.3V232.9" stroke="#8CF98C" stroke-width="0.8" fill="none" opacity="1"/>
<path d="M541.5 229.0h3M541.5 238.0h3M544.3 223.0h3M544.3 230.8h3M547.1 223.0h3M547.1 231.4h3M549.9 226.0h3M549.9 234.6h3M552.7 219.3h3M552.7 232.9h3M555.5 222.0h3M555.5 230.8h3M558.3 223.0h3M558.3 231.4h3M561.1 228.0h3M561.1 236.0h3M563.9 222.0h3M563.9 230.2h3M566.7 223.2h3M566.7 230.4h3M569.5 224.8h3M569.5 231.4h3M572.3 223.5h3M572.3 231.7h3M575.1 221.2h3M575.1 230.2h3M577.9 221.3h3M577.9 229.9h3M580.7 222.4h3M580.7 229.2h3M583.5 221.8h3M583.5 232.6h3M586.3 222.2h3M586.3 229.8h3M589.1 222.3h3M589.1 233.7h3M591.9 223.6h3M591.9 232.0h3M594.7 226.1h3M594.7 232.7h3M597.6 225.0h3M597.6 232.8h3M600.4 222.6h3M600.4 229.6h3M603.2 221.4h3M603.2 232.0h3M606.0 221.5h3M606.0 230.9h3M608.8 223.9h3M608.8 232.3h3M611.6 221.7h3M611.6 230.7h3M614.4 219.3h3M614.4 229.1h3M617.2 220.5h3M617.2 231.9h3M620.0 218.4h3M620.0 231.0h3M622.8 219.8h3M622.8 230.2h3M625.6 219.3h3M625.6 232.9h3M628.4 217.6h3M628.4 230.2h3M631.2 217.3h3M631.2 232.1h3M634.0 220.0h3M634.0 230.4h3M636.8 221.3h3M636.8 230.5h3M639.6 216.8h3M639.6 230.6h3M642.4 211.6h3M642.4 233.4h3M645.2 209.8h3M645.2 234.0h3M648.0 212.9h3M648.0 235.9h3M650.8 214.8h3M650.8 234.4h3M653.6 212.1h3M653.6 235.3h3M656.4 212.4h3M656.4 233.8h3M659.2 209.9h3M659.2 237.7h3M662.0 210.2h3M662.0 234.4h3M664.8 208.3h3M664.8 232.9h3" stroke="#8CF98C" stroke-width="0.8" fill="none" opacity="1"/>
<polyline points="543.0,233.5 545.8,226.9 548.6,227.2 551.4,230.3 554.2,226.1 557.0,226.4 559.8,227.2 562.6,232.0 565.4,226.1 568.2,226.8 571.0,228.1 573.8,227.6 576.6,225.7 579.4,225.6 582.2,225.8 585.0,227.2 587.8,226.0 590.6,228.0 593.4,227.8 596.2,229.4 599.1,228.9 601.9,226.1 604.7,226.7 607.5,226.2 610.3,228.1 613.1,226.2 615.9,224.2 618.7,226.2 621.5,224.7 624.3,225.0 627.1,226.1 629.9,223.9 632.7,224.7 635.5,225.2 638.3,225.9 641.1,223.7 643.9,222.5 646.7,221.9 649.5,224.4 652.3,224.6 655.1,223.7 657.9,223.1 660.7,223.8 663.5,222.3 666.3,220.6" stroke="#8CF98C" stroke-width="1.4" fill="none" stroke-linejoin="round"/>
<rect x="541.2" y="231.7" width="3.7" height="3.7" fill="#8CF98C"/>
<rect x="544.0" y="225.1" width="3.7" height="3.7" fill="#8CF98C"/>
<rect x="546.8" y="225.3" width="3.7" height="3.7" fill="#8CF98C"/>
<rect x="549.6" y="228.5" width="3.7" height="3.7" fill="#8CF98C"/>
<rect x="552.4" y="224.2" width="3.7" height="3.7" fill="#8CF98C"/>
<rect x="555.2" y="224.6" width="3.7" height="3.7" fill="#8CF98C"/>
<rect x="558.0" y="225.3" width="3.7" height="3.7" fill="#8CF98C"/>
<rect x="560.8" y="230.2" width="3.7" height="3.7" fill="#8CF98C"/>
<rect x="563.6" y="224.2" width="3.7" height="3.7" fill="#8CF98C"/>
<rect x="566.4" y="225.0" width="3.7" height="3.7" fill="#8CF98C"/>
<rect x="569.2" y="226.2" width="3.7" height="3.7" fill="#8CF98C"/>
<rect x="572.0" y="225.8" width="3.7" height="3.7" fill="#8CF98C"/>
<rect x="574.8" y="223.8" width="3.7" height="3.7" fill="#8CF98C"/>
<rect x="577.6" y="223.8" width="3.7" height="3.7" fill="#8CF98C"/>
<rect x="580.4" y="224.0" width="3.7" height="3.7" fill="#8CF98C"/>
<rect x="583.2" y="225.3" width="3.7" height="3.7" fill="#8CF98C"/>
<rect x="586.0" y="224.2" width="3.7" height="3.7" fill="#8CF98C"/>
<rect x="588.8" y="226.2" width="3.7" height="3.7" fill="#8CF98C"/>
<rect x="591.6" y="226.0" width="3.7" height="3.7" fill="#8CF98C"/>
<rect x="594.4" y="227.6" width="3.7" height="3.7" fill="#8CF98C"/>
<rect x="597.2" y="227.1" width="3.7" height="3.7" fill="#8CF98C"/>
<rect x="600.0" y="224.2" width="3.7" height="3.7" fill="#8CF98C"/>
<rect x="602.8" y="224.8" width="3.7" height="3.7" fill="#8CF98C"/>
<rect x="605.6" y="224.3" width="3.7" height="3.7" fill="#8CF98C"/>
<rect x="608.4" y="226.2" width="3.7" height="3.7" fill="#8CF98C"/>
<rect x="611.2" y="224.3" width="3.7" height="3.7" fill="#8CF98C"/>
<rect x="614.0" y="222.3" width="3.7" height="3.7" fill="#8CF98C"/>
<rect x="616.8" y="224.3" width="3.7" height="3.7" fill="#8CF98C"/>
<rect x="619.6" y="222.8" width="3.7" height="3.7" fill="#8CF98C"/>
<rect x="622.4" y="223.2" width="3.7" height="3.7" fill="#8CF98C"/>
<rect x="625.2" y="224.2" width="3.7" height="3.7" fill="#8CF98C"/>
<rect x="628.0" y="222.1" width="3.7" height="3.7" fill="#8CF98C"/>
<rect x="630.8" y="222.8" width="3.7" height="3.7" fill="#8CF98C"/>
<rect x="633.6" y="223.3" width="3.7" height="3.7" fill="#8CF98C"/>
<rect x="636.4" y="224.1" width="3.7" height="3.7" fill="#8CF98C"/>
<rect x="639.2" y="221.8" width="3.7" height="3.7" fill="#8CF98C"/>
<rect x="642.0" y="220.7" width="3.7" height="3.7" fill="#8CF98C"/>
<rect x="644.8" y="220.1" width="3.7" height="3.7" fill="#8CF98C"/>
<rect x="647.6" y="222.6" width="3.7" height="3.7" fill="#8CF98C"/>
<rect x="650.4" y="222.8" width="3.7" height="3.7" fill="#8CF98C"/>
<rect x="653.2" y="221.8" width="3.7" height="3.7" fill="#8CF98C"/>
<rect x="656.0" y="221.2" width="3.7" height="3.7" fill="#8CF98C"/>
<rect x="658.8" y="222.0" width="3.7" height="3.7" fill="#8CF98C"/>
<rect x="661.6" y="220.5" width="3.7" height="3.7" fill="#8CF98C"/>
<rect x="664.4" y="218.8" width="3.7" height="3.7" fill="#8CF98C"/>
<path d="M613.1 228.0V238.8M618.7 226.0V236.0M621.5 205.4V243.8M624.3 225.0V235.6M627.1 219.3V236.3M629.9 227.0V238.8M632.7 218.0V233.0M635.5 215.4V230.0M638.3 209.7V244.7M641.1 218.0V232.6M643.9 212.5V235.1M646.7 212.5V228.3M649.5 218.0V234.8M652.3 215.0V231.0M655.1 216.0V233.2M657.9 210.0V228.0M660.7 214.0V232.6M663.5 206.3V234.5M666.3 206.3V242.5" stroke="#008000" stroke-width="0.9" fill="none" opacity="0.75"/>
<path d="M611.6 228.0h3M611.6 238.8h3M617.2 226.0h3M617.2 236.0h3M620.0 205.4h3M620.0 243.8h3M622.8 225.0h3M622.8 235.6h3M625.6 219.3h3M625.6 236.3h3M628.4 227.0h3M628.4 238.8h3M631.2 218.0h3M631.2 233.0h3M634.0 215.4h3M634.0 230.0h3M636.8 209.7h3M636.8 244.7h3M639.6 218.0h3M639.6 232.6h3M642.4 212.5h3M642.4 235.1h3M645.2 212.5h3M645.2 228.3h3M648.0 218.0h3M648.0 234.8h3M650.8 215.0h3M650.8 231.0h3M653.6 216.0h3M653.6 233.2h3M656.4 210.0h3M656.4 228.0h3M659.2 214.0h3M659.2 232.6h3M662.0 206.3h3M662.0 234.5h3M664.8 206.3h3M664.8 242.5h3" stroke="#008000" stroke-width="0.9" fill="none" opacity="0.75"/>
<polyline points="613.1,233.4 618.7,231.0 621.5,224.6 624.3,230.3 627.1,227.8 629.9,232.9 632.7,225.5 635.5,222.7 638.3,227.2 641.1,225.3 643.9,223.8 646.7,220.4 649.5,226.4 652.3,223.0 655.1,224.6 657.9,219.0 660.7,223.3 663.5,220.4 666.3,224.4" stroke="#008000" stroke-width="1.2" fill="none" stroke-linejoin="round"/>
<circle cx="613.1" cy="233.4" r="1.9" fill="#008000"/>
<circle cx="618.7" cy="231.0" r="1.9" fill="#008000"/>
<circle cx="621.5" cy="224.6" r="1.9" fill="#008000"/>
<circle cx="624.3" cy="230.3" r="1.9" fill="#008000"/>
<circle cx="627.1" cy="227.8" r="1.9" fill="#008000"/>
<circle cx="629.9" cy="232.9" r="1.9" fill="#008000"/>
<circle cx="632.7" cy="225.5" r="1.9" fill="#008000"/>
<circle cx="635.5" cy="222.7" r="1.9" fill="#008000"/>
<circle cx="638.3" cy="227.2" r="1.9" fill="#008000"/>
<circle cx="641.1" cy="225.3" r="1.9" fill="#008000"/>
<circle cx="643.9" cy="223.8" r="1.9" fill="#008000"/>
<circle cx="646.7" cy="220.4" r="1.9" fill="#008000"/>
<circle cx="649.5" cy="226.4" r="1.9" fill="#008000"/>
<circle cx="652.3" cy="223.0" r="1.9" fill="#008000"/>
<circle cx="655.1" cy="224.6" r="1.9" fill="#008000"/>
<circle cx="657.9" cy="219.0" r="1.9" fill="#008000"/>
<circle cx="660.7" cy="223.3" r="1.9" fill="#008000"/>
<circle cx="663.5" cy="220.4" r="1.9" fill="#008000"/>
<circle cx="666.3" cy="224.4" r="1.9" fill="#008000"/>
<line x1="543.0" y1="229.4" x2="669.1" y2="229.4" stroke="#000" stroke-width="1.1" stroke-dasharray="2.9 2.1"/>
<line x1="543.0" y1="239.5" x2="669.1" y2="239.5" stroke="#000" stroke-width="1.1" stroke-dasharray="2.9 2.1"/>
<text x="671.7" y="229.8" font-size="6.1" font-weight="normal" text-anchor="start" fill="#111" stroke="#111" stroke-width="0.2">40</text>
<text x="671.7" y="241.8" font-size="6.1" font-weight="normal" text-anchor="start" fill="#111" stroke="#111" stroke-width="0.2">30</text>
<text x="538.2" y="161.9" font-size="6.5" font-weight="bold" text-anchor="end" fill="#000" >90</text>
<text x="538.2" y="181.6" font-size="6.5" font-weight="bold" text-anchor="end" fill="#000" >80</text>
<text x="538.2" y="201.3" font-size="6.5" font-weight="bold" text-anchor="end" fill="#000" >70</text>
<text x="538.2" y="211.5" font-size="6.5" font-weight="bold" text-anchor="end" fill="#000" >60</text>
<text x="538.2" y="221.6" font-size="6.5" font-weight="bold" text-anchor="end" fill="#000" >50</text>
<text x="538.2" y="231.7" font-size="6.5" font-weight="bold" text-anchor="end" fill="#000" >40</text>
<text x="538.2" y="241.8" font-size="6.5" font-weight="bold" text-anchor="end" fill="#000" >30</text>
<text x="669.1" y="256.2" font-size="6.5" font-weight="bold" text-anchor="middle" fill="#000" >0</text>
<text x="641.1" y="256.2" font-size="6.5" font-weight="bold" text-anchor="middle" fill="#000" >10</text>
<text x="613.1" y="256.2" font-size="6.5" font-weight="bold" text-anchor="middle" fill="#000" >20</text>
<text x="585.0" y="256.2" font-size="6.5" font-weight="bold" text-anchor="middle" fill="#000" >30</text>
<text x="557.0" y="256.2" font-size="6.5" font-weight="bold" text-anchor="middle" fill="#000" >40</text>
<text x="606.4" y="265.2" font-size="7.5" font-weight="bold" text-anchor="middle" fill="#000" textLength="68.3" lengthAdjust="spacingAndGlyphs" >Day before outcome</text>
<text transform="translate(528.1,202.2) rotate(-90)" font-size="7.3" font-weight="bold" text-anchor="middle" textLength="25.7" lengthAdjust="spacingAndGlyphs">APTT(s)</text>
<text x="599.4" y="148.8" font-size="7.3" font-weight="bold" text-anchor="middle" fill="#000" textLength="56.6" lengthAdjust="spacingAndGlyphs" >Activated Partial</text>
<text x="600.8" y="157.7" font-size="7.3" font-weight="bold" text-anchor="middle" fill="#000" textLength="73.3" lengthAdjust="spacingAndGlyphs" >Thromboplastin Time</text>
</g>
<g>
<line x1="24.8" y1="305.6" x2="24.8" y2="344.6" stroke="#000" stroke-width="1.3" />
<line x1="24.8" y1="350.6" x2="24.8" y2="389.4" stroke="#000" stroke-width="1.3" />
<line x1="22.6" y1="346.8" x2="27.0" y2="342.4" stroke="#000" stroke-width="1.1" />
<line x1="22.6" y1="352.8" x2="27.0" y2="348.4" stroke="#000" stroke-width="1.1" />
<line x1="24.2" y1="389.4" x2="152.3" y2="389.4" stroke="#000" stroke-width="1.3" />
<line x1="20.8" y1="305.6" x2="24.8" y2="305.6" stroke="#000" stroke-width="1.2" />
<line x1="20.8" y1="317.4" x2="24.8" y2="317.4" stroke="#000" stroke-width="1.2" />
<line x1="20.8" y1="329.1" x2="24.8" y2="329.1" stroke="#000" stroke-width="1.2" />
<line x1="20.8" y1="340.9" x2="24.8" y2="340.9" stroke="#000" stroke-width="1.2" />
<line x1="20.8" y1="376.5" x2="24.8" y2="376.5" stroke="#000" stroke-width="1.2" />
<line x1="151.8" y1="389.4" x2="151.8" y2="393.0" stroke="#000" stroke-width="1.1" />
<line x1="137.7" y1="389.4" x2="137.7" y2="391.6" stroke="#000" stroke-width="1.1" />
<line x1="123.6" y1="389.4" x2="123.6" y2="393.0" stroke="#000" stroke-width="1.1" />
<line x1="109.5" y1="389.4" x2="109.5" y2="391.6" stroke="#000" stroke-width="1.1" />
<line x1="95.4" y1="389.4" x2="95.4" y2="393.0" stroke="#000" stroke-width="1.1" />
<line x1="81.3" y1="389.4" x2="81.3" y2="391.6" stroke="#000" stroke-width="1.1" />
<line x1="67.2" y1="389.4" x2="67.2" y2="393.0" stroke="#000" stroke-width="1.1" />
<line x1="53.1" y1="389.4" x2="53.1" y2="391.6" stroke="#000" stroke-width="1.1" />
<line x1="39.0" y1="389.4" x2="39.0" y2="393.0" stroke="#000" stroke-width="1.1" />
<line x1="24.9" y1="389.4" x2="24.9" y2="391.6" stroke="#000" stroke-width="1.1" />
<path d="M44.6 374.0V379.6M47.5 373.2V378.4M50.3 373.6V377.2M53.1 374.0V379.6M55.9 372.9V379.1M58.7 372.8V379.0M61.6 374.5V378.5M64.4 373.4V377.8M67.2 373.0V378.2M70.0 373.2V378.0M72.8 372.3V378.5M75.7 373.3V378.3M78.5 373.0V379.2M81.3 372.7V379.1M84.1 373.5V378.5M86.9 374.3V377.7M89.8 373.9V377.9M92.6 372.3V378.1M95.4 373.0V378.0M98.2 373.8V379.0M101.0 373.2V378.2M103.9 373.2V379.0M106.7 372.8V378.0M109.5 373.4V377.8M112.3 373.9V378.9M115.1 373.2V379.0M118.0 374.2V379.2M120.8 373.7V378.7M123.6 373.2V378.8M126.4 373.4V378.4M129.2 372.8V379.2M132.1 373.3V379.3M134.9 374.6V378.8M137.7 372.9V379.3M140.5 374.6V378.4M143.3 373.0V377.8M146.2 373.2V377.4M149.0 372.6V378.0" stroke="#FFA36B" stroke-width="0.8" fill="none" opacity="1"/>
<path d="M43.1 374.0h3M43.1 379.6h3M46.0 373.2h3M46.0 378.4h3M48.8 373.6h3M48.8 377.2h3M51.6 374.0h3M51.6 379.6h3M54.4 372.9h3M54.4 379.1h3M57.2 372.8h3M57.2 379.0h3M60.1 374.5h3M60.1 378.5h3M62.9 373.4h3M62.9 377.8h3M65.7 373.0h3M65.7 378.2h3M68.5 373.2h3M68.5 378.0h3M71.3 372.3h3M71.3 378.5h3M74.2 373.3h3M74.2 378.3h3M77.0 373.0h3M77.0 379.2h3M79.8 372.7h3M79.8 379.1h3M82.6 373.5h3M82.6 378.5h3M85.4 374.3h3M85.4 377.7h3M88.3 373.9h3M88.3 377.9h3M91.1 372.3h3M91.1 378.1h3M93.9 373.0h3M93.9 378.0h3M96.7 373.8h3M96.7 379.0h3M99.5 373.2h3M99.5 378.2h3M102.4 373.2h3M102.4 379.0h3M105.2 372.8h3M105.2 378.0h3M108.0 373.4h3M108.0 377.8h3M110.8 373.9h3M110.8 378.9h3M113.6 373.2h3M113.6 379.0h3M116.5 374.2h3M116.5 379.2h3M119.3 373.7h3M119.3 378.7h3M122.1 373.2h3M122.1 378.8h3M124.9 373.4h3M124.9 378.4h3M127.7 372.8h3M127.7 379.2h3M130.6 373.3h3M130.6 379.3h3M133.4 374.6h3M133.4 378.8h3M136.2 372.9h3M136.2 379.3h3M139.0 374.6h3M139.0 378.4h3M141.8 373.0h3M141.8 377.8h3M144.7 373.2h3M144.7 377.4h3M147.5 372.6h3M147.5 378.0h3" stroke="#FF7A2A" stroke-width="1.1" fill="none" opacity="1"/>
<polyline points="44.6,376.8 47.5,375.8 50.3,375.4 53.1,376.8 55.9,376.0 58.7,375.9 61.6,376.5 64.4,375.6 67.2,375.6 70.0,375.6 72.8,375.4 75.7,375.8 78.5,376.1 81.3,375.9 84.1,376.0 86.9,376.0 89.8,375.9 92.6,375.2 95.4,375.5 98.2,376.4 101.0,375.7 103.9,376.1 106.7,375.4 109.5,375.6 112.3,376.4 115.1,376.1 118.0,376.7 120.8,376.2 123.6,376.0 126.4,375.9 129.2,376.0 132.1,376.3 134.9,376.7 137.7,376.1 140.5,376.5 143.3,375.4 146.2,375.3 149.0,375.3" stroke="#FF6600" stroke-width="1.3" fill="none" stroke-linejoin="round"/>
<path d="M44.6 374.7L46.4 378.3L42.8 378.3Z" fill="#FF6600"/>
<path d="M47.5 373.7L49.3 377.3L45.7 377.3Z" fill="#FF6600"/>
<path d="M50.3 373.3L52.1 376.9L48.5 376.9Z" fill="#FF6600"/>
<path d="M53.1 374.7L54.9 378.3L51.3 378.3Z" fill="#FF6600"/>
<path d="M55.9 373.9L57.7 377.5L54.1 377.5Z" fill="#FF6600"/>
<path d="M58.7 373.8L60.5 377.4L56.9 377.4Z" fill="#FF6600"/>
<path d="M61.6 374.4L63.4 378.0L59.8 378.0Z" fill="#FF6600"/>
<path d="M64.4 373.5L66.2 377.1L62.6 377.1Z" fill="#FF6600"/>
<path d="M67.2 373.5L69.0 377.1L65.4 377.1Z" fill="#FF6600"/>
<path d="M70.0 373.5L71.8 377.1L68.2 377.1Z" fill="#FF6600"/>
<path d="M72.8 373.3L74.6 376.9L71.0 376.9Z" fill="#FF6600"/>
<path d="M75.7 373.7L77.5 377.3L73.9 377.3Z" fill="#FF6600"/>
<path d="M78.5 374.0L80.3 377.6L76.7 377.6Z" fill="#FF6600"/>
<path d="M81.3 373.8L83.1 377.4L79.5 377.4Z" fill="#FF6600"/>
<path d="M84.1 373.9L85.9 377.5L82.3 377.5Z" fill="#FF6600"/>
<path d="M86.9 373.9L88.7 377.5L85.1 377.5Z" fill="#FF6600"/>
<path d="M89.8 373.8L91.6 377.4L88.0 377.4Z" fill="#FF6600"/>
<path d="M92.6 373.1L94.4 376.7L90.8 376.7Z" fill="#FF6600"/>
<path d="M95.4 373.4L97.2 377.0L93.6 377.0Z" fill="#FF6600"/>
<path d="M98.2 374.3L100.0 377.9L96.4 377.9Z" fill="#FF6600"/>
<path d="M101.0 373.6L102.8 377.2L99.2 377.2Z" fill="#FF6600"/>
<path d="M103.9 374.0L105.7 377.6L102.1 377.6Z" fill="#FF6600"/>
<path d="M106.7 373.3L108.5 376.9L104.9 376.9Z" fill="#FF6600"/>
<path d="M109.5 373.5L111.3 377.1L107.7 377.1Z" fill="#FF6600"/>
<path d="M112.3 374.3L114.1 377.9L110.5 377.9Z" fill="#FF6600"/>
<path d="M115.1 374.0L116.9 377.6L113.3 377.6Z" fill="#FF6600"/>
<path d="M118.0 374.6L119.8 378.2L116.2 378.2Z" fill="#FF6600"/>
<path d="M120.8 374.1L122.6 377.7L119.0 377.7Z" fill="#FF6600"/>
<path d="M123.6 373.9L125.4 377.5L121.8 377.5Z" fill="#FF6600"/>
<path d="M126.4 373.8L128.2 377.4L124.6 377.4Z" fill="#FF6600"/>
<path d="M129.2 373.9L131.0 377.5L127.4 377.5Z" fill="#FF6600"/>
<path d="M132.1 374.2L133.9 377.8L130.3 377.8Z" fill="#FF6600"/>
<path d="M134.9 374.6L136.7 378.2L133.1 378.2Z" fill="#FF6600"/>
<path d="M137.7 374.0L139.5 377.6L135.9 377.6Z" fill="#FF6600"/>
<path d="M140.5 374.4L142.3 378.0L138.7 378.0Z" fill="#FF6600"/>
<path d="M143.3 373.3L145.1 376.9L141.5 376.9Z" fill="#FF6600"/>
<path d="M146.2 373.2L148.0 376.8L144.4 376.8Z" fill="#FF6600"/>
<path d="M149.0 373.2L150.8 376.8L147.2 376.8Z" fill="#FF6600"/>
<path d="M24.9 366.0V375.0M27.7 365.0V374.0M30.5 366.0V375.0M33.4 370.0V377.8M36.2 369.0V378.0M39.0 371.0V378.0M41.8 370.0V378.0M44.6 372.0V378.0M47.5 371.0V376.2M50.3 372.4V377.2M53.1 369.0V376.8M55.9 371.7V376.5M58.7 372.0V376.2M61.6 370.2V378.0M64.4 371.5V378.3M67.2 370.7V376.1M70.0 369.7V376.7M72.8 370.6V377.6M75.7 371.1V376.1M78.5 370.9V378.5M81.3 371.3V378.3M84.1 371.3V378.3M86.9 370.3V376.3M89.8 371.5V375.9M92.6 370.3V375.5M95.4 370.1V376.7M98.2 372.2V378.0M101.0 371.2V378.8M103.9 372.3V377.9M106.7 370.8V375.8M109.5 370.8V375.8M112.3 370.6V378.0M115.1 371.9V377.7M118.0 370.8V378.0M120.8 369.7V376.3M123.6 368.0V382.0M126.4 368.7V380.5M129.2 366.2V380.2M132.1 366.5V380.7M134.9 369.5V380.7M137.7 366.2V381.4M140.5 369.7V379.3M143.3 368.4V377.8M146.2 367.9V382.1M149.0 366.0V380.4" stroke="#8CF98C" stroke-width="0.8" fill="none" opacity="1"/>
<path d="M23.4 366.0h3M23.4 375.0h3M26.2 365.0h3M26.2 374.0h3M29.0 366.0h3M29.0 375.0h3M31.9 370.0h3M31.9 377.8h3M34.7 369.0h3M34.7 378.0h3M37.5 371.0h3M37.5 378.0h3M40.3 370.0h3M40.3 378.0h3M43.1 372.0h3M43.1 378.0h3M46.0 371.0h3M46.0 376.2h3M48.8 372.4h3M48.8 377.2h3M51.6 369.0h3M51.6 376.8h3M54.4 371.7h3M54.4 376.5h3M57.2 372.0h3M57.2 376.2h3M60.1 370.2h3M60.1 378.0h3M62.9 371.5h3M62.9 378.3h3M65.7 370.7h3M65.7 376.1h3M68.5 369.7h3M68.5 376.7h3M71.3 370.6h3M71.3 377.6h3M74.2 371.1h3M74.2 376.1h3M77.0 370.9h3M77.0 378.5h3M79.8 371.3h3M79.8 378.3h3M82.6 371.3h3M82.6 378.3h3M85.4 370.3h3M85.4 376.3h3M88.3 371.5h3M88.3 375.9h3M91.1 370.3h3M91.1 375.5h3M93.9 370.1h3M93.9 376.7h3M96.7 372.2h3M96.7 378.0h3M99.5 371.2h3M99.5 378.8h3M102.4 372.3h3M102.4 377.9h3M105.2 370.8h3M105.2 375.8h3M108.0 370.8h3M108.0 375.8h3M110.8 370.6h3M110.8 378.0h3M113.6 371.9h3M113.6 377.7h3M116.5 370.8h3M116.5 378.0h3M119.3 369.7h3M119.3 376.3h3M122.1 368.0h3M122.1 382.0h3M124.9 368.7h3M124.9 380.5h3M127.7 366.2h3M127.7 380.2h3M130.6 366.5h3M130.6 380.7h3M133.4 369.5h3M133.4 380.7h3M136.2 366.2h3M136.2 381.4h3M139.0 369.7h3M139.0 379.3h3M141.8 368.4h3M141.8 377.8h3M144.7 367.9h3M144.7 382.1h3M147.5 366.0h3M147.5 380.4h3" stroke="#8CF98C" stroke-width="0.8" fill="none" opacity="1"/>
<polyline points="24.9,370.5 27.7,369.5 30.5,370.5 33.4,373.9 36.2,373.5 39.0,374.5 41.8,374.0 44.6,375.0 47.5,373.6 50.3,374.8 53.1,372.9 55.9,374.1 58.7,374.1 61.6,374.1 64.4,374.9 67.2,373.4 70.0,373.2 72.8,374.1 75.7,373.6 78.5,374.7 81.3,374.8 84.1,374.8 86.9,373.3 89.8,373.7 92.6,372.9 95.4,373.4 98.2,375.1 101.0,375.0 103.9,375.1 106.7,373.3 109.5,373.3 112.3,374.3 115.1,374.8 118.0,374.4 120.8,373.0 123.6,375.0 126.4,374.6 129.2,373.2 132.1,373.6 134.9,375.1 137.7,373.8 140.5,374.5 143.3,373.1 146.2,375.0 149.0,373.2" stroke="#8CF98C" stroke-width="1.4" fill="none" stroke-linejoin="round"/>
<rect x="23.1" y="368.6" width="3.7" height="3.7" fill="#8CF98C"/>
<rect x="25.9" y="367.6" width="3.7" height="3.7" fill="#8CF98C"/>
<rect x="28.7" y="368.6" width="3.7" height="3.7" fill="#8CF98C"/>
<rect x="31.5" y="372.0" width="3.7" height="3.7" fill="#8CF98C"/>
<rect x="34.3" y="371.6" width="3.7" height="3.7" fill="#8CF98C"/>
<rect x="37.2" y="372.6" width="3.7" height="3.7" fill="#8CF98C"/>
<rect x="40.0" y="372.1" width="3.7" height="3.7" fill="#8CF98C"/>
<rect x="42.8" y="373.1" width="3.7" height="3.7" fill="#8CF98C"/>
<rect x="45.6" y="371.8" width="3.7" height="3.7" fill="#8CF98C"/>
<rect x="48.4" y="372.9" width="3.7" height="3.7" fill="#8CF98C"/>
<rect x="51.3" y="371.0" width="3.7" height="3.7" fill="#8CF98C"/>
<rect x="54.1" y="372.2" width="3.7" height="3.7" fill="#8CF98C"/>
<rect x="56.9" y="372.2" width="3.7" height="3.7" fill="#8CF98C"/>
<rect x="59.7" y="372.2" width="3.7" height="3.7" fill="#8CF98C"/>
<rect x="62.5" y="373.0" width="3.7" height="3.7" fill="#8CF98C"/>
<rect x="65.4" y="371.5" width="3.7" height="3.7" fill="#8CF98C"/>
<rect x="68.2" y="371.3" width="3.7" height="3.7" fill="#8CF98C"/>
<rect x="71.0" y="372.2" width="3.7" height="3.7" fill="#8CF98C"/>
<rect x="73.8" y="371.8" width="3.7" height="3.7" fill="#8CF98C"/>
<rect x="76.6" y="372.8" width="3.7" height="3.7" fill="#8CF98C"/>
<rect x="79.5" y="372.9" width="3.7" height="3.7" fill="#8CF98C"/>
<rect x="82.3" y="372.9" width="3.7" height="3.7" fill="#8CF98C"/>
<rect x="85.1" y="371.4" width="3.7" height="3.7" fill="#8CF98C"/>
<rect x="87.9" y="371.8" width="3.7" height="3.7" fill="#8CF98C"/>
<rect x="90.7" y="371.0" width="3.7" height="3.7" fill="#8CF98C"/>
<rect x="93.6" y="371.5" width="3.7" height="3.7" fill="#8CF98C"/>
<rect x="96.4" y="373.2" width="3.7" height="3.7" fill="#8CF98C"/>
<rect x="99.2" y="373.1" width="3.7" height="3.7" fill="#8CF98C"/>
<rect x="102.0" y="373.2" width="3.7" height="3.7" fill="#8CF98C"/>
<rect x="104.8" y="371.4" width="3.7" height="3.7" fill="#8CF98C"/>
<rect x="107.7" y="371.4" width="3.7" height="3.7" fill="#8CF98C"/>
<rect x="110.5" y="372.4" width="3.7" height="3.7" fill="#8CF98C"/>
<rect x="113.3" y="372.9" width="3.7" height="3.7" fill="#8CF98C"/>
<rect x="116.1" y="372.5" width="3.7" height="3.7" fill="#8CF98C"/>
<rect x="118.9" y="371.1" width="3.7" height="3.7" fill="#8CF98C"/>
<rect x="121.8" y="373.1" width="3.7" height="3.7" fill="#8CF98C"/>
<rect x="124.6" y="372.8" width="3.7" height="3.7" fill="#8CF98C"/>
<rect x="127.4" y="371.3" width="3.7" height="3.7" fill="#8CF98C"/>
<rect x="130.2" y="371.8" width="3.7" height="3.7" fill="#8CF98C"/>
<rect x="133.0" y="373.2" width="3.7" height="3.7" fill="#8CF98C"/>
<rect x="135.9" y="371.9" width="3.7" height="3.7" fill="#8CF98C"/>
<rect x="138.7" y="372.6" width="3.7" height="3.7" fill="#8CF98C"/>
<rect x="141.5" y="371.2" width="3.7" height="3.7" fill="#8CF98C"/>
<rect x="144.3" y="373.1" width="3.7" height="3.7" fill="#8CF98C"/>
<rect x="147.1" y="371.3" width="3.7" height="3.7" fill="#8CF98C"/>
<path d="M95.4 371.0V377.8M101.0 366.0V374.8M103.9 315.6V374.0M106.7 343.6V376.0M109.5 363.0V375.0M112.3 360.0V372.0M115.1 362.0V374.8M118.0 355.0V370.0M120.8 341.6V372.0M123.6 367.0V377.8M126.4 368.0V379.2M129.2 369.0V379.8M132.1 367.0V377.8M134.9 370.0V380.0M137.7 369.0V379.8M140.5 371.0V380.2M143.3 365.0V379.0M146.2 367.0V381.0M149.0 368.0V380.8" stroke="#008000" stroke-width="0.9" fill="none" opacity="0.75"/>
<path d="M93.9 371.0h3M93.9 377.8h3M99.5 366.0h3M99.5 374.8h3M102.4 315.6h3M102.4 374.0h3M105.2 343.6h3M105.2 376.0h3M108.0 363.0h3M108.0 375.0h3M110.8 360.0h3M110.8 372.0h3M113.6 362.0h3M113.6 374.8h3M116.5 355.0h3M116.5 370.0h3M119.3 341.6h3M119.3 372.0h3M122.1 367.0h3M122.1 377.8h3M124.9 368.0h3M124.9 379.2h3M127.7 369.0h3M127.7 379.8h3M130.6 367.0h3M130.6 377.8h3M133.4 370.0h3M133.4 380.0h3M136.2 369.0h3M136.2 379.8h3M139.0 371.0h3M139.0 380.2h3M141.8 365.0h3M141.8 379.0h3M144.7 367.0h3M144.7 381.0h3M147.5 368.0h3M147.5 380.8h3" stroke="#008000" stroke-width="0.9" fill="none" opacity="0.75"/>
<polyline points="95.4,374.4 101.0,370.4 103.9,365.6 106.7,370.0 109.5,369.0 112.3,366.0 115.1,368.4 118.0,362.4 120.8,359.6 123.6,372.4 126.4,373.6 129.2,374.4 132.1,372.4 134.9,375.0 137.7,374.4 140.5,375.6 143.3,372.0 146.2,374.0 149.0,374.4" stroke="#008000" stroke-width="1.2" fill="none" stroke-linejoin="round"/>
<circle cx="95.4" cy="374.4" r="1.9" fill="#008000"/>
<circle cx="101.0" cy="370.4" r="1.9" fill="#008000"/>
<circle cx="103.9" cy="365.6" r="1.9" fill="#008000"/>
<circle cx="106.7" cy="370.0" r="1.9" fill="#008000"/>
<circle cx="109.5" cy="369.0" r="1.9" fill="#008000"/>
<circle cx="112.3" cy="366.0" r="1.9" fill="#008000"/>
<circle cx="115.1" cy="368.4" r="1.9" fill="#008000"/>
<circle cx="118.0" cy="362.4" r="1.9" fill="#008000"/>
<circle cx="120.8" cy="359.6" r="1.9" fill="#008000"/>
<circle cx="123.6" cy="372.4" r="1.9" fill="#008000"/>
<circle cx="126.4" cy="373.6" r="1.9" fill="#008000"/>
<circle cx="129.2" cy="374.4" r="1.9" fill="#008000"/>
<circle cx="132.1" cy="372.4" r="1.9" fill="#008000"/>
<circle cx="134.9" cy="375.0" r="1.9" fill="#008000"/>
<circle cx="137.7" cy="374.4" r="1.9" fill="#008000"/>
<circle cx="140.5" cy="375.6" r="1.9" fill="#008000"/>
<circle cx="143.3" cy="372.0" r="1.9" fill="#008000"/>
<circle cx="146.2" cy="374.0" r="1.9" fill="#008000"/>
<circle cx="149.0" cy="374.4" r="1.9" fill="#008000"/>
<line x1="24.8" y1="366.1" x2="151.8" y2="366.1" stroke="#000" stroke-width="1.1" stroke-dasharray="2.9 2.1"/>
<line x1="24.8" y1="376.5" x2="151.8" y2="376.5" stroke="#000" stroke-width="1.1" stroke-dasharray="2.9 2.1"/>
<text x="152.1" y="367.9" font-size="6.1" font-weight="normal" text-anchor="start" fill="#111" stroke="#111" stroke-width="0.2">19</text>
<text x="152.1" y="378.6" font-size="6.1" font-weight="normal" text-anchor="start" fill="#111" stroke="#111" stroke-width="0.2">15</text>
<text x="20.0" y="307.9" font-size="6.5" font-weight="bold" text-anchor="end" fill="#000" >75</text>
<text x="20.0" y="319.7" font-size="6.5" font-weight="bold" text-anchor="end" fill="#000" >60</text>
<text x="20.0" y="331.4" font-size="6.5" font-weight="bold" text-anchor="end" fill="#000" >45</text>
<text x="20.0" y="343.2" font-size="6.5" font-weight="bold" text-anchor="end" fill="#000" >30</text>
<text x="20.0" y="378.8" font-size="6.5" font-weight="bold" text-anchor="end" fill="#000" >15</text>
<text x="151.8" y="400.6" font-size="6.5" font-weight="bold" text-anchor="middle" fill="#000" >0</text>
<text x="123.6" y="400.6" font-size="6.5" font-weight="bold" text-anchor="middle" fill="#000" >10</text>
<text x="95.4" y="400.6" font-size="6.5" font-weight="bold" text-anchor="middle" fill="#000" >20</text>
<text x="67.2" y="400.6" font-size="6.5" font-weight="bold" text-anchor="middle" fill="#000" >30</text>
<text x="39.0" y="400.6" font-size="6.5" font-weight="bold" text-anchor="middle" fill="#000" >40</text>
<text x="88.0" y="412.0" font-size="7.5" font-weight="bold" text-anchor="middle" fill="#000" textLength="68.3" lengthAdjust="spacingAndGlyphs" >Day before outcome</text>
<text transform="translate(8.8,348.0) rotate(-90)" font-size="7.3" font-weight="bold" text-anchor="middle" textLength="16.9" lengthAdjust="spacingAndGlyphs">TT(s)</text>
<text x="92.1" y="302.5" font-size="7.3" font-weight="bold" text-anchor="middle" fill="#000" >Thrombin Time</text>
</g>
<g>
<line x1="200.7" y1="305.6" x2="200.7" y2="389.5" stroke="#000" stroke-width="1.3" />
<line x1="200.0" y1="389.5" x2="328.1" y2="389.5" stroke="#000" stroke-width="1.3" />
<line x1="196.7" y1="305.6" x2="200.7" y2="305.6" stroke="#000" stroke-width="1.2" />
<line x1="196.7" y1="322.4" x2="200.7" y2="322.4" stroke="#000" stroke-width="1.2" />
<line x1="196.7" y1="339.2" x2="200.7" y2="339.2" stroke="#000" stroke-width="1.2" />
<line x1="196.7" y1="355.9" x2="200.7" y2="355.9" stroke="#000" stroke-width="1.2" />
<line x1="196.7" y1="372.7" x2="200.7" y2="372.7" stroke="#000" stroke-width="1.2" />
<line x1="196.7" y1="389.5" x2="200.7" y2="389.5" stroke="#000" stroke-width="1.2" />
<line x1="327.6" y1="389.5" x2="327.6" y2="393.1" stroke="#000" stroke-width="1.1" />
<line x1="313.5" y1="389.5" x2="313.5" y2="391.7" stroke="#000" stroke-width="1.1" />
<line x1="299.4" y1="389.5" x2="299.4" y2="393.1" stroke="#000" stroke-width="1.1" />
<line x1="285.3" y1="389.5" x2="285.3" y2="391.7" stroke="#000" stroke-width="1.1" />
<line x1="271.2" y1="389.5" x2="271.2" y2="393.1" stroke="#000" stroke-width="1.1" />
<line x1="257.1" y1="389.5" x2="257.1" y2="391.7" stroke="#000" stroke-width="1.1" />
<line x1="243.0" y1="389.5" x2="243.0" y2="393.1" stroke="#000" stroke-width="1.1" />
<line x1="228.9" y1="389.5" x2="228.9" y2="391.7" stroke="#000" stroke-width="1.1" />
<line x1="214.8" y1="389.5" x2="214.8" y2="393.1" stroke="#000" stroke-width="1.1" />
<line x1="200.7" y1="389.5" x2="200.7" y2="391.7" stroke="#000" stroke-width="1.1" />
<path d="M220.4 358.6V369.4M223.3 337.0V389.5M226.1 369.4V382.6M228.9 364.0V376.0M231.7 341.0V389.5M234.5 362.0V374.0M237.4 367.8V376.2M240.2 360.2V375.8M243.0 361.0V379.0M245.8 360.0V372.0M248.6 359.0V371.0M251.5 342.4V389.5M254.3 360.0V372.0M257.1 355.6V378.4M259.9 359.4V372.6M262.7 361.4V374.6M265.6 359.8V374.2M268.4 358.8V373.2M271.2 360.8V375.2M274.0 359.8V374.2M276.8 357.6V374.4M279.7 359.8V374.2M282.5 360.8V375.2M285.3 357.6V374.4M288.1 359.8V374.2M290.9 360.8V375.2M293.8 361.8V376.2M296.6 360.8V375.2M299.4 359.8V374.2M302.2 360.8V375.2M305.0 361.8V376.2M307.9 360.8V375.2M310.7 362.8V377.2M313.5 361.8V376.2M316.3 362.8V377.2M319.1 363.8V378.2M322.0 362.2V377.8M324.8 360.2V375.8" stroke="#FFA36B" stroke-width="0.8" fill="none" opacity="1"/>
<path d="M218.9 358.6h3M218.9 369.4h3M221.8 337.0h3M224.6 369.4h3M224.6 382.6h3M227.4 364.0h3M227.4 376.0h3M230.2 341.0h3M233.0 362.0h3M233.0 374.0h3M235.9 367.8h3M235.9 376.2h3M238.7 360.2h3M238.7 375.8h3M241.5 361.0h3M241.5 379.0h3M244.3 360.0h3M244.3 372.0h3M247.1 359.0h3M247.1 371.0h3M250.0 342.4h3M252.8 360.0h3M252.8 372.0h3M255.6 355.6h3M255.6 378.4h3M258.4 359.4h3M258.4 372.6h3M261.2 361.4h3M261.2 374.6h3M264.1 359.8h3M264.1 374.2h3M266.9 358.8h3M266.9 373.2h3M269.7 360.8h3M269.7 375.2h3M272.5 359.8h3M272.5 374.2h3M275.3 357.6h3M275.3 374.4h3M278.2 359.8h3M278.2 374.2h3M281.0 360.8h3M281.0 375.2h3M283.8 357.6h3M283.8 374.4h3M286.6 359.8h3M286.6 374.2h3M289.4 360.8h3M289.4 375.2h3M292.3 361.8h3M292.3 376.2h3M295.1 360.8h3M295.1 375.2h3M297.9 359.8h3M297.9 374.2h3M300.7 360.8h3M300.7 375.2h3M303.5 361.8h3M303.5 376.2h3M306.4 360.8h3M306.4 375.2h3M309.2 362.8h3M309.2 377.2h3M312.0 361.8h3M312.0 376.2h3M314.8 362.8h3M314.8 377.2h3M317.6 363.8h3M317.6 378.2h3M320.5 362.2h3M320.5 377.8h3M323.3 360.2h3M323.3 375.8h3" stroke="#FF7A2A" stroke-width="1.1" fill="none" opacity="1"/>
<polyline points="220.4,364.0 223.3,366.0 226.1,376.0 228.9,370.0 231.7,366.0 234.5,368.0 237.4,372.0 240.2,368.0 243.0,370.0 245.8,366.0 248.6,365.0 251.5,368.0 254.3,366.0 257.1,367.0 259.9,366.0 262.7,368.0 265.6,367.0 268.4,366.0 271.2,368.0 274.0,367.0 276.8,366.0 279.7,367.0 282.5,368.0 285.3,366.0 288.1,367.0 290.9,368.0 293.8,369.0 296.6,368.0 299.4,367.0 302.2,368.0 305.0,369.0 307.9,368.0 310.7,370.0 313.5,369.0 316.3,370.0 319.1,371.0 322.0,370.0 324.8,368.0" stroke="#FF6600" stroke-width="1.3" fill="none" stroke-linejoin="round"/>
<path d="M220.4 361.9L222.2 365.5L218.6 365.5Z" fill="#FF6600"/>
<path d="M223.3 363.9L225.1 367.5L221.5 367.5Z" fill="#FF6600"/>
<path d="M226.1 373.9L227.9 377.5L224.3 377.5Z" fill="#FF6600"/>
<path d="M228.9 367.9L230.7 371.5L227.1 371.5Z" fill="#FF6600"/>
<path d="M231.7 363.9L233.5 367.5L229.9 367.5Z" fill="#FF6600"/>
<path d="M234.5 365.9L236.3 369.5L232.7 369.5Z" fill="#FF6600"/>
<path d="M237.4 369.9L239.2 373.5L235.6 373.5Z" fill="#FF6600"/>
<path d="M240.2 365.9L242.0 369.5L238.4 369.5Z" fill="#FF6600"/>
<path d="M243.0 367.9L244.8 371.5L241.2 371.5Z" fill="#FF6600"/>
<path d="M245.8 363.9L247.6 367.5L244.0 367.5Z" fill="#FF6600"/>
<path d="M248.6 362.9L250.4 366.5L246.8 366.5Z" fill="#FF6600"/>
<path d="M251.5 365.9L253.3 369.5L249.7 369.5Z" fill="#FF6600"/>
<path d="M254.3 363.9L256.1 367.5L252.5 367.5Z" fill="#FF6600"/>
<path d="M257.1 364.9L258.9 368.5L255.3 368.5Z" fill="#FF6600"/>
<path d="M259.9 363.9L261.7 367.5L258.1 367.5Z" fill="#FF6600"/>
<path d="M262.7 365.9L264.5 369.5L260.9 369.5Z" fill="#FF6600"/>
<path d="M265.6 364.9L267.4 368.5L263.8 368.5Z" fill="#FF6600"/>
<path d="M268.4 363.9L270.2 367.5L266.6 367.5Z" fill="#FF6600"/>
<path d="M271.2 365.9L273.0 369.5L269.4 369.5Z" fill="#FF6600"/>
<path d="M274.0 364.9L275.8 368.5L272.2 368.5Z" fill="#FF6600"/>
<path d="M276.8 363.9L278.6 367.5L275.0 367.5Z" fill="#FF6600"/>
<path d="M279.7 364.9L281.5 368.5L277.9 368.5Z" fill="#FF6600"/>
<path d="M282.5 365.9L284.3 369.5L280.7 369.5Z" fill="#FF6600"/>
<path d="M285.3 363.9L287.1 367.5L283.5 367.5Z" fill="#FF6600"/>
<path d="M288.1 364.9L289.9 368.5L286.3 368.5Z" fill="#FF6600"/>
<path d="M290.9 365.9L292.7 369.5L289.1 369.5Z" fill="#FF6600"/>
<path d="M293.8 366.9L295.6 370.5L292.0 370.5Z" fill="#FF6600"/>
<path d="M296.6 365.9L298.4 369.5L294.8 369.5Z" fill="#FF6600"/>
<path d="M299.4 364.9L301.2 368.5L297.6 368.5Z" fill="#FF6600"/>
<path d="M302.2 365.9L304.0 369.5L300.4 369.5Z" fill="#FF6600"/>
<path d="M305.0 366.9L306.8 370.5L303.2 370.5Z" fill="#FF6600"/>
<path d="M307.9 365.9L309.7 369.5L306.1 369.5Z" fill="#FF6600"/>
<path d="M310.7 367.9L312.5 371.5L308.9 371.5Z" fill="#FF6600"/>
<path d="M313.5 366.9L315.3 370.5L311.7 370.5Z" fill="#FF6600"/>
<path d="M316.3 367.9L318.1 371.5L314.5 371.5Z" fill="#FF6600"/>
<path d="M319.1 368.9L320.9 372.5L317.3 372.5Z" fill="#FF6600"/>
<path d="M322.0 367.9L323.8 371.5L320.2 371.5Z" fill="#FF6600"/>
<path d="M324.8 365.9L326.6 369.5L323.0 369.5Z" fill="#FF6600"/>
<path d="M200.7 328.0V366.0M203.5 345.0V374.2M206.3 326.0V361.2M209.2 330.4V375.6M212.0 325.0V359.8M217.6 330.0V386.8M220.4 360.0V380.8M223.3 331.0V381.8M226.1 310.4V381.6M228.9 360.0V383.2M231.7 345.0V374.2M234.5 341.0V379.8M237.4 355.0V383.0M240.2 350.0V388.0M243.0 350.0V378.8M245.8 358.0V384.0M248.6 352.0V382.0M251.5 342.4V378.4M254.3 345.0V377.0M257.1 348.0V380.8M259.9 348.0V378.0M262.7 349.0V379.0M265.6 349.0V379.8M268.4 347.0V377.0M271.2 349.0V377.0M274.0 350.0V378.0M276.8 345.0V375.0M279.7 348.0V376.0M282.5 349.0V377.0M285.3 350.0V378.0M288.1 348.0V376.0M290.9 351.0V379.0M293.8 349.0V377.0M296.6 350.0V378.0M299.4 351.0V379.0M302.2 348.0V376.0M305.0 352.0V380.0M307.9 350.0V378.0M310.7 351.0V379.0M313.5 349.0V377.0M316.3 352.0V380.0M319.1 351.0V379.0M322.0 350.0V378.0M324.8 346.0V380.0" stroke="#8CF98C" stroke-width="0.8" fill="none" opacity="1"/>
<path d="M199.2 328.0h3M199.2 366.0h3M202.0 345.0h3M202.0 374.2h3M204.8 326.0h3M204.8 361.2h3M207.7 330.4h3M207.7 375.6h3M210.5 325.0h3M210.5 359.8h3M216.1 330.0h3M216.1 386.8h3M218.9 360.0h3M218.9 380.8h3M221.8 331.0h3M221.8 381.8h3M224.6 310.4h3M224.6 381.6h3M227.4 360.0h3M227.4 383.2h3M230.2 345.0h3M230.2 374.2h3M233.0 341.0h3M233.0 379.8h3M235.9 355.0h3M235.9 383.0h3M238.7 350.0h3M238.7 388.0h3M241.5 350.0h3M241.5 378.8h3M244.3 358.0h3M244.3 384.0h3M247.1 352.0h3M247.1 382.0h3M250.0 342.4h3M250.0 378.4h3M252.8 345.0h3M252.8 377.0h3M255.6 348.0h3M255.6 380.8h3M258.4 348.0h3M258.4 378.0h3M261.2 349.0h3M261.2 379.0h3M264.1 349.0h3M264.1 379.8h3M266.9 347.0h3M266.9 377.0h3M269.7 349.0h3M269.7 377.0h3M272.5 350.0h3M272.5 378.0h3M275.3 345.0h3M275.3 375.0h3M278.2 348.0h3M278.2 376.0h3M281.0 349.0h3M281.0 377.0h3M283.8 350.0h3M283.8 378.0h3M286.6 348.0h3M286.6 376.0h3M289.4 351.0h3M289.4 379.0h3M292.3 349.0h3M292.3 377.0h3M295.1 350.0h3M295.1 378.0h3M297.9 351.0h3M297.9 379.0h3M300.7 348.0h3M300.7 376.0h3M303.5 352.0h3M303.5 380.0h3M306.4 350.0h3M306.4 378.0h3M309.2 351.0h3M309.2 379.0h3M312.0 349.0h3M312.0 377.0h3M314.8 352.0h3M314.8 380.0h3M317.6 351.0h3M317.6 379.0h3M320.5 350.0h3M320.5 378.0h3M323.3 346.0h3M323.3 380.0h3" stroke="#8CF98C" stroke-width="0.8" fill="none" opacity="1"/>
<polyline points="200.7,347.0 203.5,359.6 206.3,343.6 209.2,353.0 212.0,342.4 217.6,358.4 220.4,370.4 223.3,356.4 226.1,346.0 228.9,371.6 231.7,359.6 234.5,360.4 237.4,369.0 240.2,369.0 243.0,364.4 245.8,371.0 248.6,367.0 251.5,360.4 254.3,361.0 257.1,364.4 259.9,363.0 262.7,364.0 265.6,364.4 268.4,362.0 271.2,363.0 274.0,364.0 276.8,360.0 279.7,362.0 282.5,363.0 285.3,364.0 288.1,362.0 290.9,365.0 293.8,363.0 296.6,364.0 299.4,365.0 302.2,362.0 305.0,366.0 307.9,364.0 310.7,365.0 313.5,363.0 316.3,366.0 319.1,365.0 322.0,364.0 324.8,363.0" stroke="#8CF98C" stroke-width="1.4" fill="none" stroke-linejoin="round"/>
<rect x="198.9" y="345.1" width="3.7" height="3.7" fill="#8CF98C"/>
<rect x="201.7" y="357.8" width="3.7" height="3.7" fill="#8CF98C"/>
<rect x="204.5" y="341.8" width="3.7" height="3.7" fill="#8CF98C"/>
<rect x="207.3" y="351.1" width="3.7" height="3.7" fill="#8CF98C"/>
<rect x="210.1" y="340.5" width="3.7" height="3.7" fill="#8CF98C"/>
<rect x="215.8" y="356.5" width="3.7" height="3.7" fill="#8CF98C"/>
<rect x="218.6" y="368.5" width="3.7" height="3.7" fill="#8CF98C"/>
<rect x="221.4" y="354.5" width="3.7" height="3.7" fill="#8CF98C"/>
<rect x="224.2" y="344.1" width="3.7" height="3.7" fill="#8CF98C"/>
<rect x="227.1" y="369.8" width="3.7" height="3.7" fill="#8CF98C"/>
<rect x="229.9" y="357.8" width="3.7" height="3.7" fill="#8CF98C"/>
<rect x="232.7" y="358.5" width="3.7" height="3.7" fill="#8CF98C"/>
<rect x="235.5" y="367.1" width="3.7" height="3.7" fill="#8CF98C"/>
<rect x="238.3" y="367.1" width="3.7" height="3.7" fill="#8CF98C"/>
<rect x="241.2" y="362.5" width="3.7" height="3.7" fill="#8CF98C"/>
<rect x="244.0" y="369.1" width="3.7" height="3.7" fill="#8CF98C"/>
<rect x="246.8" y="365.1" width="3.7" height="3.7" fill="#8CF98C"/>
<rect x="249.6" y="358.5" width="3.7" height="3.7" fill="#8CF98C"/>
<rect x="252.4" y="359.1" width="3.7" height="3.7" fill="#8CF98C"/>
<rect x="255.3" y="362.5" width="3.7" height="3.7" fill="#8CF98C"/>
<rect x="258.1" y="361.1" width="3.7" height="3.7" fill="#8CF98C"/>
<rect x="260.9" y="362.1" width="3.7" height="3.7" fill="#8CF98C"/>
<rect x="263.7" y="362.5" width="3.7" height="3.7" fill="#8CF98C"/>
<rect x="266.5" y="360.1" width="3.7" height="3.7" fill="#8CF98C"/>
<rect x="269.4" y="361.1" width="3.7" height="3.7" fill="#8CF98C"/>
<rect x="272.2" y="362.1" width="3.7" height="3.7" fill="#8CF98C"/>
<rect x="275.0" y="358.1" width="3.7" height="3.7" fill="#8CF98C"/>
<rect x="277.8" y="360.1" width="3.7" height="3.7" fill="#8CF98C"/>
<rect x="280.6" y="361.1" width="3.7" height="3.7" fill="#8CF98C"/>
<rect x="283.4" y="362.1" width="3.7" height="3.7" fill="#8CF98C"/>
<rect x="286.3" y="360.1" width="3.7" height="3.7" fill="#8CF98C"/>
<rect x="289.1" y="363.1" width="3.7" height="3.7" fill="#8CF98C"/>
<rect x="291.9" y="361.1" width="3.7" height="3.7" fill="#8CF98C"/>
<rect x="294.7" y="362.1" width="3.7" height="3.7" fill="#8CF98C"/>
<rect x="297.6" y="363.1" width="3.7" height="3.7" fill="#8CF98C"/>
<rect x="300.4" y="360.1" width="3.7" height="3.7" fill="#8CF98C"/>
<rect x="303.2" y="364.1" width="3.7" height="3.7" fill="#8CF98C"/>
<rect x="306.0" y="362.1" width="3.7" height="3.7" fill="#8CF98C"/>
<rect x="308.8" y="363.1" width="3.7" height="3.7" fill="#8CF98C"/>
<rect x="311.6" y="361.1" width="3.7" height="3.7" fill="#8CF98C"/>
<rect x="314.5" y="364.1" width="3.7" height="3.7" fill="#8CF98C"/>
<rect x="317.3" y="363.1" width="3.7" height="3.7" fill="#8CF98C"/>
<rect x="320.1" y="362.1" width="3.7" height="3.7" fill="#8CF98C"/>
<rect x="322.9" y="361.1" width="3.7" height="3.7" fill="#8CF98C"/>
<path d="M268.4 368.0V380.8M271.2 362.0V378.8M274.0 368.0V384.8M276.8 360.0V380.8M279.7 358.0V380.0M282.5 352.0V378.0M285.3 342.0V389.5M288.1 348.0V388.0M290.9 354.0V382.8M293.8 358.0V384.0M296.6 358.0V386.0M299.4 354.0V384.0M302.2 356.0V384.8M305.0 352.0V382.0M307.9 356.0V384.8M310.7 362.0V389.5M313.5 356.0V386.0M316.3 360.0V389.5M319.1 362.0V389.5M322.0 366.0V389.5M324.8 372.0V389.5" stroke="#008000" stroke-width="0.9" fill="none" opacity="0.75"/>
<path d="M266.9 368.0h3M266.9 380.8h3M269.7 362.0h3M269.7 378.8h3M272.5 368.0h3M272.5 384.8h3M275.3 360.0h3M275.3 380.8h3M278.2 358.0h3M278.2 380.0h3M281.0 352.0h3M281.0 378.0h3M283.8 342.0h3M286.6 348.0h3M286.6 388.0h3M289.4 354.0h3M289.4 382.8h3M292.3 358.0h3M292.3 384.0h3M295.1 358.0h3M295.1 386.0h3M297.9 354.0h3M297.9 384.0h3M300.7 356.0h3M300.7 384.8h3M303.5 352.0h3M303.5 382.0h3M306.4 356.0h3M306.4 384.8h3M309.2 362.0h3M312.0 356.0h3M312.0 386.0h3M314.8 360.0h3M317.6 362.0h3M320.5 366.0h3M323.3 372.0h3" stroke="#008000" stroke-width="0.9" fill="none" opacity="0.75"/>
<polyline points="268.4,374.4 271.2,370.4 274.0,376.4 276.8,370.4 279.7,369.0 282.5,365.0 285.3,369.6 288.1,368.0 290.9,368.4 293.8,371.0 296.6,372.0 299.4,369.0 302.2,370.4 305.0,367.0 307.9,370.4 310.7,377.0 313.5,371.0 316.3,375.6 319.1,378.0 322.0,381.0 324.8,386.0" stroke="#008000" stroke-width="1.2" fill="none" stroke-linejoin="round"/>
<circle cx="268.4" cy="374.4" r="1.9" fill="#008000"/>
<circle cx="271.2" cy="370.4" r="1.9" fill="#008000"/>
<circle cx="274.0" cy="376.4" r="1.9" fill="#008000"/>
<circle cx="276.8" cy="370.4" r="1.9" fill="#008000"/>
<circle cx="279.7" cy="369.0" r="1.9" fill="#008000"/>
<circle cx="282.5" cy="365.0" r="1.9" fill="#008000"/>
<circle cx="285.3" cy="369.6" r="1.9" fill="#008000"/>
<circle cx="288.1" cy="368.0" r="1.9" fill="#008000"/>
<circle cx="290.9" cy="368.4" r="1.9" fill="#008000"/>
<circle cx="293.8" cy="371.0" r="1.9" fill="#008000"/>
<circle cx="296.6" cy="372.0" r="1.9" fill="#008000"/>
<circle cx="299.4" cy="369.0" r="1.9" fill="#008000"/>
<circle cx="302.2" cy="370.4" r="1.9" fill="#008000"/>
<circle cx="305.0" cy="367.0" r="1.9" fill="#008000"/>
<circle cx="307.9" cy="370.4" r="1.9" fill="#008000"/>
<circle cx="310.7" cy="377.0" r="1.9" fill="#008000"/>
<circle cx="313.5" cy="371.0" r="1.9" fill="#008000"/>
<circle cx="316.3" cy="375.6" r="1.9" fill="#008000"/>
<circle cx="319.1" cy="378.0" r="1.9" fill="#008000"/>
<circle cx="322.0" cy="381.0" r="1.9" fill="#008000"/>
<circle cx="324.8" cy="386.0" r="1.9" fill="#008000"/>
<line x1="200.7" y1="327.1" x2="327.6" y2="327.1" stroke="#000" stroke-width="1.1" stroke-dasharray="2.9 2.1"/>
<line x1="200.7" y1="366.8" x2="327.6" y2="366.8" stroke="#000" stroke-width="1.1" stroke-dasharray="2.9 2.1"/>
<text x="329.1" y="329.8" font-size="6.1" font-weight="normal" text-anchor="start" fill="#111" stroke="#111" stroke-width="0.2">5.72</text>
<text x="329.1" y="369.4" font-size="6.1" font-weight="normal" text-anchor="start" fill="#111" stroke="#111" stroke-width="0.2">3.35</text>
<text x="195.9" y="307.9" font-size="6.5" font-weight="bold" text-anchor="end" fill="#000" >7</text>
<text x="195.9" y="324.7" font-size="6.5" font-weight="bold" text-anchor="end" fill="#000" >6</text>
<text x="195.9" y="341.5" font-size="6.5" font-weight="bold" text-anchor="end" fill="#000" >5</text>
<text x="195.9" y="358.2" font-size="6.5" font-weight="bold" text-anchor="end" fill="#000" >4</text>
<text x="195.9" y="375.0" font-size="6.5" font-weight="bold" text-anchor="end" fill="#000" >3</text>
<text x="195.9" y="391.8" font-size="6.5" font-weight="bold" text-anchor="end" fill="#000" >2</text>
<text x="327.6" y="400.7" font-size="6.5" font-weight="bold" text-anchor="middle" fill="#000" >0</text>
<text x="299.4" y="400.7" font-size="6.5" font-weight="bold" text-anchor="middle" fill="#000" >10</text>
<text x="271.2" y="400.7" font-size="6.5" font-weight="bold" text-anchor="middle" fill="#000" >20</text>
<text x="243.0" y="400.7" font-size="6.5" font-weight="bold" text-anchor="middle" fill="#000" >30</text>
<text x="214.8" y="400.7" font-size="6.5" font-weight="bold" text-anchor="middle" fill="#000" >40</text>
<text x="264.4" y="412.0" font-size="7.5" font-weight="bold" text-anchor="middle" fill="#000" textLength="68.3" lengthAdjust="spacingAndGlyphs" >Day before outcome</text>
<text transform="translate(189.5,347.9) rotate(-90)" font-size="7.3" font-weight="bold" text-anchor="middle" textLength="38.1" lengthAdjust="spacingAndGlyphs">TC(mmol/L)</text>
<text x="262.9" y="302.2" font-size="7.3" font-weight="bold" text-anchor="middle" fill="#000" >Total Cholesterol</text>
</g>
<g>
<line x1="375.1" y1="306.2" x2="375.1" y2="344.0" stroke="#000" stroke-width="1.3" />
<line x1="375.1" y1="351.0" x2="375.1" y2="390.1" stroke="#000" stroke-width="1.3" />
<line x1="372.9" y1="346.2" x2="377.3" y2="341.8" stroke="#000" stroke-width="1.1" />
<line x1="372.9" y1="353.2" x2="377.3" y2="348.8" stroke="#000" stroke-width="1.1" />
<line x1="374.5" y1="390.1" x2="502.2" y2="390.1" stroke="#000" stroke-width="1.3" />
<line x1="371.1" y1="306.2" x2="375.1" y2="306.2" stroke="#000" stroke-width="1.2" />
<line x1="371.1" y1="317.3" x2="375.1" y2="317.3" stroke="#000" stroke-width="1.2" />
<line x1="371.1" y1="328.4" x2="375.1" y2="328.4" stroke="#000" stroke-width="1.2" />
<line x1="371.1" y1="339.5" x2="375.1" y2="339.5" stroke="#000" stroke-width="1.2" />
<line x1="371.1" y1="359.1" x2="375.1" y2="359.1" stroke="#000" stroke-width="1.2" />
<line x1="371.1" y1="374.6" x2="375.1" y2="374.6" stroke="#000" stroke-width="1.2" />
<line x1="371.1" y1="390.1" x2="375.1" y2="390.1" stroke="#000" stroke-width="1.2" />
<line x1="501.7" y1="390.1" x2="501.7" y2="393.7" stroke="#000" stroke-width="1.1" />
<line x1="487.6" y1="390.1" x2="487.6" y2="392.3" stroke="#000" stroke-width="1.1" />
<line x1="473.6" y1="390.1" x2="473.6" y2="393.7" stroke="#000" stroke-width="1.1" />
<line x1="459.5" y1="390.1" x2="459.5" y2="392.3" stroke="#000" stroke-width="1.1" />
<line x1="445.4" y1="390.1" x2="445.4" y2="393.7" stroke="#000" stroke-width="1.1" />
<line x1="431.4" y1="390.1" x2="431.4" y2="392.3" stroke="#000" stroke-width="1.1" />
<line x1="417.3" y1="390.1" x2="417.3" y2="393.7" stroke="#000" stroke-width="1.1" />
<line x1="403.2" y1="390.1" x2="403.2" y2="392.3" stroke="#000" stroke-width="1.1" />
<line x1="389.2" y1="390.1" x2="389.2" y2="393.7" stroke="#000" stroke-width="1.1" />
<line x1="375.1" y1="390.1" x2="375.1" y2="392.3" stroke="#000" stroke-width="1.1" />
<path d="M437.0 377.0V381.0M439.8 374.0V382.0M442.6 376.0V382.0M445.4 373.0V381.0M448.3 375.0V381.0M451.1 373.0V381.0M453.9 375.0V381.0M456.7 374.0V380.0M459.5 375.0V381.0M462.3 376.0V382.0M465.1 375.0V381.0M467.9 375.0V381.0M470.8 374.0V380.0M473.6 373.0V381.0M476.4 372.0V380.0M479.2 370.0V380.0M482.0 369.0V379.0M484.8 366.0V380.0M487.6 368.0V380.0M490.4 370.0V380.0M493.3 369.0V379.0M496.1 372.0V380.0M498.9 373.0V381.0" stroke="#FFA36B" stroke-width="0.8" fill="none" opacity="1"/>
<path d="M435.5 377.0h3M435.5 381.0h3M438.3 374.0h3M438.3 382.0h3M441.1 376.0h3M441.1 382.0h3M443.9 373.0h3M443.9 381.0h3M446.8 375.0h3M446.8 381.0h3M449.6 373.0h3M449.6 381.0h3M452.4 375.0h3M452.4 381.0h3M455.2 374.0h3M455.2 380.0h3M458.0 375.0h3M458.0 381.0h3M460.8 376.0h3M460.8 382.0h3M463.6 375.0h3M463.6 381.0h3M466.4 375.0h3M466.4 381.0h3M469.3 374.0h3M469.3 380.0h3M472.1 373.0h3M472.1 381.0h3M474.9 372.0h3M474.9 380.0h3M477.7 370.0h3M477.7 380.0h3M480.5 369.0h3M480.5 379.0h3M483.3 366.0h3M483.3 380.0h3M486.1 368.0h3M486.1 380.0h3M488.9 370.0h3M488.9 380.0h3M491.8 369.0h3M491.8 379.0h3M494.6 372.0h3M494.6 380.0h3M497.4 373.0h3M497.4 381.0h3" stroke="#FF7A2A" stroke-width="1.1" fill="none" opacity="1"/>
<polyline points="437.0,379.0 439.8,378.0 442.6,379.0 445.4,377.0 448.3,378.0 451.1,377.0 453.9,378.0 456.7,377.0 459.5,378.0 462.3,379.0 465.1,378.0 467.9,378.0 470.8,377.0 473.6,377.0 476.4,376.0 479.2,375.0 482.0,374.0 484.8,373.0 487.6,374.0 490.4,375.0 493.3,374.0 496.1,376.0 498.9,377.0" stroke="#FF6600" stroke-width="1.3" fill="none" stroke-linejoin="round"/>
<path d="M437.0 376.9L438.8 380.5L435.2 380.5Z" fill="#FF6600"/>
<path d="M439.8 375.9L441.6 379.5L438.0 379.5Z" fill="#FF6600"/>
<path d="M442.6 376.9L444.4 380.5L440.8 380.5Z" fill="#FF6600"/>
<path d="M445.4 374.9L447.2 378.5L443.6 378.5Z" fill="#FF6600"/>
<path d="M448.3 375.9L450.1 379.5L446.5 379.5Z" fill="#FF6600"/>
<path d="M451.1 374.9L452.9 378.5L449.3 378.5Z" fill="#FF6600"/>
<path d="M453.9 375.9L455.7 379.5L452.1 379.5Z" fill="#FF6600"/>
<path d="M456.7 374.9L458.5 378.5L454.9 378.5Z" fill="#FF6600"/>
<path d="M459.5 375.9L461.3 379.5L457.7 379.5Z" fill="#FF6600"/>
<path d="M462.3 376.9L464.1 380.5L460.5 380.5Z" fill="#FF6600"/>
<path d="M465.1 375.9L466.9 379.5L463.3 379.5Z" fill="#FF6600"/>
<path d="M467.9 375.9L469.7 379.5L466.1 379.5Z" fill="#FF6600"/>
<path d="M470.8 374.9L472.6 378.5L469.0 378.5Z" fill="#FF6600"/>
<path d="M473.6 374.9L475.4 378.5L471.8 378.5Z" fill="#FF6600"/>
<path d="M476.4 373.9L478.2 377.5L474.6 377.5Z" fill="#FF6600"/>
<path d="M479.2 372.9L481.0 376.5L477.4 376.5Z" fill="#FF6600"/>
<path d="M482.0 371.9L483.8 375.5L480.2 375.5Z" fill="#FF6600"/>
<path d="M484.8 370.9L486.6 374.5L483.0 374.5Z" fill="#FF6600"/>
<path d="M487.6 371.9L489.4 375.5L485.8 375.5Z" fill="#FF6600"/>
<path d="M490.4 372.9L492.2 376.5L488.6 376.5Z" fill="#FF6600"/>
<path d="M493.3 371.9L495.1 375.5L491.5 375.5Z" fill="#FF6600"/>
<path d="M496.1 373.9L497.9 377.5L494.3 377.5Z" fill="#FF6600"/>
<path d="M498.9 374.9L500.7 378.5L497.1 378.5Z" fill="#FF6600"/>
<path d="M375.1 360.9V365.5M376.8 372.0V384.8M377.9 372.0V382.6M380.7 368.8V379.0M382.1 372.0V380.4M383.6 368.3V384.1M386.4 374.0V380.6M389.2 373.0V379.0M392.0 372.0V378.2M394.8 372.0V378.2M397.6 372.0V379.0M400.4 371.0V378.0M401.8 377.0V383.2M403.2 376.0V382.8M406.1 374.5V385.7M408.9 375.0V380.8M411.7 377.0V383.2M414.5 369.6V380.6M417.3 380.0V387.0M420.1 377.0V384.4M422.9 376.0V382.0M425.7 368.3V377.3M428.6 370.5V376.3M431.4 376.0V383.2M434.2 376.0V383.2M437.0 376.0V382.0M439.8 375.0V381.8M442.6 374.0V381.0M445.4 374.0V382.0M448.3 373.0V381.0M451.1 374.0V383.0M453.9 372.0V382.0M456.7 373.0V383.0M459.5 374.0V384.0M462.3 375.0V385.0M465.1 376.0V386.0M467.9 374.0V384.0M470.8 373.0V383.0M473.6 372.0V386.0M476.4 374.0V386.0M479.2 376.0V386.0M482.0 370.0V384.0M484.8 339.0V369.6M487.6 351.6V390.1M490.4 370.0V386.0M493.3 334.3V389.1M496.1 370.0V382.0M498.9 372.0V386.0" stroke="#8CF98C" stroke-width="0.8" fill="none" opacity="1"/>
<path d="M373.6 360.9h3M373.6 365.5h3M375.3 372.0h3M375.3 384.8h3M376.4 372.0h3M376.4 382.6h3M379.2 368.8h3M379.2 379.0h3M380.6 372.0h3M380.6 380.4h3M382.1 368.3h3M382.1 384.1h3M384.9 374.0h3M384.9 380.6h3M387.7 373.0h3M387.7 379.0h3M390.5 372.0h3M390.5 378.2h3M393.3 372.0h3M393.3 378.2h3M396.1 372.0h3M396.1 379.0h3M398.9 371.0h3M398.9 378.0h3M400.3 377.0h3M400.3 383.2h3M401.7 376.0h3M401.7 382.8h3M404.6 374.5h3M404.6 385.7h3M407.4 375.0h3M407.4 380.8h3M410.2 377.0h3M410.2 383.2h3M413.0 369.6h3M413.0 380.6h3M415.8 380.0h3M415.8 387.0h3M418.6 377.0h3M418.6 384.4h3M421.4 376.0h3M421.4 382.0h3M424.2 368.3h3M424.2 377.3h3M427.1 370.5h3M427.1 376.3h3M429.9 376.0h3M429.9 383.2h3M432.7 376.0h3M432.7 383.2h3M435.5 376.0h3M435.5 382.0h3M438.3 375.0h3M438.3 381.8h3M441.1 374.0h3M441.1 381.0h3M443.9 374.0h3M443.9 382.0h3M446.8 373.0h3M446.8 381.0h3M449.6 374.0h3M449.6 383.0h3M452.4 372.0h3M452.4 382.0h3M455.2 373.0h3M455.2 383.0h3M458.0 374.0h3M458.0 384.0h3M460.8 375.0h3M460.8 385.0h3M463.6 376.0h3M463.6 386.0h3M466.4 374.0h3M466.4 384.0h3M469.3 373.0h3M469.3 383.0h3M472.1 372.0h3M472.1 386.0h3M474.9 374.0h3M474.9 386.0h3M477.7 376.0h3M477.7 386.0h3M480.5 370.0h3M480.5 384.0h3M483.3 339.0h3M483.3 369.6h3M486.1 351.6h3M488.9 370.0h3M488.9 386.0h3M491.8 334.3h3M491.8 389.1h3M494.6 370.0h3M494.6 382.0h3M497.4 372.0h3M497.4 386.0h3" stroke="#8CF98C" stroke-width="0.8" fill="none" opacity="1"/>
<polyline points="375.1,363.2 376.8,378.4 377.9,377.3 380.7,373.9 382.1,376.2 383.6,376.2 386.4,377.3 389.2,376.0 392.0,375.1 394.8,375.1 397.6,375.5 400.4,374.5 401.8,380.1 403.2,379.4 406.1,380.1 408.9,377.9 411.7,380.1 414.5,375.1 417.3,383.5 420.1,380.7 422.9,379.0 425.7,372.8 428.6,373.4 431.4,379.6 434.2,379.6 437.0,379.0 439.8,378.4 442.6,377.5 445.4,378.0 448.3,377.0 451.1,378.5 453.9,377.0 456.7,378.0 459.5,379.0 462.3,380.0 465.1,381.0 467.9,379.0 470.8,378.0 473.6,379.0 476.4,380.0 479.2,381.0 482.0,377.0 484.8,354.3 487.6,372.0 490.4,378.0 493.3,361.7 496.1,376.0 498.9,379.0" stroke="#8CF98C" stroke-width="1.4" fill="none" stroke-linejoin="round"/>
<rect x="373.3" y="361.3" width="3.7" height="3.7" fill="#8CF98C"/>
<rect x="375.0" y="376.5" width="3.7" height="3.7" fill="#8CF98C"/>
<rect x="376.1" y="375.4" width="3.7" height="3.7" fill="#8CF98C"/>
<rect x="378.9" y="372.0" width="3.7" height="3.7" fill="#8CF98C"/>
<rect x="380.3" y="374.3" width="3.7" height="3.7" fill="#8CF98C"/>
<rect x="381.7" y="374.3" width="3.7" height="3.7" fill="#8CF98C"/>
<rect x="384.5" y="375.4" width="3.7" height="3.7" fill="#8CF98C"/>
<rect x="387.3" y="374.1" width="3.7" height="3.7" fill="#8CF98C"/>
<rect x="390.1" y="373.2" width="3.7" height="3.7" fill="#8CF98C"/>
<rect x="393.0" y="373.2" width="3.7" height="3.7" fill="#8CF98C"/>
<rect x="395.8" y="373.6" width="3.7" height="3.7" fill="#8CF98C"/>
<rect x="398.6" y="372.6" width="3.7" height="3.7" fill="#8CF98C"/>
<rect x="400.0" y="378.2" width="3.7" height="3.7" fill="#8CF98C"/>
<rect x="401.4" y="377.5" width="3.7" height="3.7" fill="#8CF98C"/>
<rect x="404.2" y="378.2" width="3.7" height="3.7" fill="#8CF98C"/>
<rect x="407.0" y="376.0" width="3.7" height="3.7" fill="#8CF98C"/>
<rect x="409.8" y="378.2" width="3.7" height="3.7" fill="#8CF98C"/>
<rect x="412.6" y="373.2" width="3.7" height="3.7" fill="#8CF98C"/>
<rect x="415.5" y="381.6" width="3.7" height="3.7" fill="#8CF98C"/>
<rect x="418.3" y="378.8" width="3.7" height="3.7" fill="#8CF98C"/>
<rect x="421.1" y="377.1" width="3.7" height="3.7" fill="#8CF98C"/>
<rect x="423.9" y="370.9" width="3.7" height="3.7" fill="#8CF98C"/>
<rect x="426.7" y="371.5" width="3.7" height="3.7" fill="#8CF98C"/>
<rect x="429.5" y="377.8" width="3.7" height="3.7" fill="#8CF98C"/>
<rect x="432.3" y="377.8" width="3.7" height="3.7" fill="#8CF98C"/>
<rect x="435.2" y="377.1" width="3.7" height="3.7" fill="#8CF98C"/>
<rect x="438.0" y="376.5" width="3.7" height="3.7" fill="#8CF98C"/>
<rect x="440.8" y="375.6" width="3.7" height="3.7" fill="#8CF98C"/>
<rect x="443.6" y="376.1" width="3.7" height="3.7" fill="#8CF98C"/>
<rect x="446.4" y="375.1" width="3.7" height="3.7" fill="#8CF98C"/>
<rect x="449.2" y="376.6" width="3.7" height="3.7" fill="#8CF98C"/>
<rect x="452.0" y="375.1" width="3.7" height="3.7" fill="#8CF98C"/>
<rect x="454.8" y="376.1" width="3.7" height="3.7" fill="#8CF98C"/>
<rect x="457.7" y="377.1" width="3.7" height="3.7" fill="#8CF98C"/>
<rect x="460.5" y="378.1" width="3.7" height="3.7" fill="#8CF98C"/>
<rect x="463.3" y="379.1" width="3.7" height="3.7" fill="#8CF98C"/>
<rect x="466.1" y="377.1" width="3.7" height="3.7" fill="#8CF98C"/>
<rect x="468.9" y="376.1" width="3.7" height="3.7" fill="#8CF98C"/>
<rect x="471.7" y="377.1" width="3.7" height="3.7" fill="#8CF98C"/>
<rect x="474.5" y="378.1" width="3.7" height="3.7" fill="#8CF98C"/>
<rect x="477.3" y="379.1" width="3.7" height="3.7" fill="#8CF98C"/>
<rect x="480.2" y="375.1" width="3.7" height="3.7" fill="#8CF98C"/>
<rect x="483.0" y="352.4" width="3.7" height="3.7" fill="#8CF98C"/>
<rect x="485.8" y="370.1" width="3.7" height="3.7" fill="#8CF98C"/>
<rect x="488.6" y="376.1" width="3.7" height="3.7" fill="#8CF98C"/>
<rect x="491.4" y="359.8" width="3.7" height="3.7" fill="#8CF98C"/>
<rect x="494.2" y="374.1" width="3.7" height="3.7" fill="#8CF98C"/>
<rect x="497.0" y="377.1" width="3.7" height="3.7" fill="#8CF98C"/>
<path d="M453.9 372.0V378.4M456.7 370.0V377.6M459.5 373.0V380.0M462.3 376.0V382.4M465.1 377.0V383.4M467.9 378.0V384.0M470.8 371.0V377.4M473.6 374.0V381.0M476.4 373.0V381.4M479.2 372.0V381.0M482.0 371.0V380.2M484.8 376.0V386.6M487.6 372.0V382.4M490.4 368.0V380.4M493.3 365.7V382.7M496.1 371.8V382.0M498.9 371.8V386.6" stroke="#008000" stroke-width="0.9" fill="none" opacity="0.75"/>
<path d="M452.4 372.0h3M452.4 378.4h3M455.2 370.0h3M455.2 377.6h3M458.0 373.0h3M458.0 380.0h3M460.8 376.0h3M460.8 382.4h3M463.6 377.0h3M463.6 383.4h3M466.4 378.0h3M466.4 384.0h3M469.3 371.0h3M469.3 377.4h3M472.1 374.0h3M472.1 381.0h3M474.9 373.0h3M474.9 381.4h3M477.7 372.0h3M477.7 381.0h3M480.5 371.0h3M480.5 380.2h3M483.3 376.0h3M483.3 386.6h3M486.1 372.0h3M486.1 382.4h3M488.9 368.0h3M488.9 380.4h3M491.8 365.7h3M491.8 382.7h3M494.6 371.8h3M494.6 382.0h3M497.4 371.8h3M497.4 386.6h3" stroke="#008000" stroke-width="0.9" fill="none" opacity="0.75"/>
<polyline points="453.9,375.2 456.7,373.8 459.5,376.5 462.3,379.2 465.1,380.2 467.9,381.0 470.8,374.2 473.6,377.5 476.4,377.2 479.2,376.5 482.0,375.6 484.8,381.3 487.6,377.2 490.4,374.2 493.3,374.2 496.1,376.9 498.9,379.2" stroke="#008000" stroke-width="1.2" fill="none" stroke-linejoin="round"/>
<circle cx="453.9" cy="375.2" r="1.9" fill="#008000"/>
<circle cx="456.7" cy="373.8" r="1.9" fill="#008000"/>
<circle cx="459.5" cy="376.5" r="1.9" fill="#008000"/>
<circle cx="462.3" cy="379.2" r="1.9" fill="#008000"/>
<circle cx="465.1" cy="380.2" r="1.9" fill="#008000"/>
<circle cx="467.9" cy="381.0" r="1.9" fill="#008000"/>
<circle cx="470.8" cy="374.2" r="1.9" fill="#008000"/>
<circle cx="473.6" cy="377.5" r="1.9" fill="#008000"/>
<circle cx="476.4" cy="377.2" r="1.9" fill="#008000"/>
<circle cx="479.2" cy="376.5" r="1.9" fill="#008000"/>
<circle cx="482.0" cy="375.6" r="1.9" fill="#008000"/>
<circle cx="484.8" cy="381.3" r="1.9" fill="#008000"/>
<circle cx="487.6" cy="377.2" r="1.9" fill="#008000"/>
<circle cx="490.4" cy="374.2" r="1.9" fill="#008000"/>
<circle cx="493.3" cy="374.2" r="1.9" fill="#008000"/>
<circle cx="496.1" cy="376.9" r="1.9" fill="#008000"/>
<circle cx="498.9" cy="379.2" r="1.9" fill="#008000"/>
<line x1="375.1" y1="376.9" x2="501.7" y2="376.9" stroke="#000" stroke-width="1.1" stroke-dasharray="2.9 2.1"/>
<line x1="375.1" y1="386.4" x2="501.7" y2="386.4" stroke="#000" stroke-width="1.1" stroke-dasharray="2.9 2.1"/>
<text x="501.1" y="379.4" font-size="6.1" font-weight="normal" text-anchor="start" fill="#111" stroke="#111" stroke-width="0.2">1.71</text>
<text x="501.4" y="387.8" font-size="6.1" font-weight="normal" text-anchor="start" fill="#111" stroke="#111" stroke-width="0.2">0.48</text>
<text x="370.3" y="308.5" font-size="6.5" font-weight="bold" text-anchor="end" fill="#000" >14</text>
<text x="370.3" y="319.6" font-size="6.5" font-weight="bold" text-anchor="end" fill="#000" >12</text>
<text x="370.3" y="330.7" font-size="6.5" font-weight="bold" text-anchor="end" fill="#000" >10</text>
<text x="370.3" y="341.8" font-size="6.5" font-weight="bold" text-anchor="end" fill="#000" >8</text>
<text x="370.3" y="361.4" font-size="6.5" font-weight="bold" text-anchor="end" fill="#000" >4</text>
<text x="370.3" y="376.9" font-size="6.5" font-weight="bold" text-anchor="end" fill="#000" >2</text>
<text x="370.3" y="392.4" font-size="6.5" font-weight="bold" text-anchor="end" fill="#000" >0</text>
<text x="501.7" y="401.3" font-size="6.5" font-weight="bold" text-anchor="middle" fill="#000" >0</text>
<text x="473.6" y="401.3" font-size="6.5" font-weight="bold" text-anchor="middle" fill="#000" >10</text>
<text x="445.4" y="401.3" font-size="6.5" font-weight="bold" text-anchor="middle" fill="#000" >20</text>
<text x="417.3" y="401.3" font-size="6.5" font-weight="bold" text-anchor="middle" fill="#000" >30</text>
<text x="389.2" y="401.3" font-size="6.5" font-weight="bold" text-anchor="middle" fill="#000" >40</text>
<text x="438.6" y="412.2" font-size="7.5" font-weight="bold" text-anchor="middle" fill="#000" textLength="68.3" lengthAdjust="spacingAndGlyphs" >Day before outcome</text>
<text transform="translate(359.7,348.5) rotate(-90)" font-size="7.3" font-weight="bold" text-anchor="middle" textLength="37.7" lengthAdjust="spacingAndGlyphs">TG(mmol/L)</text>
<text x="430.5" y="303.5" font-size="7.3" font-weight="bold" text-anchor="middle" fill="#000" >Triglyceride</text>
</g>
<g>
<line x1="540.9" y1="298.5" x2="540.9" y2="390.2" stroke="#000" stroke-width="1.3" />
<line x1="540.2" y1="390.2" x2="679.3" y2="390.2" stroke="#000" stroke-width="1.3" />
<line x1="536.9" y1="298.5" x2="540.9" y2="298.5" stroke="#000" stroke-width="1.2" />
<line x1="536.9" y1="316.8" x2="540.9" y2="316.8" stroke="#000" stroke-width="1.2" />
<line x1="536.9" y1="335.2" x2="540.9" y2="335.2" stroke="#000" stroke-width="1.2" />
<line x1="536.9" y1="353.5" x2="540.9" y2="353.5" stroke="#000" stroke-width="1.2" />
<line x1="536.9" y1="371.9" x2="540.9" y2="371.9" stroke="#000" stroke-width="1.2" />
<line x1="536.9" y1="390.2" x2="540.9" y2="390.2" stroke="#000" stroke-width="1.2" />
<line x1="678.8" y1="390.2" x2="678.8" y2="393.8" stroke="#000" stroke-width="1.1" />
<line x1="651.2" y1="390.2" x2="651.2" y2="393.8" stroke="#000" stroke-width="1.1" />
<line x1="623.6" y1="390.2" x2="623.6" y2="393.8" stroke="#000" stroke-width="1.1" />
<line x1="596.1" y1="390.2" x2="596.1" y2="393.8" stroke="#000" stroke-width="1.1" />
<line x1="568.5" y1="390.2" x2="568.5" y2="393.8" stroke="#000" stroke-width="1.1" />
<line x1="540.9" y1="390.2" x2="540.9" y2="393.8" stroke="#000" stroke-width="1.1" />
<line x1="540.9" y1="353.5" x2="678.8" y2="353.5" stroke="#000" stroke-width="1.1" stroke-dasharray="2.9 2.1"/>
<path d="M554.7 348.1V371.4M612.6 353.4V371.6M615.4 353.4V371.6M618.1 353.4V371.6M620.9 353.4V371.6M626.4 353.4V371.6M631.9 353.4V371.6M634.7 353.4V371.6M637.4 353.4V371.6M640.2 353.4V371.6M642.9 353.4V371.6M645.7 353.4V371.6M648.5 353.4V371.6M651.2 353.4V371.6M654.0 353.4V371.6M656.7 353.4V371.6M659.5 353.4V371.6M662.3 353.4V371.6M665.0 353.4V371.6M667.8 353.4V371.6M670.5 353.4V371.6M676.0 353.4V371.6" stroke="#FFA36B" stroke-width="0.8" fill="none" opacity="1"/>
<path d="M553.2 348.1h3M553.2 371.4h3M611.1 371.6h3M613.9 353.4h3M613.9 371.6h3M616.6 371.6h3M619.4 353.4h3M624.9 353.4h3M630.4 353.4h3M633.2 353.4h3M635.9 353.4h3M638.7 353.4h3M641.4 353.4h3M644.2 353.4h3M647.0 353.4h3M649.7 353.4h3M649.7 371.6h3M652.5 353.4h3M655.2 353.4h3M658.0 353.4h3M658.0 371.6h3M660.8 353.4h3M663.5 353.4h3M666.3 353.4h3M666.3 371.6h3M669.0 371.6h3M674.5 371.6h3" stroke="#FF7A2A" stroke-width="1.1" fill="none" opacity="1"/>
<polyline points="554.7,359.5 558.8,353.4 561.6,365.6" stroke="#FF6600" stroke-width="1.3" fill="none" stroke-linejoin="round"/>
<polyline points="612.6,353.4 615.4,362.0 618.1,353.4 620.9,371.6 626.4,371.6 631.9,371.6 634.7,371.6 637.4,371.6 640.2,371.6 642.9,371.6 645.7,371.6 648.5,371.6 651.2,362.0 654.0,371.6 656.7,371.6 659.5,362.0 662.3,371.6 665.0,371.6 667.8,362.0 670.5,353.4 673.3,333.5 676.0,353.4" stroke="#FF6600" stroke-width="1.3" fill="none" stroke-linejoin="round"/>
<path d="M554.7 357.4L556.5 361.0L552.9 361.0Z" fill="#FF6600"/>
<path d="M558.8 351.3L560.6 354.9L557.0 354.9Z" fill="#FF6600"/>
<path d="M561.6 363.5L563.4 367.1L559.8 367.1Z" fill="#FF6600"/>
<path d="M612.6 351.3L614.4 354.9L610.8 354.9Z" fill="#FF6600"/>
<path d="M615.4 359.9L617.2 363.5L613.6 363.5Z" fill="#FF6600"/>
<path d="M618.1 351.3L619.9 354.9L616.3 354.9Z" fill="#FF6600"/>
<path d="M620.9 369.5L622.7 373.1L619.1 373.1Z" fill="#FF6600"/>
<path d="M626.4 369.5L628.2 373.1L624.6 373.1Z" fill="#FF6600"/>
<path d="M631.9 369.5L633.7 373.1L630.1 373.1Z" fill="#FF6600"/>
<path d="M634.7 369.5L636.5 373.1L632.9 373.1Z" fill="#FF6600"/>
<path d="M637.4 369.5L639.2 373.1L635.6 373.1Z" fill="#FF6600"/>
<path d="M640.2 369.5L642.0 373.1L638.4 373.1Z" fill="#FF6600"/>
<path d="M642.9 369.5L644.7 373.1L641.1 373.1Z" fill="#FF6600"/>
<path d="M645.7 369.5L647.5 373.1L643.9 373.1Z" fill="#FF6600"/>
<path d="M648.5 369.5L650.3 373.1L646.7 373.1Z" fill="#FF6600"/>
<path d="M651.2 359.9L653.0 363.5L649.4 363.5Z" fill="#FF6600"/>
<path d="M654.0 369.5L655.8 373.1L652.2 373.1Z" fill="#FF6600"/>
<path d="M656.7 369.5L658.5 373.1L654.9 373.1Z" fill="#FF6600"/>
<path d="M659.5 359.9L661.3 363.5L657.7 363.5Z" fill="#FF6600"/>
<path d="M662.3 369.5L664.1 373.1L660.5 373.1Z" fill="#FF6600"/>
<path d="M665.0 369.5L666.8 373.1L663.2 373.1Z" fill="#FF6600"/>
<path d="M667.8 359.9L669.6 363.5L666.0 363.5Z" fill="#FF6600"/>
<path d="M670.5 351.3L672.3 354.9L668.7 354.9Z" fill="#FF6600"/>
<path d="M673.3 331.4L675.1 335.0L671.5 335.0Z" fill="#FF6600"/>
<path d="M676.0 351.3L677.8 354.9L674.2 354.9Z" fill="#FF6600"/>
<path d="M554.7 344.3V362.5M559.7 353.4V371.6M579.2 353.4V371.6M581.2 353.4V371.6M583.4 353.4V371.6M585.6 353.4V371.6M590.8 353.4V371.6M604.3 353.4V371.6M607.1 353.4V371.6M609.8 353.4V371.6M612.6 353.4V371.6M615.4 353.4V371.6M618.1 353.4V371.6M620.9 353.4V371.6M623.6 353.4V371.6M626.4 353.4V371.6M629.2 353.4V371.6M631.9 353.4V371.6M634.7 353.4V371.6M637.4 353.4V371.6M640.2 353.4V371.6M642.9 353.4V371.6M645.7 353.4V371.6M648.5 353.4V371.6M651.2 353.4V371.6M654.0 353.4V371.6M656.7 353.4V371.6M659.5 353.4V371.6M662.3 353.4V371.6M665.0 353.4V371.6M667.8 353.4V371.6M670.5 353.4V371.6M673.3 353.4V371.6M676.0 353.4V390.2" stroke="#8CF98C" stroke-width="0.8" fill="none" opacity="1"/>
<path d="M553.2 344.3h3M553.2 362.5h3M558.2 353.4h3M558.2 371.6h3M577.7 353.4h3M579.7 353.4h3M581.9 353.4h3M584.1 353.4h3M589.3 353.4h3M602.8 371.6h3M605.6 371.6h3M608.3 371.6h3M611.1 371.6h3M613.9 371.6h3M616.6 371.6h3M619.4 371.6h3M622.1 371.6h3M624.9 353.4h3M627.7 353.4h3M630.4 353.4h3M633.2 353.4h3M635.9 353.4h3M638.7 353.4h3M641.4 353.4h3M644.2 353.4h3M647.0 353.4h3M649.7 353.4h3M652.5 353.4h3M655.2 353.4h3M658.0 353.4h3M660.8 353.4h3M663.5 353.4h3M666.3 353.4h3M669.0 353.4h3M671.8 353.4h3M674.5 353.4h3" stroke="#8CF98C" stroke-width="0.8" fill="none" opacity="1"/>
<polyline points="554.7,353.4 557.4,353.4 559.7,362.0 562.1,371.6 579.2,371.6 581.2,371.6 583.4,371.6 585.6,371.6 590.8,371.6 599.4,371.6 601.3,353.4 604.3,353.4 607.1,353.4 609.8,353.4 612.6,353.4 615.4,353.4 618.1,353.4 620.9,353.4 623.6,353.4 626.4,371.6 629.2,371.6 631.9,371.6 634.7,371.6 637.4,371.6 640.2,371.6 642.9,371.6 645.7,371.6 648.5,371.6 651.2,371.6 654.0,371.6 656.7,371.6 659.5,371.6 662.3,371.6 665.0,371.6 667.8,371.6 670.5,371.6 673.3,371.6 676.0,371.6" stroke="#8CF98C" stroke-width="1.4" fill="none" stroke-linejoin="round"/>
<rect x="552.8" y="351.5" width="3.7" height="3.7" fill="#8CF98C"/>
<rect x="555.6" y="351.5" width="3.7" height="3.7" fill="#8CF98C"/>
<rect x="557.8" y="360.1" width="3.7" height="3.7" fill="#8CF98C"/>
<rect x="560.3" y="369.8" width="3.7" height="3.7" fill="#8CF98C"/>
<rect x="577.4" y="369.8" width="3.7" height="3.7" fill="#8CF98C"/>
<rect x="579.3" y="369.8" width="3.7" height="3.7" fill="#8CF98C"/>
<rect x="581.5" y="369.8" width="3.7" height="3.7" fill="#8CF98C"/>
<rect x="583.7" y="369.8" width="3.7" height="3.7" fill="#8CF98C"/>
<rect x="589.0" y="369.8" width="3.7" height="3.7" fill="#8CF98C"/>
<rect x="597.5" y="369.8" width="3.7" height="3.7" fill="#8CF98C"/>
<rect x="599.5" y="351.5" width="3.7" height="3.7" fill="#8CF98C"/>
<rect x="602.5" y="351.5" width="3.7" height="3.7" fill="#8CF98C"/>
<rect x="605.2" y="351.5" width="3.7" height="3.7" fill="#8CF98C"/>
<rect x="608.0" y="351.5" width="3.7" height="3.7" fill="#8CF98C"/>
<rect x="610.8" y="351.5" width="3.7" height="3.7" fill="#8CF98C"/>
<rect x="613.5" y="351.5" width="3.7" height="3.7" fill="#8CF98C"/>
<rect x="616.3" y="351.5" width="3.7" height="3.7" fill="#8CF98C"/>
<rect x="619.0" y="351.5" width="3.7" height="3.7" fill="#8CF98C"/>
<rect x="621.8" y="351.5" width="3.7" height="3.7" fill="#8CF98C"/>
<rect x="624.5" y="369.8" width="3.7" height="3.7" fill="#8CF98C"/>
<rect x="627.3" y="369.8" width="3.7" height="3.7" fill="#8CF98C"/>
<rect x="630.1" y="369.8" width="3.7" height="3.7" fill="#8CF98C"/>
<rect x="632.8" y="369.8" width="3.7" height="3.7" fill="#8CF98C"/>
<rect x="635.6" y="369.8" width="3.7" height="3.7" fill="#8CF98C"/>
<rect x="638.3" y="369.8" width="3.7" height="3.7" fill="#8CF98C"/>
<rect x="641.1" y="369.8" width="3.7" height="3.7" fill="#8CF98C"/>
<rect x="643.9" y="369.8" width="3.7" height="3.7" fill="#8CF98C"/>
<rect x="646.6" y="369.8" width="3.7" height="3.7" fill="#8CF98C"/>
<rect x="649.4" y="369.8" width="3.7" height="3.7" fill="#8CF98C"/>
<rect x="652.1" y="369.8" width="3.7" height="3.7" fill="#8CF98C"/>
<rect x="654.9" y="369.8" width="3.7" height="3.7" fill="#8CF98C"/>
<rect x="657.6" y="369.8" width="3.7" height="3.7" fill="#8CF98C"/>
<rect x="660.4" y="369.8" width="3.7" height="3.7" fill="#8CF98C"/>
<rect x="663.2" y="369.8" width="3.7" height="3.7" fill="#8CF98C"/>
<rect x="665.9" y="369.8" width="3.7" height="3.7" fill="#8CF98C"/>
<rect x="668.7" y="369.8" width="3.7" height="3.7" fill="#8CF98C"/>
<rect x="671.4" y="369.8" width="3.7" height="3.7" fill="#8CF98C"/>
<rect x="674.2" y="369.8" width="3.7" height="3.7" fill="#8CF98C"/>
<path d="M623.6 353.4V371.6M631.9 353.4V371.6M634.7 353.4V371.6M637.4 353.4V371.6M640.2 353.4V371.6M642.9 353.4V371.6M645.7 353.4V371.6M648.5 335.2V371.6M651.2 335.2V371.6M654.0 335.2V371.6M656.7 335.2V353.4M659.5 335.2V353.4M662.3 335.2V353.4M665.0 335.2V353.4M667.8 321.2V353.4M670.5 325.9V353.4M673.3 335.2V353.4M676.0 316.8V353.4" stroke="#008000" stroke-width="1.0" fill="none" opacity="0.85"/>
<path d="M622.1 371.6h3M630.4 371.6h3M633.2 371.6h3M635.9 371.6h3M638.7 371.6h3M641.4 371.6h3M644.2 371.6h3M647.0 335.2h3M647.0 371.6h3M649.7 335.2h3M649.7 371.6h3M652.5 335.2h3M652.5 371.6h3M655.2 335.2h3M658.0 335.2h3M660.8 335.2h3M663.5 335.2h3M666.3 321.2h3M669.0 325.9h3M669.0 353.4h3M671.8 353.4h3M674.5 316.8h3M674.5 353.4h3" stroke="#008000" stroke-width="1.0" fill="none" opacity="0.85"/>
<polyline points="623.6,353.4 629.2,371.6 631.9,353.4 634.7,353.4 637.4,353.4 640.2,353.4 642.9,353.4 645.7,353.4 648.5,353.4 651.2,353.4 654.0,353.4 656.7,353.4 659.5,353.4 662.3,353.4 665.0,353.4 667.8,353.4 670.5,335.2 673.3,335.2 676.0,335.2" stroke="#008000" stroke-width="1.3" fill="none" stroke-linejoin="round"/>
<path d="M623.6 351.4L625.3 354.8L621.9 354.8Z" fill="#008000"/>
<path d="M629.2 369.6L630.9 373.0L627.5 373.0Z" fill="#008000"/>
<path d="M631.9 351.4L633.6 354.8L630.2 354.8Z" fill="#008000"/>
<path d="M634.7 351.4L636.4 354.8L633.0 354.8Z" fill="#008000"/>
<path d="M637.4 351.4L639.1 354.8L635.7 354.8Z" fill="#008000"/>
<path d="M640.2 351.4L641.9 354.8L638.5 354.8Z" fill="#008000"/>
<path d="M642.9 351.4L644.6 354.8L641.2 354.8Z" fill="#008000"/>
<path d="M645.7 351.4L647.4 354.8L644.0 354.8Z" fill="#008000"/>
<path d="M648.5 351.4L650.2 354.8L646.8 354.8Z" fill="#008000"/>
<path d="M651.2 351.4L652.9 354.8L649.5 354.8Z" fill="#008000"/>
<path d="M654.0 351.4L655.7 354.8L652.3 354.8Z" fill="#008000"/>
<path d="M656.7 351.4L658.4 354.8L655.0 354.8Z" fill="#008000"/>
<path d="M659.5 351.4L661.2 354.8L657.8 354.8Z" fill="#008000"/>
<path d="M662.3 351.4L664.0 354.8L660.6 354.8Z" fill="#008000"/>
<path d="M665.0 351.4L666.7 354.8L663.3 354.8Z" fill="#008000"/>
<path d="M667.8 351.4L669.5 354.8L666.1 354.8Z" fill="#008000"/>
<path d="M670.5 333.2L672.2 336.6L668.8 336.6Z" fill="#008000"/>
<path d="M673.3 333.2L675.0 336.6L671.6 336.6Z" fill="#008000"/>
<path d="M676.0 333.2L677.7 336.6L674.3 336.6Z" fill="#008000"/>
<text x="681.8" y="334.6" font-size="6.1" font-weight="normal" text-anchor="start" fill="#111" stroke="#111" stroke-width="0.2">5</text>
<text x="536.1" y="300.8" font-size="6.5" font-weight="bold" text-anchor="end" fill="#000" >8</text>
<text x="536.1" y="319.1" font-size="6.5" font-weight="bold" text-anchor="end" fill="#000" >7</text>
<text x="536.1" y="337.5" font-size="6.5" font-weight="bold" text-anchor="end" fill="#000" >6</text>
<text x="536.1" y="355.8" font-size="6.5" font-weight="bold" text-anchor="end" fill="#000" >5</text>
<text x="536.1" y="374.2" font-size="6.5" font-weight="bold" text-anchor="end" fill="#000" >4</text>
<text x="536.1" y="392.5" font-size="6.5" font-weight="bold" text-anchor="end" fill="#000" >3</text>
<text x="678.8" y="401.4" font-size="6.5" font-weight="bold" text-anchor="middle" fill="#000" >0</text>
<text x="651.2" y="401.4" font-size="6.5" font-weight="bold" text-anchor="middle" fill="#000" >10</text>
<text x="623.6" y="401.4" font-size="6.5" font-weight="bold" text-anchor="middle" fill="#000" >20</text>
<text x="596.1" y="401.4" font-size="6.5" font-weight="bold" text-anchor="middle" fill="#000" >30</text>
<text x="568.5" y="401.4" font-size="6.5" font-weight="bold" text-anchor="middle" fill="#000" >40</text>
<text x="540.9" y="401.4" font-size="6.5" font-weight="bold" text-anchor="middle" fill="#000" >50</text>
<text x="610.0" y="412.6" font-size="7.9" font-weight="bold" text-anchor="middle" fill="#000" textLength="72.2" lengthAdjust="spacingAndGlyphs" >Day before outcome</text>
<text transform="translate(528.1,343.9) rotate(-90)" font-size="7.3" font-weight="bold" text-anchor="middle" textLength="34.5" lengthAdjust="spacingAndGlyphs">DIC score</text>
<text x="601.6" y="290.9" font-size="6.95" font-weight="bold" text-anchor="middle" fill="#000" textLength="86.8" lengthAdjust="spacingAndGlyphs" >Disseminated Intravscular</text>
<text x="603.1" y="299.1" font-size="6.95" font-weight="bold" text-anchor="middle" fill="#000" textLength="40.1" lengthAdjust="spacingAndGlyphs" >Coagulation</text>
</g>
<line x1="179.5" y1="455.0" x2="201.0" y2="455.0" stroke="#008000" stroke-width="2.1" />
<circle cx="190.1" cy="455" r="3.15" fill="#008000"/>
<text x="213.3" y="459.4" font-size="13" font-weight="normal" text-anchor="start" fill="#000" >Non-survivors</text>
<line x1="334.1" y1="455.0" x2="355.9" y2="455.0" stroke="#8CF98C" stroke-width="2.1" />
<rect x="341.9" y="452.1" width="6" height="6" fill="#8CF98C"/>
<text x="367.7" y="459.4" font-size="13" font-weight="normal" text-anchor="start" fill="#000" >Survivors</text>
<line x1="477.7" y1="455.0" x2="498.9" y2="455.0" stroke="#FF6600" stroke-width="2.1" />
<path d="M488.3 451.7 L491.4 458.2 L485.2 458.2 Z" fill="#FF6600"/>
<text x="511.2" y="459.4" font-size="13" font-weight="normal" text-anchor="start" fill="#000" >Critical</text>
</svg></body></html>
